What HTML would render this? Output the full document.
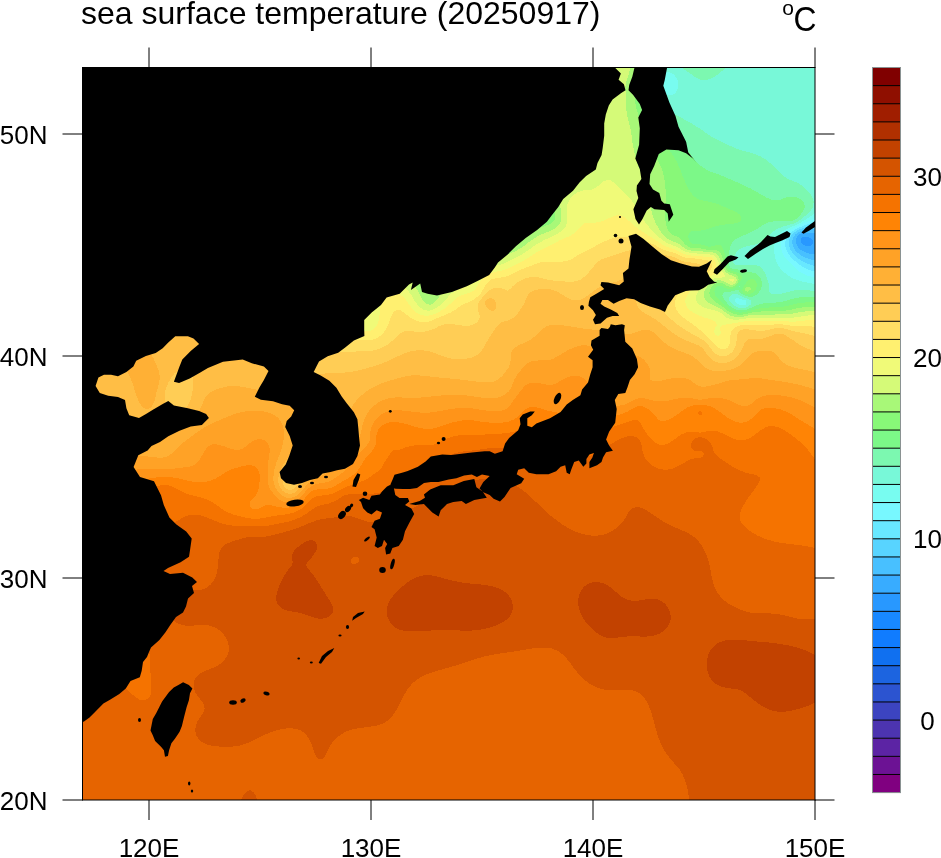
<!DOCTYPE html>
<html><head><meta charset="utf-8"><style>
html,body{margin:0;padding:0;background:#fff;}
svg{display:block;font-family:"Liberation Sans",sans-serif;}
.t{will-change:transform;}
</style></head><body>
<svg width="941" height="858" viewBox="0 0 941 858">
<defs><clipPath id="mc"><rect x="82" y="67" width="733" height="733"/></clipPath></defs>
<rect width="941" height="858" fill="#fff"/>
<g clip-path="url(#mc)" shape-rendering="crispEdges">
<path fill="#2898ff" d="M801.0 238.0L802.0 237.1L805.0 236.6L808.0 237.2L810.3 238.0L811.0 238.7L813.2 241.0L812.9 244.0L811.0 245.4L808.0 246.1L805.0 245.6L802.3 244.0L802.0 243.7L800.7 241.0Z"/><path fill="#38acff" d="M798.1 235.0L799.0 234.3L802.0 233.1L805.0 232.6L808.0 232.5L811.0 232.7L814.0 233.2L817.0 234.0L820.0 234.9L820.0 235.0L820.0 238.0L820.0 241.0L820.0 244.0L820.0 247.0L820.0 250.0L820.0 252.9L819.5 253.0L817.0 253.6L814.0 253.9L811.0 253.8L808.0 253.3L807.2 253.0L805.0 252.3L802.0 250.7L801.0 250.0L799.0 248.3L797.9 247.0L796.3 244.0L796.0 242.7L795.8 241.0L796.0 239.5L796.3 238.0ZM802.0 237.1L801.0 238.0L800.7 241.0L802.0 243.7L802.3 244.0L805.0 245.6L808.0 246.1L811.0 245.4L812.9 244.0L813.2 241.0L811.0 238.7L810.3 238.0L808.0 237.2L805.0 236.6Z"/><path fill="#48c0ff" d="M798.5 232.0L799.0 231.7L802.0 230.6L805.0 229.9L808.0 229.5L811.0 229.2L814.0 229.1L817.0 229.0L820.0 229.1L820.0 232.0L820.0 234.9L817.0 234.0L814.0 233.2L811.0 232.7L808.0 232.5L805.0 232.6L802.0 233.1L799.0 234.3L798.1 235.0L796.3 238.0L796.0 239.5L795.8 241.0L796.0 242.7L796.3 244.0L797.9 247.0L799.0 248.3L801.0 250.0L802.0 250.7L805.0 252.3L807.2 253.0L808.0 253.3L811.0 253.8L814.0 253.9L817.0 253.6L819.5 253.0L820.0 252.9L820.0 253.0L820.0 256.0L820.0 259.0L820.0 260.3L817.0 260.3L814.0 260.1L811.0 259.6L809.0 259.0L808.0 258.7L805.0 257.5L802.1 256.0L802.0 256.0L799.0 253.9L797.9 253.0L796.0 251.2L795.1 250.0L793.3 247.0L793.0 246.1L792.4 244.0L792.3 241.0L793.0 238.3L793.1 238.0L794.9 235.0L796.0 233.9Z"/><path fill="#58d4ff" d="M811.9 226.0L814.0 225.6L817.0 225.1L820.0 224.6L820.0 226.0L820.0 229.0L820.0 229.1L817.0 229.0L814.0 229.1L811.0 229.2L808.0 229.5L805.0 229.9L802.0 230.6L799.0 231.7L798.5 232.0L796.0 233.9L794.9 235.0L793.1 238.0L793.0 238.3L792.3 241.0L792.4 244.0L793.0 246.1L793.3 247.0L795.1 250.0L796.0 251.2L797.9 253.0L799.0 253.9L802.0 256.0L802.1 256.0L805.0 257.5L808.0 258.7L809.0 259.0L811.0 259.6L814.0 260.1L817.0 260.3L820.0 260.3L820.0 262.0L820.0 265.0L820.0 266.5L817.0 266.2L814.0 265.7L811.1 265.0L811.0 265.0L808.0 264.0L805.0 262.7L803.8 262.0L802.0 261.0L799.1 259.0L799.0 259.0L796.0 256.6L795.4 256.0L793.0 253.5L792.6 253.0L790.6 250.0L790.0 248.5L789.4 247.0L788.9 244.0L789.0 241.0L789.9 238.0L790.0 237.9L791.7 235.0L793.0 233.8L794.9 232.0L796.0 231.3L799.0 229.7L800.7 229.0L802.0 228.5L805.0 227.6L808.0 226.8L811.0 226.2Z"/><path fill="#68e8ff" d="M811.5 223.0L814.0 222.2L817.0 221.1L820.0 220.1L820.0 223.0L820.0 224.6L817.0 225.1L814.0 225.6L811.9 226.0L811.0 226.2L808.0 226.8L805.0 227.6L802.0 228.5L800.7 229.0L799.0 229.7L796.0 231.3L794.9 232.0L793.0 233.8L791.7 235.0L790.0 237.9L789.9 238.0L789.0 241.0L788.9 244.0L789.4 247.0L790.0 248.5L790.6 250.0L792.6 253.0L793.0 253.5L795.4 256.0L796.0 256.6L799.0 259.0L799.1 259.0L802.0 261.0L803.8 262.0L805.0 262.7L808.0 264.0L811.0 265.0L811.1 265.0L814.0 265.7L817.0 266.2L820.0 266.5L820.0 268.0L820.0 271.0L820.0 272.4L817.0 271.9L814.0 271.3L812.7 271.0L811.0 270.6L808.0 269.6L805.0 268.2L804.6 268.0L802.0 266.5L799.9 265.0L799.0 264.4L796.1 262.0L796.0 261.9L793.0 259.2L792.8 259.0L790.0 256.1L789.9 256.0L787.8 253.0L787.0 251.4L786.4 250.0L785.5 247.0L785.2 244.0L785.4 241.0L786.4 238.0L787.0 237.1L788.3 235.0L790.0 233.3L791.4 232.0L793.0 230.9L796.0 229.1L796.2 229.0L799.0 227.7L802.0 226.4L803.1 226.0L805.0 225.2L808.0 224.1L811.0 223.2Z"/><path fill="#78f8ff" d="M816.8 217.0L817.0 216.9L820.0 215.0L820.0 217.0L820.0 220.0L820.0 220.1L817.0 221.1L814.0 222.2L811.5 223.0L811.0 223.2L808.0 224.1L805.0 225.2L803.1 226.0L802.0 226.4L799.0 227.7L796.2 229.0L796.0 229.1L793.0 230.9L791.4 232.0L790.0 233.3L788.3 235.0L787.0 237.1L786.4 238.0L785.4 241.0L785.2 244.0L785.5 247.0L786.4 250.0L787.0 251.4L787.8 253.0L789.9 256.0L790.0 256.1L792.8 259.0L793.0 259.2L796.0 261.9L796.1 262.0L799.0 264.4L799.9 265.0L802.0 266.5L804.6 268.0L805.0 268.2L808.0 269.6L811.0 270.6L812.7 271.0L814.0 271.3L817.0 271.9L820.0 272.4L820.0 274.0L820.0 277.0L820.0 278.4L817.0 277.9L814.0 277.3L812.9 277.0L811.0 276.6L808.0 275.7L805.0 274.6L803.6 274.0L802.0 273.2L799.0 271.3L798.6 271.0L796.0 268.8L795.2 268.0L793.0 265.7L792.4 265.0L790.0 262.7L789.1 262.0L787.0 260.0L786.1 259.0L784.0 256.1L784.0 256.0L782.5 253.0L781.6 250.0L781.0 247.0L781.0 246.3L780.8 244.0L781.0 242.9L781.2 241.0L782.3 238.0L784.0 235.4L784.2 235.0L787.0 232.3L787.3 232.0L790.0 230.2L792.0 229.0L793.0 228.5L796.0 227.1L798.3 226.0L799.0 225.7L802.0 224.2L804.5 223.0L805.0 222.7L808.0 221.3L810.9 220.0L811.0 219.9L814.0 218.4Z"/><path fill="#78fcf0" d="M663.1 73.0L664.0 72.4L667.0 71.8L670.0 72.3L671.4 73.0L673.0 74.0L675.0 76.0L676.0 77.4L677.0 79.0L678.1 82.0L678.3 85.0L677.9 88.0L676.7 91.0L676.0 92.2L674.1 94.0L673.0 94.7L670.0 95.3L667.0 94.8L665.5 94.0L664.0 93.2L661.7 91.0L661.0 90.2L659.8 88.0L658.7 85.0L658.3 82.0L658.7 79.0L660.1 76.0L661.0 74.7ZM819.6 208.0L820.0 207.2L820.0 208.0L820.0 211.0L820.0 214.0L820.0 215.0L817.0 216.9L816.8 217.0L814.0 218.4L811.0 219.9L810.9 220.0L808.0 221.3L805.0 222.7L804.5 223.0L802.0 224.2L799.0 225.7L798.3 226.0L796.0 227.1L793.0 228.5L792.0 229.0L790.0 230.2L787.3 232.0L787.0 232.3L784.2 235.0L784.0 235.4L782.3 238.0L781.2 241.0L781.0 242.9L780.8 244.0L781.0 246.3L781.0 247.0L781.6 250.0L782.5 253.0L784.0 256.0L784.0 256.1L786.1 259.0L787.0 260.0L789.1 262.0L790.0 262.7L792.4 265.0L793.0 265.7L795.2 268.0L796.0 268.8L798.6 271.0L799.0 271.3L802.0 273.2L803.6 274.0L805.0 274.6L808.0 275.7L811.0 276.6L812.9 277.0L814.0 277.3L817.0 277.9L820.0 278.4L820.0 280.0L820.0 283.0L820.0 284.7L817.0 284.3L814.0 283.9L811.0 283.3L809.1 283.0L808.0 282.8L805.0 282.2L802.0 281.5L799.0 280.6L797.1 280.0L796.0 279.6L793.0 278.3L790.5 277.0L790.0 276.7L787.0 274.6L786.1 274.0L784.0 272.1L782.6 271.0L781.0 269.4L779.9 268.0L778.0 265.1L777.9 265.0L776.5 262.0L775.5 259.0L775.0 256.8L774.8 256.0L774.3 253.0L774.1 250.0L774.1 247.0L774.5 244.0L775.0 242.2L775.3 241.0L776.6 238.0L778.0 236.1L778.7 235.0L781.0 232.7L781.7 232.0L784.0 230.5L786.5 229.0L787.0 228.8L790.0 227.4L793.0 226.3L793.7 226.0L796.0 225.0L799.0 223.5L799.9 223.0L802.0 221.6L804.8 220.0L805.0 219.9L808.0 218.0L809.7 217.0L811.0 216.1L813.9 214.0L814.0 213.9L817.0 211.1L817.2 211.0ZM735.8 298.0L736.0 297.9L736.5 298.0L739.0 298.6L742.0 299.5L745.0 300.2L746.4 301.0L746.5 304.0L745.0 304.9L742.0 305.2L739.0 304.6L737.8 304.0L736.0 302.3L734.9 301.0Z"/><path fill="#78f8d8" d="M662.2 64.0L664.0 63.1L667.0 62.2L670.0 62.0L673.0 62.5L676.0 63.7L676.6 64.0L679.0 65.5L681.0 67.0L682.0 67.8L685.0 69.9L685.1 70.0L688.0 71.9L689.7 73.0L691.0 74.1L693.8 76.0L694.0 76.2L697.0 78.1L699.0 79.0L700.0 79.5L703.0 80.1L706.0 80.1L709.0 79.3L709.7 79.0L712.0 78.0L715.0 76.3L715.4 76.0L718.0 74.2L719.5 73.0L721.0 71.8L723.1 70.0L724.0 69.2L726.5 67.0L727.0 66.6L730.0 64.0L730.1 64.0L733.0 61.7L734.0 61.0L736.0 61.0L739.0 61.0L742.0 61.0L745.0 61.0L748.0 61.0L751.0 61.0L754.0 61.0L757.0 61.0L760.0 61.0L763.0 61.0L766.0 61.0L769.0 61.0L772.0 61.0L775.0 61.0L778.0 61.0L781.0 61.0L784.0 61.0L787.0 61.0L790.0 61.0L793.0 61.0L796.0 61.0L799.0 61.0L802.0 61.0L805.0 61.0L808.0 61.0L811.0 61.0L814.0 61.0L817.0 61.0L820.0 61.0L820.0 64.0L820.0 67.0L820.0 70.0L820.0 73.0L820.0 76.0L820.0 79.0L820.0 82.0L820.0 85.0L820.0 88.0L820.0 91.0L820.0 94.0L820.0 97.0L820.0 100.0L820.0 103.0L820.0 106.0L820.0 109.0L820.0 112.0L820.0 115.0L820.0 118.0L820.0 121.0L820.0 124.0L820.0 127.0L820.0 130.0L820.0 133.0L820.0 136.0L820.0 139.0L820.0 142.0L820.0 145.0L820.0 148.0L820.0 151.0L820.0 154.0L820.0 157.0L820.0 160.0L820.0 163.0L820.0 166.0L820.0 169.0L820.0 172.0L820.0 175.0L820.0 178.0L820.0 181.0L820.0 184.0L820.0 187.0L820.0 190.0L820.0 193.0L820.0 196.0L820.0 199.0L820.0 202.0L820.0 205.0L820.0 207.2L819.6 208.0L817.2 211.0L817.0 211.1L814.0 213.9L813.9 214.0L811.0 216.1L809.7 217.0L808.0 218.0L805.0 219.9L804.8 220.0L802.0 221.6L799.9 223.0L799.0 223.5L796.0 225.0L793.7 226.0L793.0 226.3L790.0 227.4L787.0 228.8L786.5 229.0L784.0 230.5L781.7 232.0L781.0 232.7L778.7 235.0L778.0 236.1L776.6 238.0L775.3 241.0L775.0 242.2L774.5 244.0L774.1 247.0L774.1 250.0L774.3 253.0L774.8 256.0L775.0 256.8L775.5 259.0L776.5 262.0L777.9 265.0L778.0 265.1L779.9 268.0L781.0 269.4L782.6 271.0L784.0 272.1L786.1 274.0L787.0 274.6L790.0 276.7L790.5 277.0L793.0 278.3L796.0 279.6L797.1 280.0L799.0 280.6L802.0 281.5L805.0 282.2L808.0 282.8L809.1 283.0L811.0 283.3L814.0 283.9L817.0 284.3L820.0 284.7L820.0 286.0L820.0 289.0L820.0 291.1L817.0 291.0L814.0 290.8L811.0 290.6L808.0 290.4L805.0 290.2L802.0 290.0L799.0 290.0L796.0 290.3L793.0 290.7L790.0 291.4L788.1 292.0L787.0 292.3L784.0 293.1L781.0 293.9L778.0 294.3L775.0 294.4L772.0 293.9L769.5 292.0L769.0 289.1L769.0 289.0L768.9 286.0L768.5 283.0L767.7 280.0L766.6 277.0L766.0 275.6L765.3 274.0L763.8 271.0L763.0 269.8L761.3 268.0L760.0 266.7L757.0 265.4L754.6 265.0L754.0 264.9L751.0 264.9L749.7 265.0L748.0 265.1L745.0 265.2L742.0 265.2L739.0 265.2L736.0 265.1L735.5 265.0L733.0 262.6L732.9 262.0L733.0 260.4L733.2 259.0L734.4 256.0L735.9 253.0L736.0 252.8L738.7 250.0L739.0 249.7L742.0 247.9L744.4 247.0L745.0 246.8L748.0 246.0L751.0 245.4L754.0 244.8L756.5 244.0L757.0 243.9L760.0 242.6L762.3 241.0L763.0 240.6L766.0 238.0L766.0 238.0L769.0 235.2L769.2 235.0L772.0 232.6L772.6 232.0L775.0 230.4L777.2 229.0L778.0 228.6L781.0 227.3L784.0 226.2L784.7 226.0L787.0 225.4L790.0 224.6L793.0 223.9L795.4 223.0L796.0 222.7L799.0 220.7L800.1 220.0L802.0 218.3L803.9 217.0L805.0 215.9L807.5 214.0L808.0 213.4L810.5 211.0L811.0 210.3L812.4 208.0L813.4 205.0L813.6 202.0L813.1 199.0L811.8 196.0L811.0 194.9L809.5 193.0L808.0 191.3L806.7 190.0L805.0 188.2L803.6 187.0L802.0 185.6L799.5 184.0L799.0 183.6L796.0 182.1L793.0 181.0L792.8 181.0L790.0 179.8L787.0 178.4L786.3 178.0L784.0 176.3L782.3 175.0L781.0 173.8L779.1 172.0L778.0 170.8L776.2 169.0L775.0 167.7L773.3 166.0L772.0 164.8L770.0 163.0L769.0 162.1L766.2 160.0L766.0 159.8L763.0 157.9L761.4 157.0L760.0 156.2L757.0 154.9L754.6 154.0L754.0 153.8L751.0 152.8L748.0 152.0L745.0 151.3L743.9 151.0L742.0 150.5L739.0 149.6L736.0 148.4L734.9 148.0L733.0 147.2L730.0 145.8L728.1 145.0L727.0 144.5L724.0 143.1L721.6 142.0L721.0 141.7L718.0 140.2L715.7 139.0L715.0 138.6L712.0 136.8L710.6 136.0L709.0 134.9L706.1 133.0L706.0 133.0L703.0 130.8L701.8 130.0L700.0 128.8L697.3 127.0L697.0 126.8L694.0 125.0L692.4 124.0L691.0 123.2L688.0 121.6L686.9 121.0L685.0 120.0L682.0 118.2L681.6 118.0L679.0 116.5L676.4 115.0L676.0 114.8L673.0 113.1L671.4 112.0L670.0 111.2L667.0 109.1L666.8 109.0L664.0 106.8L663.2 106.0L661.0 104.0L660.2 103.0L658.0 100.5L657.7 100.0L655.7 97.0L655.0 95.7L654.2 94.0L653.1 91.0L652.3 88.0L652.0 85.7L651.9 85.0L651.9 82.0L652.0 80.6L652.2 79.0L652.9 76.0L654.0 73.0L655.0 71.1L655.7 70.0L658.0 67.1L658.1 67.0L661.0 64.6ZM664.0 72.4L663.1 73.0L661.0 74.7L660.1 76.0L658.7 79.0L658.3 82.0L658.7 85.0L659.8 88.0L661.0 90.2L661.7 91.0L664.0 93.2L665.5 94.0L667.0 94.8L670.0 95.3L673.0 94.7L674.1 94.0L676.0 92.2L676.7 91.0L677.9 88.0L678.3 85.0L678.1 82.0L677.0 79.0L676.0 77.4L675.0 76.0L673.0 74.0L671.4 73.0L670.0 72.3L667.0 71.8ZM439.3 151.0L442.0 150.1L445.0 149.4L448.0 149.0L451.0 148.8L454.0 148.9L457.0 149.2L460.0 149.8L463.0 150.5L464.6 151.0L466.0 151.4L469.0 152.6L472.0 153.9L472.1 154.0L475.0 155.5L477.5 157.0L478.0 157.3L481.0 159.4L481.8 160.0L484.0 161.7L485.5 163.0L487.0 164.3L488.7 166.0L490.0 167.3L491.5 169.0L493.0 170.8L493.9 172.0L496.0 174.9L496.1 175.0L497.9 178.0L499.0 180.1L499.4 181.0L500.7 184.0L501.6 187.0L502.0 188.7L502.3 190.0L502.5 193.0L502.3 196.0L502.0 197.0L501.4 199.0L499.9 202.0L499.0 203.2L497.5 205.0L496.0 206.3L493.8 208.0L493.0 208.5L490.0 210.1L487.9 211.0L487.0 211.3L484.0 212.3L481.0 213.0L478.0 213.6L475.3 214.0L475.0 214.0L472.0 214.3L469.0 214.4L466.0 214.4L463.0 214.2L461.2 214.0L460.0 213.9L457.0 213.3L454.0 212.5L451.0 211.6L449.5 211.0L448.0 210.3L445.0 208.8L443.6 208.0L442.0 206.9L439.4 205.0L439.0 204.6L436.1 202.0L436.0 201.9L433.4 199.0L433.0 198.5L431.2 196.0L430.0 194.2L429.2 193.0L427.7 190.0L427.0 188.5L426.4 187.0L425.4 184.0L424.6 181.0L424.1 178.0L424.0 176.6L423.9 175.0L424.0 172.0L424.0 171.8L424.4 169.0L425.2 166.0L426.3 163.0L427.0 161.8L428.1 160.0L430.0 157.5L430.4 157.0L433.0 154.6L433.9 154.0L436.0 152.6L439.0 151.1ZM731.2 295.0L733.0 294.3L736.0 293.9L739.0 295.0L739.0 295.0L742.0 296.6L745.0 297.7L746.1 298.0L748.0 298.9L751.0 300.7L751.5 301.0L751.3 304.0L751.0 304.2L748.0 306.7L747.4 307.0L745.0 307.8L742.0 308.1L739.0 307.8L736.4 307.0L736.0 306.8L733.0 304.9L732.0 304.0L730.0 301.5L729.6 301.0L728.9 298.0L730.0 296.2ZM736.0 297.9L735.8 298.0L734.9 301.0L736.0 302.3L737.8 304.0L739.0 304.6L742.0 305.2L745.0 304.9L746.5 304.0L746.4 301.0L745.0 300.2L742.0 299.5L739.0 298.6L736.5 298.0Z"/><path fill="#7cf8b0" d="M651.7 64.0L652.0 63.5L653.7 61.0L655.0 61.0L658.0 61.0L661.0 61.0L664.0 61.0L667.0 61.0L670.0 61.0L673.0 61.0L676.0 61.0L679.0 61.0L682.0 61.0L685.0 61.0L688.0 61.0L691.0 61.0L694.0 61.0L697.0 61.0L700.0 61.0L703.0 61.0L706.0 61.0L709.0 61.0L712.0 61.0L715.0 61.0L718.0 61.0L721.0 61.0L724.0 61.0L727.0 61.0L730.0 61.0L733.0 61.0L734.0 61.0L733.0 61.7L730.1 64.0L730.0 64.0L727.0 66.6L726.5 67.0L724.0 69.2L723.1 70.0L721.0 71.8L719.5 73.0L718.0 74.2L715.4 76.0L715.0 76.3L712.0 78.0L709.7 79.0L709.0 79.3L706.0 80.1L703.0 80.1L700.0 79.5L699.0 79.0L697.0 78.1L694.0 76.2L693.8 76.0L691.0 74.1L689.7 73.0L688.0 71.9L685.1 70.0L685.0 69.9L682.0 67.8L681.0 67.0L679.0 65.5L676.6 64.0L676.0 63.7L673.0 62.5L670.0 62.0L667.0 62.2L664.0 63.1L662.2 64.0L661.0 64.6L658.1 67.0L658.0 67.1L655.7 70.0L655.0 71.1L654.0 73.0L652.9 76.0L652.2 79.0L652.0 80.6L651.9 82.0L651.9 85.0L652.0 85.7L652.3 88.0L653.1 91.0L654.2 94.0L655.0 95.7L655.7 97.0L657.7 100.0L658.0 100.5L660.2 103.0L661.0 104.0L663.2 106.0L664.0 106.8L666.8 109.0L667.0 109.1L670.0 111.2L671.4 112.0L673.0 113.1L676.0 114.8L676.4 115.0L679.0 116.5L681.6 118.0L682.0 118.2L685.0 120.0L686.9 121.0L688.0 121.6L691.0 123.2L692.4 124.0L694.0 125.0L697.0 126.8L697.3 127.0L700.0 128.8L701.8 130.0L703.0 130.8L706.0 133.0L706.1 133.0L709.0 134.9L710.6 136.0L712.0 136.8L715.0 138.6L715.7 139.0L718.0 140.2L721.0 141.7L721.6 142.0L724.0 143.1L727.0 144.5L728.1 145.0L730.0 145.8L733.0 147.2L734.9 148.0L736.0 148.4L739.0 149.6L742.0 150.5L743.9 151.0L745.0 151.3L748.0 152.0L751.0 152.8L754.0 153.8L754.6 154.0L757.0 154.9L760.0 156.2L761.4 157.0L763.0 157.9L766.0 159.8L766.2 160.0L769.0 162.1L770.0 163.0L772.0 164.8L773.3 166.0L775.0 167.7L776.2 169.0L778.0 170.8L779.1 172.0L781.0 173.8L782.3 175.0L784.0 176.3L786.3 178.0L787.0 178.4L790.0 179.8L792.8 181.0L793.0 181.0L796.0 182.1L799.0 183.6L799.5 184.0L802.0 185.6L803.6 187.0L805.0 188.2L806.7 190.0L808.0 191.3L809.5 193.0L811.0 194.9L811.8 196.0L813.1 199.0L813.6 202.0L813.4 205.0L812.4 208.0L811.0 210.3L810.5 211.0L808.0 213.4L807.5 214.0L805.0 215.9L803.9 217.0L802.0 218.3L800.1 220.0L799.0 220.7L796.0 222.7L795.4 223.0L793.0 223.9L790.0 224.6L787.0 225.4L784.7 226.0L784.0 226.2L781.0 227.3L778.0 228.6L777.2 229.0L775.0 230.4L772.6 232.0L772.0 232.6L769.2 235.0L769.0 235.2L766.0 238.0L766.0 238.0L763.0 240.6L762.3 241.0L760.0 242.6L757.0 243.9L756.5 244.0L754.0 244.8L751.0 245.4L748.0 246.0L745.0 246.8L744.4 247.0L742.0 247.9L739.0 249.7L738.7 250.0L736.0 252.8L735.9 253.0L734.4 256.0L733.2 259.0L733.0 260.4L732.9 262.0L733.0 262.6L735.5 265.0L736.0 265.1L739.0 265.2L742.0 265.2L745.0 265.2L748.0 265.1L749.7 265.0L751.0 264.9L754.0 264.9L754.6 265.0L757.0 265.4L760.0 266.7L761.3 268.0L763.0 269.8L763.8 271.0L765.3 274.0L766.0 275.6L766.6 277.0L767.7 280.0L768.5 283.0L768.9 286.0L769.0 289.0L769.0 289.1L769.5 292.0L772.0 293.9L775.0 294.4L778.0 294.3L781.0 293.9L784.0 293.1L787.0 292.3L788.1 292.0L790.0 291.4L793.0 290.7L796.0 290.3L799.0 290.0L802.0 290.0L805.0 290.2L808.0 290.4L811.0 290.6L814.0 290.8L817.0 291.0L820.0 291.1L820.0 292.0L820.0 295.0L820.0 296.9L817.0 297.0L814.0 297.1L811.0 297.2L808.0 297.1L805.0 297.0L802.0 297.2L799.0 297.5L796.2 298.0L796.0 298.0L793.0 298.7L790.0 299.6L787.0 300.5L785.4 301.0L784.0 301.4L781.0 302.0L778.0 302.4L775.0 302.6L772.0 302.7L769.0 302.9L766.0 303.1L763.0 303.5L760.9 304.0L760.0 304.1L757.0 305.0L754.0 306.5L753.3 307.0L751.0 307.9L748.0 309.1L745.1 310.0L745.0 310.0L742.0 310.4L739.0 310.3L737.7 310.0L736.0 309.6L733.0 308.2L731.2 307.0L730.0 306.0L727.8 304.0L727.0 303.0L725.2 301.0L724.0 298.9L723.3 298.0L722.2 295.0L724.0 292.4L727.0 292.0L727.0 292.0L730.0 291.7L733.0 291.2L736.0 290.2L739.0 289.5L739.6 292.0L742.0 294.1L743.4 295.0L745.0 295.7L748.0 296.5L751.0 296.8L754.0 296.4L756.2 295.0L757.0 294.3L759.0 292.0L760.0 290.4L760.9 289.0L761.8 286.0L762.0 283.0L761.4 280.0L760.0 277.2L759.9 277.0L757.0 274.1L756.7 274.0L754.0 272.8L751.0 272.4L748.0 272.2L745.0 271.6L743.2 271.0L742.0 270.7L739.0 269.8L736.0 269.2L733.0 268.8L730.4 268.0L730.0 267.7L728.9 265.0L728.5 262.0L728.6 259.0L728.8 256.0L729.1 253.0L729.5 250.0L730.0 247.6L730.2 247.0L731.4 244.0L733.0 241.6L733.5 241.0L736.0 239.0L737.7 238.0L739.0 237.3L742.0 236.0L744.5 235.0L745.0 234.8L748.0 233.5L751.0 232.2L751.4 232.0L754.0 230.6L756.8 229.0L757.0 228.9L760.0 227.0L761.6 226.0L763.0 225.1L766.0 223.5L767.2 223.0L769.0 222.2L772.0 221.6L775.0 221.3L778.0 221.2L781.0 221.3L784.0 221.3L787.0 221.2L790.0 221.1L793.0 220.6L794.6 220.0L796.0 219.1L798.3 217.0L799.0 216.2L801.0 214.0L802.0 212.5L803.1 211.0L804.5 208.0L804.6 205.0L803.4 202.0L802.0 200.4L800.3 199.0L799.0 198.2L796.0 197.0L793.0 196.5L790.0 196.5L787.0 197.1L784.0 198.2L782.2 199.0L781.0 199.5L778.0 200.2L775.0 200.2L772.0 199.7L769.9 199.0L769.0 198.7L766.0 197.3L763.6 196.0L763.0 195.6L760.0 193.8L758.6 193.0L757.0 192.0L754.0 190.3L753.4 190.0L751.0 188.7L748.0 187.3L747.4 187.0L745.0 185.9L742.0 184.5L740.8 184.0L739.0 183.2L736.0 181.8L734.1 181.0L733.0 180.5L730.0 179.2L727.3 178.0L727.0 177.9L724.0 176.6L721.0 175.4L719.9 175.0L718.0 174.3L715.0 173.3L712.0 172.2L711.5 172.0L709.0 170.9L706.0 169.4L705.4 169.0L703.0 167.5L701.1 166.0L700.0 165.2L697.7 163.0L697.0 162.3L694.9 160.0L694.0 158.9L692.5 157.0L691.0 155.1L690.2 154.0L688.0 151.0L688.0 151.0L685.8 148.0L685.0 147.0L683.5 145.0L682.0 143.1L681.1 142.0L679.0 139.5L678.6 139.0L676.0 136.0L676.0 136.0L673.3 133.0L673.0 132.7L670.6 130.0L670.0 129.3L668.0 127.0L667.0 126.0L665.3 124.0L664.0 122.5L662.7 121.0L661.0 118.9L660.3 118.0L658.0 115.1L657.9 115.0L655.8 112.0L655.0 110.8L653.9 109.0L652.1 106.0L652.0 105.8L650.6 103.0L649.3 100.0L649.0 99.3L648.2 97.0L647.3 94.0L646.7 91.0L646.3 88.0L646.1 85.0L646.2 82.0L646.5 79.0L647.0 76.0L647.8 73.0L648.8 70.0L649.0 69.5L650.1 67.0ZM733.0 294.3L731.2 295.0L730.0 296.2L728.9 298.0L729.6 301.0L730.0 301.5L732.0 304.0L733.0 304.9L736.0 306.8L736.4 307.0L739.0 307.8L742.0 308.1L745.0 307.8L747.4 307.0L748.0 306.7L751.0 304.2L751.3 304.0L751.5 301.0L751.0 300.7L748.0 298.9L746.1 298.0L745.0 297.7L742.0 296.6L739.0 295.0L739.0 295.0L736.0 293.9ZM425.7 103.0L427.0 103.0L430.0 103.0L430.6 103.0L433.0 103.1L436.0 103.4L439.0 103.8L442.0 104.3L445.0 104.9L448.0 105.6L449.4 106.0L451.0 106.4L454.0 107.4L457.0 108.4L458.4 109.0L460.0 109.6L463.0 110.9L465.4 112.0L466.0 112.3L469.0 113.8L471.3 115.0L472.0 115.4L475.0 117.1L476.4 118.0L478.0 119.0L481.0 121.0L481.0 121.0L484.0 123.2L485.1 124.0L487.0 125.5L488.9 127.0L490.0 127.9L492.4 130.0L493.0 130.6L495.6 133.0L496.0 133.4L498.6 136.0L499.0 136.4L501.4 139.0L502.0 139.7L503.9 142.0L505.0 143.3L506.3 145.0L508.0 147.2L508.6 148.0L510.7 151.0L511.0 151.4L512.6 154.0L514.0 156.2L514.5 157.0L516.2 160.0L517.0 161.5L517.7 163.0L519.2 166.0L520.0 167.7L520.6 169.0L521.8 172.0L523.0 175.0L523.0 175.0L524.0 178.0L525.0 181.0L525.9 184.0L526.0 184.3L526.7 187.0L527.3 190.0L527.9 193.0L528.3 196.0L528.5 199.0L528.4 202.0L527.9 205.0L526.7 208.0L526.0 209.2L524.8 211.0L523.0 213.0L522.1 214.0L520.0 215.8L518.7 217.0L517.0 218.3L514.7 220.0L514.0 220.5L511.0 222.5L510.2 223.0L508.0 224.2L505.0 225.8L504.7 226.0L502.0 227.2L499.0 228.4L497.3 229.0L496.0 229.4L493.0 230.3L490.0 231.1L487.0 231.9L486.5 232.0L484.0 232.5L481.0 233.1L478.0 233.7L475.0 234.3L472.0 234.8L471.1 235.0L469.0 235.4L466.0 235.8L463.0 236.3L460.0 236.7L457.0 237.1L454.0 237.3L451.0 237.5L448.0 237.5L445.0 237.4L442.0 237.0L439.0 236.5L436.0 235.6L434.1 235.0L433.0 234.6L430.0 233.2L427.6 232.0L427.0 231.7L424.0 229.9L422.6 229.0L421.0 227.9L418.3 226.0L418.0 225.8L415.0 223.4L414.5 223.0L412.0 220.9L410.9 220.0L409.0 218.3L407.5 217.0L406.0 215.5L404.4 214.0L403.0 212.6L401.5 211.0L400.0 209.4L398.7 208.0L397.0 206.1L396.1 205.0L394.0 202.4L393.7 202.0L391.4 199.0L391.0 198.4L389.3 196.0L388.0 194.0L387.4 193.0L385.6 190.0L385.0 188.9L383.9 187.0L382.5 184.0L382.0 182.9L381.1 181.0L380.0 178.0L379.0 175.3L378.9 175.0L378.0 172.0L377.2 169.0L376.6 166.0L376.1 163.0L376.0 162.0L375.8 160.0L375.6 157.0L375.5 154.0L375.6 151.0L375.8 148.0L376.0 146.4L376.2 145.0L376.7 142.0L377.5 139.0L378.4 136.0L379.0 134.4L379.5 133.0L380.9 130.0L382.0 127.9L382.5 127.0L384.4 124.0L385.0 123.2L386.7 121.0L388.0 119.4L389.3 118.0L391.0 116.4L392.6 115.0L394.0 113.8L396.5 112.0L397.0 111.7L400.0 109.8L401.5 109.0L403.0 108.3L406.0 107.0L408.6 106.0L409.0 105.9L412.0 105.0L415.0 104.3L418.0 103.7L421.0 103.3L424.0 103.1ZM442.0 150.1L439.3 151.0L439.0 151.1L436.0 152.6L433.9 154.0L433.0 154.6L430.4 157.0L430.0 157.5L428.1 160.0L427.0 161.8L426.3 163.0L425.2 166.0L424.4 169.0L424.0 171.8L424.0 172.0L423.9 175.0L424.0 176.6L424.1 178.0L424.6 181.0L425.4 184.0L426.4 187.0L427.0 188.5L427.7 190.0L429.2 193.0L430.0 194.2L431.2 196.0L433.0 198.5L433.4 199.0L436.0 201.9L436.1 202.0L439.0 204.6L439.4 205.0L442.0 206.9L443.6 208.0L445.0 208.8L448.0 210.3L449.5 211.0L451.0 211.6L454.0 212.5L457.0 213.3L460.0 213.9L461.2 214.0L463.0 214.2L466.0 214.4L469.0 214.4L472.0 214.3L475.0 214.0L475.3 214.0L478.0 213.6L481.0 213.0L484.0 212.3L487.0 211.3L487.9 211.0L490.0 210.1L493.0 208.5L493.8 208.0L496.0 206.3L497.5 205.0L499.0 203.2L499.9 202.0L501.4 199.0L502.0 197.0L502.3 196.0L502.5 193.0L502.3 190.0L502.0 188.7L501.6 187.0L500.7 184.0L499.4 181.0L499.0 180.1L497.9 178.0L496.1 175.0L496.0 174.9L493.9 172.0L493.0 170.8L491.5 169.0L490.0 167.3L488.7 166.0L487.0 164.3L485.5 163.0L484.0 161.7L481.8 160.0L481.0 159.4L478.0 157.3L477.5 157.0L475.0 155.5L472.1 154.0L472.0 153.9L469.0 152.6L466.0 151.4L464.6 151.0L463.0 150.5L460.0 149.8L457.0 149.2L454.0 148.9L451.0 148.8L448.0 149.0L445.0 149.4ZM738.8 286.0L739.0 285.7L740.3 286.0L739.0 288.1Z"/><path fill="#7cf888" d="M374.1 64.0L376.0 63.2L379.0 62.1L382.0 61.2L382.7 61.0L385.0 61.0L388.0 61.0L391.0 61.0L394.0 61.0L397.0 61.0L400.0 61.0L403.0 61.0L406.0 61.0L409.0 61.0L412.0 61.0L415.0 61.0L418.0 61.0L421.0 61.0L424.0 61.0L427.0 61.0L427.8 61.0L430.0 61.5L433.0 62.3L436.0 63.2L438.4 64.0L439.0 64.2L442.0 65.2L445.0 66.4L446.6 67.0L448.0 67.6L451.0 68.9L453.5 70.0L454.0 70.2L457.0 71.7L459.6 73.0L460.0 73.2L463.0 74.8L465.1 76.0L466.0 76.5L469.0 78.3L470.1 79.0L472.0 80.2L474.8 82.0L475.0 82.1L478.0 84.2L479.2 85.0L481.0 86.3L483.3 88.0L484.0 88.5L487.0 90.9L487.2 91.0L490.0 93.3L490.8 94.0L493.0 95.9L494.3 97.0L496.0 98.5L497.6 100.0L499.0 101.4L500.7 103.0L502.0 104.3L503.6 106.0L505.0 107.5L506.4 109.0L508.0 110.8L509.1 112.0L511.0 114.3L511.6 115.0L514.0 118.0L514.0 118.0L516.2 121.0L517.0 122.1L518.3 124.0L520.0 126.4L520.4 127.0L522.3 130.0L523.0 131.2L524.0 133.0L525.7 136.0L526.0 136.5L527.3 139.0L528.8 142.0L529.0 142.4L530.2 145.0L531.5 148.0L532.0 149.3L532.7 151.0L533.8 154.0L534.8 157.0L535.0 157.6L535.8 160.0L536.6 163.0L537.4 166.0L538.0 168.4L538.1 169.0L538.8 172.0L539.4 175.0L540.0 178.0L540.5 181.0L541.0 184.0L541.0 184.1L541.4 187.0L541.9 190.0L542.3 193.0L542.8 196.0L543.2 199.0L543.7 202.0L544.0 204.2L544.1 205.0L544.4 208.0L544.4 211.0L544.0 212.8L543.7 214.0L541.3 217.0L541.0 217.2L538.0 219.2L536.7 220.0L535.0 220.9L532.0 222.6L531.4 223.0L529.0 224.4L526.5 226.0L526.0 226.3L523.0 228.4L522.1 229.0L520.0 230.4L517.7 232.0L517.0 232.5L514.0 234.3L512.8 235.0L511.0 236.0L508.0 237.4L506.6 238.0L505.0 238.7L502.0 239.8L499.0 240.8L498.4 241.0L496.0 241.7L493.0 242.5L490.0 243.3L487.3 244.0L487.0 244.1L484.0 244.8L481.0 245.5L478.0 246.3L475.4 247.0L475.0 247.1L472.0 247.9L469.0 248.9L466.0 249.9L465.6 250.0L463.0 250.9L460.0 251.9L457.0 253.0L456.9 253.0L454.0 254.0L451.0 255.0L448.0 256.0L447.9 256.0L445.0 256.8L442.0 257.4L439.0 257.8L436.0 257.8L433.0 257.4L430.0 256.6L428.5 256.0L427.0 255.4L424.0 253.9L422.5 253.0L421.0 252.1L418.0 250.2L417.6 250.0L415.0 248.2L413.2 247.0L412.0 246.2L409.0 244.2L408.8 244.0L406.0 242.1L404.4 241.0L403.0 240.0L400.0 238.0L400.0 238.0L397.0 236.0L395.5 235.0L394.0 233.9L391.1 232.0L391.0 231.9L388.0 229.8L386.8 229.0L385.0 227.7L382.6 226.0L382.0 225.5L379.0 223.3L378.6 223.0L376.0 221.0L374.8 220.0L373.0 218.5L371.2 217.0L370.0 215.9L367.8 214.0L367.0 213.2L364.7 211.0L364.0 210.3L361.8 208.0L361.0 207.1L359.1 205.0L358.0 203.7L356.6 202.0L355.0 200.0L354.2 199.0L352.1 196.0L352.0 195.9L350.1 193.0L349.0 191.3L348.2 190.0L346.4 187.0L346.0 186.2L344.8 184.0L343.3 181.0L343.0 180.4L341.9 178.0L340.6 175.0L340.0 173.5L339.4 172.0L338.3 169.0L337.3 166.0L337.0 164.9L336.4 163.0L335.6 160.0L334.9 157.0L334.2 154.0L334.0 152.7L333.7 151.0L333.2 148.0L332.8 145.0L332.5 142.0L332.3 139.0L332.2 136.0L332.2 133.0L332.2 130.0L332.4 127.0L332.6 124.0L333.0 121.0L333.4 118.0L334.0 115.0L334.0 115.0L334.7 112.0L335.5 109.0L336.4 106.0L337.0 104.2L337.4 103.0L338.6 100.0L339.9 97.0L340.0 96.9L341.5 94.0L343.0 91.3L343.2 91.0L345.1 88.0L346.0 86.6L347.2 85.0L349.0 82.7L349.6 82.0L352.0 79.3L352.3 79.0L355.0 76.3L355.3 76.0L358.0 73.7L358.9 73.0L361.0 71.4L363.0 70.0L364.0 69.3L367.0 67.5L367.9 67.0L370.0 65.9L373.0 64.5ZM427.0 103.0L425.7 103.0L424.0 103.1L421.0 103.3L418.0 103.7L415.0 104.3L412.0 105.0L409.0 105.9L408.6 106.0L406.0 107.0L403.0 108.3L401.5 109.0L400.0 109.8L397.0 111.7L396.5 112.0L394.0 113.8L392.6 115.0L391.0 116.4L389.3 118.0L388.0 119.4L386.7 121.0L385.0 123.2L384.4 124.0L382.5 127.0L382.0 127.9L380.9 130.0L379.5 133.0L379.0 134.4L378.4 136.0L377.5 139.0L376.7 142.0L376.2 145.0L376.0 146.4L375.8 148.0L375.6 151.0L375.5 154.0L375.6 157.0L375.8 160.0L376.0 162.0L376.1 163.0L376.6 166.0L377.2 169.0L378.0 172.0L378.9 175.0L379.0 175.3L380.0 178.0L381.1 181.0L382.0 182.9L382.5 184.0L383.9 187.0L385.0 188.9L385.6 190.0L387.4 193.0L388.0 194.0L389.3 196.0L391.0 198.4L391.4 199.0L393.7 202.0L394.0 202.4L396.1 205.0L397.0 206.1L398.7 208.0L400.0 209.4L401.5 211.0L403.0 212.6L404.4 214.0L406.0 215.5L407.5 217.0L409.0 218.3L410.9 220.0L412.0 220.9L414.5 223.0L415.0 223.4L418.0 225.8L418.3 226.0L421.0 227.9L422.6 229.0L424.0 229.9L427.0 231.7L427.6 232.0L430.0 233.2L433.0 234.6L434.1 235.0L436.0 235.6L439.0 236.5L442.0 237.0L445.0 237.4L448.0 237.5L451.0 237.5L454.0 237.3L457.0 237.1L460.0 236.7L463.0 236.3L466.0 235.8L469.0 235.4L471.1 235.0L472.0 234.8L475.0 234.3L478.0 233.7L481.0 233.1L484.0 232.5L486.5 232.0L487.0 231.9L490.0 231.1L493.0 230.3L496.0 229.4L497.3 229.0L499.0 228.4L502.0 227.2L504.7 226.0L505.0 225.8L508.0 224.2L510.2 223.0L511.0 222.5L514.0 220.5L514.7 220.0L517.0 218.3L518.7 217.0L520.0 215.8L522.1 214.0L523.0 213.0L524.8 211.0L526.0 209.2L526.7 208.0L527.9 205.0L528.4 202.0L528.5 199.0L528.3 196.0L527.9 193.0L527.3 190.0L526.7 187.0L526.0 184.3L525.9 184.0L525.0 181.0L524.0 178.0L523.0 175.0L523.0 175.0L521.8 172.0L520.6 169.0L520.0 167.7L519.2 166.0L517.7 163.0L517.0 161.5L516.2 160.0L514.5 157.0L514.0 156.2L512.6 154.0L511.0 151.4L510.7 151.0L508.6 148.0L508.0 147.2L506.3 145.0L505.0 143.3L503.9 142.0L502.0 139.7L501.4 139.0L499.0 136.4L498.6 136.0L496.0 133.4L495.6 133.0L493.0 130.6L492.4 130.0L490.0 127.9L488.9 127.0L487.0 125.5L485.1 124.0L484.0 123.2L481.0 121.0L481.0 121.0L478.0 119.0L476.4 118.0L475.0 117.1L472.0 115.4L471.3 115.0L469.0 113.8L466.0 112.3L465.4 112.0L463.0 110.9L460.0 109.6L458.4 109.0L457.0 108.4L454.0 107.4L451.0 106.4L449.4 106.0L448.0 105.6L445.0 104.9L442.0 104.3L439.0 103.8L436.0 103.4L433.0 103.1L430.6 103.0L430.0 103.0ZM645.7 61.0L646.0 61.0L649.0 61.0L652.0 61.0L653.7 61.0L652.0 63.5L651.7 64.0L650.1 67.0L649.0 69.5L648.8 70.0L647.8 73.0L647.0 76.0L646.5 79.0L646.2 82.0L646.1 85.0L646.3 88.0L646.7 91.0L647.3 94.0L648.2 97.0L649.0 99.3L649.3 100.0L650.6 103.0L652.0 105.8L652.1 106.0L653.9 109.0L655.0 110.8L655.8 112.0L657.9 115.0L658.0 115.1L660.3 118.0L661.0 118.9L662.7 121.0L664.0 122.5L665.3 124.0L667.0 126.0L668.0 127.0L670.0 129.3L670.6 130.0L673.0 132.7L673.3 133.0L676.0 136.0L676.0 136.0L678.6 139.0L679.0 139.5L681.1 142.0L682.0 143.1L683.5 145.0L685.0 147.0L685.8 148.0L688.0 151.0L688.0 151.0L690.2 154.0L691.0 155.1L692.5 157.0L694.0 158.9L694.9 160.0L697.0 162.3L697.7 163.0L700.0 165.2L701.1 166.0L703.0 167.5L705.4 169.0L706.0 169.4L709.0 170.9L711.5 172.0L712.0 172.2L715.0 173.3L718.0 174.3L719.9 175.0L721.0 175.4L724.0 176.6L727.0 177.9L727.3 178.0L730.0 179.2L733.0 180.5L734.1 181.0L736.0 181.8L739.0 183.2L740.8 184.0L742.0 184.5L745.0 185.9L747.4 187.0L748.0 187.3L751.0 188.7L753.4 190.0L754.0 190.3L757.0 192.0L758.6 193.0L760.0 193.8L763.0 195.6L763.6 196.0L766.0 197.3L769.0 198.7L769.9 199.0L772.0 199.7L775.0 200.2L778.0 200.2L781.0 199.5L782.2 199.0L784.0 198.2L787.0 197.1L790.0 196.5L793.0 196.5L796.0 197.0L799.0 198.2L800.3 199.0L802.0 200.4L803.4 202.0L804.6 205.0L804.5 208.0L803.1 211.0L802.0 212.5L801.0 214.0L799.0 216.2L798.3 217.0L796.0 219.1L794.6 220.0L793.0 220.6L790.0 221.1L787.0 221.2L784.0 221.3L781.0 221.3L778.0 221.2L775.0 221.3L772.0 221.6L769.0 222.2L767.2 223.0L766.0 223.5L763.0 225.1L761.6 226.0L760.0 227.0L757.0 228.9L756.8 229.0L754.0 230.6L751.4 232.0L751.0 232.2L748.0 233.5L745.0 234.8L744.5 235.0L742.0 236.0L739.0 237.3L737.7 238.0L736.0 239.0L733.5 241.0L733.0 241.6L731.4 244.0L730.2 247.0L730.0 247.6L729.5 250.0L729.1 253.0L728.8 256.0L728.6 259.0L728.5 262.0L728.9 265.0L730.0 267.7L730.4 268.0L733.0 268.8L736.0 269.2L739.0 269.8L742.0 270.7L743.2 271.0L745.0 271.6L748.0 272.2L751.0 272.4L754.0 272.8L756.7 274.0L757.0 274.1L759.9 277.0L760.0 277.2L761.4 280.0L762.0 283.0L761.8 286.0L760.9 289.0L760.0 290.4L759.0 292.0L757.0 294.3L756.2 295.0L754.0 296.4L751.0 296.8L748.0 296.5L745.0 295.7L743.4 295.0L742.0 294.1L739.6 292.0L739.0 289.5L736.0 290.2L733.0 291.2L730.0 291.7L727.0 292.0L727.0 292.0L724.0 292.4L722.2 295.0L723.3 298.0L724.0 298.9L725.2 301.0L727.0 303.0L727.8 304.0L730.0 306.0L731.2 307.0L733.0 308.2L736.0 309.6L737.7 310.0L739.0 310.3L742.0 310.4L745.0 310.0L745.1 310.0L748.0 309.1L751.0 307.9L753.3 307.0L754.0 306.5L757.0 305.0L760.0 304.1L760.9 304.0L763.0 303.5L766.0 303.1L769.0 302.9L772.0 302.7L775.0 302.6L778.0 302.4L781.0 302.0L784.0 301.4L785.4 301.0L787.0 300.5L790.0 299.6L793.0 298.7L796.0 298.0L796.2 298.0L799.0 297.5L802.0 297.2L805.0 297.0L808.0 297.1L811.0 297.2L814.0 297.1L817.0 297.0L820.0 296.9L820.0 298.0L820.0 301.0L820.0 302.1L817.0 302.2L814.0 302.3L811.0 302.4L808.0 302.4L805.0 302.5L802.0 302.7L799.0 303.2L796.0 303.8L795.1 304.0L793.0 304.5L790.0 305.2L787.0 306.0L784.0 306.6L781.6 307.0L781.0 307.1L778.0 307.3L775.0 307.4L772.0 307.4L769.0 307.5L766.0 307.7L763.0 308.0L760.0 308.3L757.0 308.9L754.0 309.7L752.9 310.0L751.0 310.5L748.0 311.3L745.0 312.0L742.0 312.5L739.0 312.5L736.0 312.0L733.0 311.0L731.2 310.0L730.0 309.2L727.1 307.0L727.0 306.9L724.0 304.2L723.7 304.0L721.0 301.5L720.3 301.0L718.0 298.7L717.2 298.0L715.1 295.0L715.0 294.7L714.4 292.0L714.9 289.0L715.0 288.9L717.5 286.0L718.0 285.8L721.0 285.6L721.9 286.0L724.0 287.3L727.0 288.6L730.0 289.0L730.0 289.0L730.0 289.0L733.0 288.6L736.0 287.0L736.7 286.0L738.7 283.0L739.0 282.4L741.4 280.0L741.9 277.0L740.0 274.0L739.0 273.4L736.0 272.0L733.0 271.3L732.1 271.0L730.0 270.2L727.5 268.0L727.0 266.9L726.2 265.0L725.7 262.0L725.5 259.0L725.1 256.0L724.6 253.0L724.0 250.8L723.7 250.0L722.0 247.0L721.0 245.6L718.0 244.8L715.0 245.4L712.0 246.4L709.0 246.7L706.0 245.7L703.0 244.9L700.0 244.4L697.0 244.2L694.0 244.1L693.6 244.0L691.0 243.0L689.3 241.0L688.4 238.0L688.4 235.0L690.3 232.0L691.0 231.5L694.0 230.8L697.0 230.7L700.0 230.6L703.0 230.2L706.0 229.4L707.3 229.0L709.0 228.4L712.0 227.4L715.0 226.6L717.5 226.0L718.0 225.8L721.0 225.2L724.0 224.7L727.0 224.3L730.0 224.0L733.0 223.7L736.0 223.3L737.2 223.0L739.0 222.2L741.1 220.0L741.3 217.0L739.3 214.0L739.0 213.8L736.0 212.0L734.0 211.0L733.0 210.6L730.0 209.4L727.0 208.0L727.0 208.0L724.0 206.8L721.0 205.5L720.0 205.0L718.0 204.3L715.0 203.2L712.0 202.4L710.4 202.0L709.0 201.7L706.0 201.1L703.0 200.6L700.0 199.9L697.9 199.0L697.0 198.5L694.0 196.3L693.7 196.0L691.1 193.0L691.0 192.9L689.2 190.0L688.0 188.0L687.5 187.0L686.1 184.0L685.0 181.6L684.8 181.0L683.5 178.0L682.3 175.0L682.0 174.3L681.1 172.0L680.0 169.0L679.0 166.7L678.7 166.0L677.4 163.0L676.0 160.4L675.8 160.0L674.0 157.0L673.0 155.4L672.1 154.0L670.0 151.0L670.0 151.0L667.9 148.0L667.0 146.7L665.8 145.0L664.0 142.4L663.7 142.0L661.7 139.0L661.0 138.1L659.7 136.0L658.0 133.5L657.7 133.0L655.8 130.0L655.0 128.7L654.0 127.0L652.3 124.0L652.0 123.5L650.6 121.0L649.1 118.0L649.0 117.9L647.6 115.0L646.2 112.0L646.0 111.4L645.0 109.0L643.9 106.0L643.0 103.1L643.0 103.0L642.2 100.0L641.5 97.0L641.0 94.0L640.6 91.0L640.4 88.0L640.4 85.0L640.6 82.0L640.9 79.0L641.4 76.0L642.0 73.0L642.7 70.0L643.0 69.0L643.6 67.0L644.6 64.0ZM751.0 279.1L748.4 280.0L748.0 280.2L746.0 283.0L745.0 284.0L744.1 286.0L742.3 289.0L742.6 292.0L745.0 293.7L748.0 294.3L751.0 293.7L753.9 292.0L754.0 291.8L755.9 289.0L756.7 286.0L756.5 283.0L754.6 280.0L754.0 279.5ZM739.0 285.7L738.8 286.0L739.0 288.1L740.3 286.0Z"/><path fill="#88f878" d="M294.3 64.0L295.0 62.1L295.4 61.0L298.0 61.0L301.0 61.0L304.0 61.0L307.0 61.0L310.0 61.0L313.0 61.0L316.0 61.0L319.0 61.0L322.0 61.0L325.0 61.0L328.0 61.0L331.0 61.0L334.0 61.0L337.0 61.0L340.0 61.0L343.0 61.0L346.0 61.0L349.0 61.0L352.0 61.0L355.0 61.0L358.0 61.0L361.0 61.0L364.0 61.0L367.0 61.0L370.0 61.0L373.0 61.0L376.0 61.0L379.0 61.0L382.0 61.0L382.7 61.0L382.0 61.2L379.0 62.1L376.0 63.2L374.1 64.0L373.0 64.5L370.0 65.9L367.9 67.0L367.0 67.5L364.0 69.3L363.0 70.0L361.0 71.4L358.9 73.0L358.0 73.7L355.3 76.0L355.0 76.3L352.3 79.0L352.0 79.3L349.6 82.0L349.0 82.7L347.2 85.0L346.0 86.6L345.1 88.0L343.2 91.0L343.0 91.3L341.5 94.0L340.0 96.9L339.9 97.0L338.6 100.0L337.4 103.0L337.0 104.2L336.4 106.0L335.5 109.0L334.7 112.0L334.0 115.0L334.0 115.0L333.4 118.0L333.0 121.0L332.6 124.0L332.4 127.0L332.2 130.0L332.2 133.0L332.2 136.0L332.3 139.0L332.5 142.0L332.8 145.0L333.2 148.0L333.7 151.0L334.0 152.7L334.2 154.0L334.9 157.0L335.6 160.0L336.4 163.0L337.0 164.9L337.3 166.0L338.3 169.0L339.4 172.0L340.0 173.5L340.6 175.0L341.9 178.0L343.0 180.4L343.3 181.0L344.8 184.0L346.0 186.2L346.4 187.0L348.2 190.0L349.0 191.3L350.1 193.0L352.0 195.9L352.1 196.0L354.2 199.0L355.0 200.0L356.6 202.0L358.0 203.7L359.1 205.0L361.0 207.1L361.8 208.0L364.0 210.3L364.7 211.0L367.0 213.2L367.8 214.0L370.0 215.9L371.2 217.0L373.0 218.5L374.8 220.0L376.0 221.0L378.6 223.0L379.0 223.3L382.0 225.5L382.6 226.0L385.0 227.7L386.8 229.0L388.0 229.8L391.0 231.9L391.1 232.0L394.0 233.9L395.5 235.0L397.0 236.0L400.0 238.0L400.0 238.0L403.0 240.0L404.4 241.0L406.0 242.1L408.8 244.0L409.0 244.2L412.0 246.2L413.2 247.0L415.0 248.2L417.6 250.0L418.0 250.2L421.0 252.1L422.5 253.0L424.0 253.9L427.0 255.4L428.5 256.0L430.0 256.6L433.0 257.4L436.0 257.8L439.0 257.8L442.0 257.4L445.0 256.8L447.9 256.0L448.0 256.0L451.0 255.0L454.0 254.0L456.9 253.0L457.0 253.0L460.0 251.9L463.0 250.9L465.6 250.0L466.0 249.9L469.0 248.9L472.0 247.9L475.0 247.1L475.4 247.0L478.0 246.3L481.0 245.5L484.0 244.8L487.0 244.1L487.3 244.0L490.0 243.3L493.0 242.5L496.0 241.7L498.4 241.0L499.0 240.8L502.0 239.8L505.0 238.7L506.6 238.0L508.0 237.4L511.0 236.0L512.8 235.0L514.0 234.3L517.0 232.5L517.7 232.0L520.0 230.4L522.1 229.0L523.0 228.4L526.0 226.3L526.5 226.0L529.0 224.4L531.4 223.0L532.0 222.6L535.0 220.9L536.7 220.0L538.0 219.2L541.0 217.2L541.3 217.0L543.7 214.0L544.0 212.8L544.4 211.0L544.4 208.0L544.1 205.0L544.0 204.2L543.7 202.0L543.2 199.0L542.8 196.0L542.3 193.0L541.9 190.0L541.4 187.0L541.0 184.1L541.0 184.0L540.5 181.0L540.0 178.0L539.4 175.0L538.8 172.0L538.1 169.0L538.0 168.4L537.4 166.0L536.6 163.0L535.8 160.0L535.0 157.6L534.8 157.0L533.8 154.0L532.7 151.0L532.0 149.3L531.5 148.0L530.2 145.0L529.0 142.4L528.8 142.0L527.3 139.0L526.0 136.5L525.7 136.0L524.0 133.0L523.0 131.2L522.3 130.0L520.4 127.0L520.0 126.4L518.3 124.0L517.0 122.1L516.2 121.0L514.0 118.0L514.0 118.0L511.6 115.0L511.0 114.3L509.1 112.0L508.0 110.8L506.4 109.0L505.0 107.5L503.6 106.0L502.0 104.3L500.7 103.0L499.0 101.4L497.6 100.0L496.0 98.5L494.3 97.0L493.0 95.9L490.8 94.0L490.0 93.3L487.2 91.0L487.0 90.9L484.0 88.5L483.3 88.0L481.0 86.3L479.2 85.0L478.0 84.2L475.0 82.1L474.8 82.0L472.0 80.2L470.1 79.0L469.0 78.3L466.0 76.5L465.1 76.0L463.0 74.8L460.0 73.2L459.6 73.0L457.0 71.7L454.0 70.2L453.5 70.0L451.0 68.9L448.0 67.6L446.6 67.0L445.0 66.4L442.0 65.2L439.0 64.2L438.4 64.0L436.0 63.2L433.0 62.3L430.0 61.5L427.8 61.0L430.0 61.0L433.0 61.0L436.0 61.0L439.0 61.0L442.0 61.0L445.0 61.0L448.0 61.0L451.0 61.0L454.0 61.0L457.0 61.0L460.0 61.0L463.0 61.0L466.0 61.0L469.0 61.0L472.0 61.0L475.0 61.0L478.0 61.0L481.0 61.0L484.0 61.0L487.0 61.0L490.0 61.0L493.0 61.0L496.0 61.0L496.1 61.0L499.0 63.7L499.3 64.0L502.0 66.6L502.4 67.0L505.0 69.6L505.4 70.0L508.0 72.7L508.2 73.0L511.0 75.9L511.0 76.0L513.8 79.0L514.0 79.3L516.4 82.0L517.0 82.7L518.9 85.0L520.0 86.3L521.4 88.0L523.0 90.1L523.7 91.0L526.0 94.0L526.0 94.1L528.1 97.0L529.0 98.3L530.2 100.0L532.0 102.8L532.1 103.0L534.0 106.0L535.0 107.7L535.8 109.0L537.4 112.0L538.0 113.1L539.0 115.0L540.5 118.0L541.0 119.1L541.9 121.0L543.2 124.0L544.0 126.0L544.4 127.0L545.5 130.0L546.6 133.0L547.0 134.3L547.6 136.0L548.5 139.0L549.3 142.0L550.0 145.0L550.0 145.0L550.7 148.0L551.2 151.0L551.7 154.0L552.2 157.0L552.5 160.0L552.7 163.0L552.9 166.0L553.0 168.1L553.0 169.0L553.1 172.0L553.1 175.0L553.0 178.0L553.0 178.3L552.9 181.0L552.8 184.0L552.8 187.0L552.7 190.0L552.7 193.0L552.8 196.0L552.9 199.0L553.0 199.9L553.2 202.0L553.5 205.0L554.0 208.0L554.5 211.0L555.0 214.0L555.3 217.0L554.7 220.0L553.0 222.1L551.8 223.0L550.0 224.0L547.0 225.3L545.2 226.0L544.0 226.4L541.0 227.5L538.0 228.8L537.6 229.0L535.0 230.3L532.0 232.0L532.0 232.0L529.0 234.0L527.6 235.0L526.0 236.1L523.5 238.0L523.0 238.4L520.0 240.7L519.5 241.0L517.0 242.6L514.4 244.0L514.0 244.2L511.0 245.5L508.0 246.8L507.6 247.0L505.0 248.0L502.0 249.2L499.6 250.0L499.0 250.2L496.0 251.1L493.0 251.9L490.0 252.7L488.8 253.0L487.0 253.4L484.0 254.2L481.0 255.1L478.5 256.0L478.0 256.2L475.0 257.3L472.0 258.6L471.1 259.0L469.0 260.0L466.0 261.5L465.1 262.0L463.0 263.2L460.0 264.9L459.8 265.0L457.0 266.7L454.8 268.0L454.0 268.5L451.0 270.4L450.0 271.0L448.0 272.3L445.4 274.0L445.0 274.3L442.0 276.4L441.0 277.0L439.0 278.5L436.5 280.0L436.0 280.4L433.0 281.6L430.0 281.6L427.3 280.0L427.0 279.8L424.0 277.0L424.0 277.0L421.1 274.0L421.0 273.9L418.1 271.0L418.0 270.9L415.0 268.1L414.9 268.0L412.0 265.5L411.3 265.0L409.0 263.2L407.4 262.0L406.0 261.0L403.0 259.1L402.9 259.0L400.0 257.2L397.8 256.0L397.0 255.5L394.0 253.9L392.0 253.0L391.0 252.5L388.0 251.1L385.5 250.0L385.0 249.8L382.0 248.5L379.0 247.3L378.3 247.0L376.0 246.0L373.0 244.8L371.0 244.0L370.0 243.6L367.0 242.3L364.1 241.0L364.0 241.0L361.0 239.5L358.0 238.0L357.9 238.0L355.0 236.4L352.6 235.0L352.0 234.7L349.0 232.8L347.9 232.0L346.0 230.7L343.7 229.0L343.0 228.4L340.0 226.0L340.0 226.0L337.0 223.4L336.6 223.0L334.0 220.5L333.5 220.0L331.0 217.4L330.6 217.0L328.0 214.1L327.9 214.0L325.4 211.0L325.0 210.5L323.1 208.0L322.0 206.6L320.8 205.0L319.0 202.4L318.7 202.0L316.7 199.0L316.0 197.9L314.8 196.0L313.0 193.0L313.0 193.0L311.3 190.0L310.0 187.7L309.6 187.0L308.0 184.0L307.0 182.0L306.5 181.0L305.1 178.0L304.0 175.7L303.7 175.0L302.4 172.0L301.1 169.0L301.0 168.6L300.0 166.0L298.8 163.0L298.0 160.7L297.8 160.0L296.7 157.0L295.8 154.0L295.0 151.4L294.9 151.0L294.0 148.0L293.2 145.0L292.5 142.0L292.0 139.9L291.8 139.0L291.2 136.0L290.6 133.0L290.0 130.0L289.6 127.0L289.2 124.0L289.0 122.6L288.8 121.0L288.5 118.0L288.3 115.0L288.1 112.0L288.0 109.0L287.9 106.0L287.9 103.0L287.9 100.0L288.1 97.0L288.3 94.0L288.5 91.0L288.8 88.0L289.0 86.8L289.2 85.0L289.7 82.0L290.3 79.0L290.9 76.0L291.6 73.0L292.0 71.6L292.4 70.0L293.3 67.0ZM638.5 61.0L640.0 61.0L643.0 61.0L645.7 61.0L644.6 64.0L643.6 67.0L643.0 69.0L642.7 70.0L642.0 73.0L641.4 76.0L640.9 79.0L640.6 82.0L640.4 85.0L640.4 88.0L640.6 91.0L641.0 94.0L641.5 97.0L642.2 100.0L643.0 103.0L643.0 103.1L643.9 106.0L645.0 109.0L646.0 111.4L646.2 112.0L647.6 115.0L649.0 117.9L649.1 118.0L650.6 121.0L652.0 123.5L652.3 124.0L654.0 127.0L655.0 128.7L655.8 130.0L657.7 133.0L658.0 133.5L659.7 136.0L661.0 138.1L661.7 139.0L663.7 142.0L664.0 142.4L665.8 145.0L667.0 146.7L667.9 148.0L670.0 151.0L670.0 151.0L672.1 154.0L673.0 155.4L674.0 157.0L675.8 160.0L676.0 160.4L677.4 163.0L678.7 166.0L679.0 166.7L680.0 169.0L681.1 172.0L682.0 174.3L682.3 175.0L683.5 178.0L684.8 181.0L685.0 181.6L686.1 184.0L687.5 187.0L688.0 188.0L689.2 190.0L691.0 192.9L691.1 193.0L693.7 196.0L694.0 196.3L697.0 198.5L697.9 199.0L700.0 199.9L703.0 200.6L706.0 201.1L709.0 201.7L710.4 202.0L712.0 202.4L715.0 203.2L718.0 204.3L720.0 205.0L721.0 205.5L724.0 206.8L727.0 208.0L727.0 208.0L730.0 209.4L733.0 210.6L734.0 211.0L736.0 212.0L739.0 213.8L739.3 214.0L741.3 217.0L741.1 220.0L739.0 222.2L737.2 223.0L736.0 223.3L733.0 223.7L730.0 224.0L727.0 224.3L724.0 224.7L721.0 225.2L718.0 225.8L717.5 226.0L715.0 226.6L712.0 227.4L709.0 228.4L707.3 229.0L706.0 229.4L703.0 230.2L700.0 230.6L697.0 230.7L694.0 230.8L691.0 231.5L690.3 232.0L688.4 235.0L688.4 238.0L689.3 241.0L691.0 243.0L693.6 244.0L694.0 244.1L697.0 244.2L700.0 244.4L703.0 244.9L706.0 245.7L709.0 246.7L712.0 246.4L715.0 245.4L718.0 244.8L721.0 245.6L722.0 247.0L723.7 250.0L724.0 250.8L724.6 253.0L725.1 256.0L725.5 259.0L725.7 262.0L726.2 265.0L727.0 266.9L727.5 268.0L730.0 270.2L732.1 271.0L733.0 271.3L736.0 272.0L739.0 273.4L740.0 274.0L741.9 277.0L741.4 280.0L739.0 282.4L738.7 283.0L736.7 286.0L736.0 287.0L733.0 288.6L730.0 289.0L730.0 289.0L730.0 289.0L727.0 288.6L724.0 287.3L721.9 286.0L721.0 285.6L718.0 285.8L717.5 286.0L715.0 288.9L714.9 289.0L714.4 292.0L715.0 294.7L715.1 295.0L717.2 298.0L718.0 298.7L720.3 301.0L721.0 301.5L723.7 304.0L724.0 304.2L727.0 306.9L727.1 307.0L730.0 309.2L731.2 310.0L733.0 311.0L736.0 312.0L739.0 312.5L742.0 312.5L745.0 312.0L748.0 311.3L751.0 310.5L752.9 310.0L754.0 309.7L757.0 308.9L760.0 308.3L763.0 308.0L766.0 307.7L769.0 307.5L772.0 307.4L775.0 307.4L778.0 307.3L781.0 307.1L781.6 307.0L784.0 306.6L787.0 306.0L790.0 305.2L793.0 304.5L795.1 304.0L796.0 303.8L799.0 303.2L802.0 302.7L805.0 302.5L808.0 302.4L811.0 302.4L814.0 302.3L817.0 302.2L820.0 302.1L820.0 304.0L820.0 306.9L817.0 306.8L814.0 306.8L811.0 306.9L808.0 307.0L807.3 307.0L805.0 307.1L802.0 307.5L799.0 307.9L796.0 308.6L793.0 309.3L790.0 309.9L789.5 310.0L787.0 310.4L784.0 310.7L781.0 310.9L778.0 311.0L775.0 311.1L772.0 311.1L769.0 311.2L766.0 311.3L763.0 311.4L760.0 311.6L757.0 311.9L754.0 312.2L751.0 312.7L749.6 313.0L748.0 313.4L745.0 314.1L742.0 314.6L739.0 314.7L736.0 314.4L733.0 313.7L731.5 313.0L730.0 312.2L727.0 310.2L726.8 310.0L724.0 307.8L723.0 307.0L721.0 305.5L718.6 304.0L718.0 303.5L715.0 301.6L714.1 301.0L712.0 299.0L711.1 298.0L709.6 295.0L709.4 292.0L710.3 289.0L712.0 286.5L712.3 286.0L715.0 284.0L717.1 283.0L718.0 282.7L721.0 282.8L721.6 283.0L724.0 284.1L727.0 285.8L727.5 286.0L730.0 286.8L733.0 286.6L733.9 286.0L736.0 284.7L737.3 283.0L738.6 280.0L738.4 277.0L736.0 274.6L734.7 274.0L733.0 273.4L730.0 272.5L727.7 271.0L727.0 270.4L725.2 268.0L724.0 265.0L724.0 265.0L723.3 262.0L722.7 259.0L721.9 256.0L721.0 254.0L720.3 253.0L718.0 250.9L715.0 250.1L712.0 250.1L709.0 250.1L708.4 250.0L706.0 249.4L703.0 248.8L700.0 248.3L697.0 248.1L694.0 248.0L691.0 247.8L688.6 247.0L688.0 246.7L685.0 244.1L684.8 244.0L682.4 241.0L682.0 240.4L679.7 238.0L679.0 237.3L676.0 236.1L673.0 235.2L672.6 235.0L670.0 232.9L669.3 232.0L667.7 229.0L667.0 227.3L666.5 226.0L665.8 223.0L665.3 220.0L665.1 217.0L665.0 214.0L665.0 211.0L665.2 208.0L665.4 205.0L665.6 202.0L665.7 199.0L665.8 196.0L665.8 193.0L665.6 190.0L665.4 187.0L665.0 184.0L664.6 181.0L664.1 178.0L664.0 177.6L663.5 175.0L662.7 172.0L661.8 169.0L661.0 167.0L660.6 166.0L659.2 163.0L658.0 160.6L657.7 160.0L656.1 157.0L655.0 154.9L654.5 154.0L652.9 151.0L652.0 149.2L651.4 148.0L650.0 145.0L649.0 142.9L648.6 142.0L647.3 139.0L646.0 136.0L646.0 136.0L644.8 133.0L643.6 130.0L643.0 128.5L642.4 127.0L641.3 124.0L640.2 121.0L640.0 120.3L639.2 118.0L638.2 115.0L637.4 112.0L637.0 110.4L636.6 109.0L636.0 106.0L635.4 103.0L635.0 100.0L634.6 97.0L634.3 94.0L634.1 91.0L634.0 88.0L634.1 85.0L634.4 82.0L634.9 79.0L635.4 76.0L636.0 73.0L636.6 70.0L637.0 68.2L637.2 67.0L637.8 64.0ZM748.4 280.0L751.0 279.1L754.0 279.5L754.6 280.0L756.5 283.0L756.7 286.0L755.9 289.0L754.0 291.8L753.9 292.0L751.0 293.7L748.0 294.3L745.0 293.7L742.6 292.0L742.3 289.0L744.1 286.0L745.0 284.0L746.0 283.0L748.0 280.2ZM745.0 288.1L744.4 289.0L745.0 291.0L748.0 291.9L751.0 289.1L751.1 289.0L751.0 288.6L748.0 286.2Z"/><path fill="#a8f878" d="M236.3 61.0L238.0 61.0L241.0 61.0L244.0 61.0L247.0 61.0L250.0 61.0L253.0 61.0L256.0 61.0L259.0 61.0L262.0 61.0L265.0 61.0L268.0 61.0L271.0 61.0L274.0 61.0L277.0 61.0L280.0 61.0L283.0 61.0L286.0 61.0L289.0 61.0L292.0 61.0L295.0 61.0L295.4 61.0L295.0 62.1L294.3 64.0L293.3 67.0L292.4 70.0L292.0 71.6L291.6 73.0L290.9 76.0L290.3 79.0L289.7 82.0L289.2 85.0L289.0 86.8L288.8 88.0L288.5 91.0L288.3 94.0L288.1 97.0L287.9 100.0L287.9 103.0L287.9 106.0L288.0 109.0L288.1 112.0L288.3 115.0L288.5 118.0L288.8 121.0L289.0 122.6L289.2 124.0L289.6 127.0L290.0 130.0L290.6 133.0L291.2 136.0L291.8 139.0L292.0 139.9L292.5 142.0L293.2 145.0L294.0 148.0L294.9 151.0L295.0 151.4L295.8 154.0L296.7 157.0L297.8 160.0L298.0 160.7L298.8 163.0L300.0 166.0L301.0 168.6L301.1 169.0L302.4 172.0L303.7 175.0L304.0 175.7L305.1 178.0L306.5 181.0L307.0 182.0L308.0 184.0L309.6 187.0L310.0 187.7L311.3 190.0L313.0 193.0L313.0 193.0L314.8 196.0L316.0 197.9L316.7 199.0L318.7 202.0L319.0 202.4L320.8 205.0L322.0 206.6L323.1 208.0L325.0 210.5L325.4 211.0L327.9 214.0L328.0 214.1L330.6 217.0L331.0 217.4L333.5 220.0L334.0 220.5L336.6 223.0L337.0 223.4L340.0 226.0L340.0 226.0L343.0 228.4L343.7 229.0L346.0 230.7L347.9 232.0L349.0 232.8L352.0 234.7L352.6 235.0L355.0 236.4L357.9 238.0L358.0 238.0L361.0 239.5L364.0 241.0L364.1 241.0L367.0 242.3L370.0 243.6L371.0 244.0L373.0 244.8L376.0 246.0L378.3 247.0L379.0 247.3L382.0 248.5L385.0 249.8L385.5 250.0L388.0 251.1L391.0 252.5L392.0 253.0L394.0 253.9L397.0 255.5L397.8 256.0L400.0 257.2L402.9 259.0L403.0 259.1L406.0 261.0L407.4 262.0L409.0 263.2L411.3 265.0L412.0 265.5L414.9 268.0L415.0 268.1L418.0 270.9L418.1 271.0L421.0 273.9L421.1 274.0L424.0 277.0L424.0 277.0L427.0 279.8L427.3 280.0L430.0 281.6L433.0 281.6L436.0 280.4L436.5 280.0L439.0 278.5L441.0 277.0L442.0 276.4L445.0 274.3L445.4 274.0L448.0 272.3L450.0 271.0L451.0 270.4L454.0 268.5L454.8 268.0L457.0 266.7L459.8 265.0L460.0 264.9L463.0 263.2L465.1 262.0L466.0 261.5L469.0 260.0L471.1 259.0L472.0 258.6L475.0 257.3L478.0 256.2L478.5 256.0L481.0 255.1L484.0 254.2L487.0 253.4L488.8 253.0L490.0 252.7L493.0 251.9L496.0 251.1L499.0 250.2L499.6 250.0L502.0 249.2L505.0 248.0L507.6 247.0L508.0 246.8L511.0 245.5L514.0 244.2L514.4 244.0L517.0 242.6L519.5 241.0L520.0 240.7L523.0 238.4L523.5 238.0L526.0 236.1L527.6 235.0L529.0 234.0L532.0 232.0L532.0 232.0L535.0 230.3L537.6 229.0L538.0 228.8L541.0 227.5L544.0 226.4L545.2 226.0L547.0 225.3L550.0 224.0L551.8 223.0L553.0 222.1L554.7 220.0L555.3 217.0L555.0 214.0L554.5 211.0L554.0 208.0L553.5 205.0L553.2 202.0L553.0 199.9L552.9 199.0L552.8 196.0L552.7 193.0L552.7 190.0L552.8 187.0L552.8 184.0L552.9 181.0L553.0 178.3L553.0 178.0L553.1 175.0L553.1 172.0L553.0 169.0L553.0 168.1L552.9 166.0L552.7 163.0L552.5 160.0L552.2 157.0L551.7 154.0L551.2 151.0L550.7 148.0L550.0 145.0L550.0 145.0L549.3 142.0L548.5 139.0L547.6 136.0L547.0 134.3L546.6 133.0L545.5 130.0L544.4 127.0L544.0 126.0L543.2 124.0L541.9 121.0L541.0 119.1L540.5 118.0L539.0 115.0L538.0 113.1L537.4 112.0L535.8 109.0L535.0 107.7L534.0 106.0L532.1 103.0L532.0 102.8L530.2 100.0L529.0 98.3L528.1 97.0L526.0 94.1L526.0 94.0L523.7 91.0L523.0 90.1L521.4 88.0L520.0 86.3L518.9 85.0L517.0 82.7L516.4 82.0L514.0 79.3L513.8 79.0L511.0 76.0L511.0 75.9L508.2 73.0L508.0 72.7L505.4 70.0L505.0 69.6L502.4 67.0L502.0 66.6L499.3 64.0L499.0 63.7L496.1 61.0L499.0 61.0L502.0 61.0L505.0 61.0L508.0 61.0L511.0 61.0L514.0 61.0L517.0 61.0L520.0 61.0L523.0 61.0L526.0 61.0L529.0 61.0L532.0 61.0L535.0 61.0L536.8 61.0L538.0 62.5L539.1 64.0L541.0 66.5L541.4 67.0L543.6 70.0L544.0 70.5L545.8 73.0L547.0 74.6L548.0 76.0L550.0 78.9L550.1 79.0L552.1 82.0L553.0 83.4L554.0 85.0L555.9 88.0L556.0 88.3L557.6 91.0L559.0 93.7L559.2 94.0L560.7 97.0L562.0 100.0L562.0 100.0L563.2 103.0L564.3 106.0L565.0 108.0L565.3 109.0L566.2 112.0L567.0 115.0L567.8 118.0L568.0 118.9L568.5 121.0L569.1 124.0L569.7 127.0L570.2 130.0L570.6 133.0L571.0 136.0L571.0 136.2L571.3 139.0L571.6 142.0L571.8 145.0L571.9 148.0L571.9 151.0L571.8 154.0L571.7 157.0L571.4 160.0L571.0 162.6L571.0 163.0L570.4 166.0L569.8 169.0L569.0 172.0L568.0 175.0L568.0 175.1L567.1 178.0L566.0 181.0L565.0 183.6L564.9 184.0L563.9 187.0L562.9 190.0L562.0 193.0L562.0 193.1L561.3 196.0L560.8 199.0L560.5 202.0L560.4 205.0L560.5 208.0L560.7 211.0L561.1 214.0L561.3 217.0L561.1 220.0L560.1 223.0L559.0 224.7L557.9 226.0L556.0 227.6L553.9 229.0L553.0 229.5L550.0 230.9L547.3 232.0L547.0 232.1L544.0 233.3L541.0 234.6L540.1 235.0L538.0 236.1L535.0 237.9L534.8 238.0L532.0 239.9L530.5 241.0L529.0 242.1L526.6 244.0L526.0 244.5L523.0 246.7L522.5 247.0L520.0 248.6L517.5 250.0L517.0 250.3L514.0 251.8L511.4 253.0L511.0 253.2L508.0 254.6L505.0 255.9L504.8 256.0L502.0 257.1L499.0 258.2L496.2 259.0L496.0 259.0L493.0 259.8L490.0 260.5L487.0 261.3L484.7 262.0L484.0 262.2L481.0 263.4L478.0 264.8L477.6 265.0L475.0 266.5L472.6 268.0L472.0 268.4L469.0 270.5L468.3 271.0L466.0 272.7L464.2 274.0L463.0 274.9L460.0 277.0L460.0 277.0L457.0 279.1L455.7 280.0L454.0 281.2L451.7 283.0L451.0 283.5L448.2 286.0L448.0 286.2L445.3 289.0L445.0 289.3L442.8 292.0L442.0 293.0L440.4 295.0L439.0 296.9L438.2 298.0L436.0 300.7L435.7 301.0L433.0 303.4L432.0 304.0L430.0 304.7L427.0 304.2L426.7 304.0L424.0 301.7L423.4 301.0L421.4 298.0L421.0 297.3L419.8 295.0L418.3 292.0L418.0 291.4L416.7 289.0L415.0 286.2L414.9 286.0L412.8 283.0L412.0 282.1L410.2 280.0L409.0 278.8L407.0 277.0L406.0 276.1L403.1 274.0L403.0 273.9L400.0 272.1L397.8 271.0L397.0 270.6L394.0 269.3L391.0 268.2L390.2 268.0L388.0 267.3L385.0 266.6L382.0 266.1L379.0 265.7L376.0 265.4L373.0 265.2L370.0 265.1L368.2 265.0L367.0 265.0L364.0 264.9L361.0 264.8L358.0 264.6L355.0 264.4L352.0 264.0L349.0 263.5L346.0 262.7L343.7 262.0L343.0 261.8L340.0 260.6L337.0 259.2L336.6 259.0L334.0 257.6L331.3 256.0L331.0 255.8L328.0 253.8L326.9 253.0L325.0 251.6L323.0 250.0L322.0 249.2L319.5 247.0L319.0 246.6L316.2 244.0L316.0 243.8L313.1 241.0L313.0 240.9L310.2 238.0L310.0 237.8L307.5 235.0L307.0 234.5L304.8 232.0L304.0 231.0L302.3 229.0L301.0 227.4L299.8 226.0L298.0 223.7L297.5 223.0L295.2 220.0L295.0 219.7L293.0 217.0L292.0 215.6L290.9 214.0L289.0 211.3L288.8 211.0L286.7 208.0L286.0 206.9L284.8 205.0L283.0 202.2L282.9 202.0L281.0 199.0L280.0 197.4L279.2 196.0L277.4 193.0L277.0 192.4L275.6 190.0L274.0 187.1L273.9 187.0L272.3 184.0L271.0 181.6L270.7 181.0L269.1 178.0L268.0 175.9L267.5 175.0L266.0 172.0L265.0 169.9L264.6 169.0L263.1 166.0L262.0 163.6L261.7 163.0L260.4 160.0L259.1 157.0L259.0 156.9L257.8 154.0L256.5 151.0L256.0 149.7L255.3 148.0L254.1 145.0L253.0 142.1L253.0 142.0L251.9 139.0L250.8 136.0L250.0 133.7L249.8 133.0L248.8 130.0L247.8 127.0L247.0 124.4L246.9 124.0L246.0 121.0L245.1 118.0L244.3 115.0L244.0 113.8L243.5 112.0L242.8 109.0L242.1 106.0L241.4 103.0L241.0 101.0L240.8 100.0L240.2 97.0L239.6 94.0L239.1 91.0L238.7 88.0L238.2 85.0L238.0 83.2L237.8 82.0L237.5 79.0L237.2 76.0L236.9 73.0L236.7 70.0L236.6 67.0L236.4 64.0ZM630.5 61.0L631.0 61.0L634.0 61.0L637.0 61.0L638.5 61.0L637.8 64.0L637.2 67.0L637.0 68.2L636.6 70.0L636.0 73.0L635.4 76.0L634.9 79.0L634.4 82.0L634.1 85.0L634.0 88.0L634.1 91.0L634.3 94.0L634.6 97.0L635.0 100.0L635.4 103.0L636.0 106.0L636.6 109.0L637.0 110.4L637.4 112.0L638.2 115.0L639.2 118.0L640.0 120.3L640.2 121.0L641.3 124.0L642.4 127.0L643.0 128.5L643.6 130.0L644.8 133.0L646.0 136.0L646.0 136.0L647.3 139.0L648.6 142.0L649.0 142.9L650.0 145.0L651.4 148.0L652.0 149.2L652.9 151.0L654.5 154.0L655.0 154.9L656.1 157.0L657.7 160.0L658.0 160.6L659.2 163.0L660.6 166.0L661.0 167.0L661.8 169.0L662.7 172.0L663.5 175.0L664.0 177.6L664.1 178.0L664.6 181.0L665.0 184.0L665.4 187.0L665.6 190.0L665.8 193.0L665.8 196.0L665.7 199.0L665.6 202.0L665.4 205.0L665.2 208.0L665.0 211.0L665.0 214.0L665.1 217.0L665.3 220.0L665.8 223.0L666.5 226.0L667.0 227.3L667.7 229.0L669.3 232.0L670.0 232.9L672.6 235.0L673.0 235.2L676.0 236.1L679.0 237.3L679.7 238.0L682.0 240.4L682.4 241.0L684.8 244.0L685.0 244.1L688.0 246.7L688.6 247.0L691.0 247.8L694.0 248.0L697.0 248.1L700.0 248.3L703.0 248.8L706.0 249.4L708.4 250.0L709.0 250.1L712.0 250.1L715.0 250.1L718.0 250.9L720.3 253.0L721.0 254.0L721.9 256.0L722.7 259.0L723.3 262.0L724.0 265.0L724.0 265.0L725.2 268.0L727.0 270.4L727.7 271.0L730.0 272.5L733.0 273.4L734.7 274.0L736.0 274.6L738.4 277.0L738.6 280.0L737.3 283.0L736.0 284.7L733.9 286.0L733.0 286.6L730.0 286.8L727.5 286.0L727.0 285.8L724.0 284.1L721.6 283.0L721.0 282.8L718.0 282.7L717.1 283.0L715.0 284.0L712.3 286.0L712.0 286.5L710.3 289.0L709.4 292.0L709.6 295.0L711.1 298.0L712.0 299.0L714.1 301.0L715.0 301.6L718.0 303.5L718.6 304.0L721.0 305.5L723.0 307.0L724.0 307.8L726.8 310.0L727.0 310.2L730.0 312.2L731.5 313.0L733.0 313.7L736.0 314.4L739.0 314.7L742.0 314.6L745.0 314.1L748.0 313.4L749.6 313.0L751.0 312.7L754.0 312.2L757.0 311.9L760.0 311.6L763.0 311.4L766.0 311.3L769.0 311.2L772.0 311.1L775.0 311.1L778.0 311.0L781.0 310.9L784.0 310.7L787.0 310.4L789.5 310.0L790.0 309.9L793.0 309.3L796.0 308.6L799.0 307.9L802.0 307.5L805.0 307.1L807.3 307.0L808.0 307.0L811.0 306.9L814.0 306.8L817.0 306.8L820.0 306.9L820.0 307.0L820.0 310.0L820.0 311.5L817.0 311.2L814.0 311.1L811.0 311.1L808.0 311.2L805.0 311.5L802.0 311.9L799.0 312.4L796.2 313.0L796.0 313.0L793.0 313.6L790.0 314.1L787.0 314.3L784.0 314.4L781.0 314.4L778.0 314.4L775.0 314.5L772.0 314.5L769.0 314.6L766.0 314.6L763.0 314.6L760.0 314.7L757.0 314.7L754.0 314.8L751.0 315.0L748.0 315.5L746.0 316.0L745.0 316.3L742.0 316.8L739.0 317.0L736.0 316.9L733.0 316.4L731.7 316.0L730.0 315.4L727.0 313.6L726.2 313.0L724.0 311.2L722.5 310.0L721.0 308.9L718.0 307.3L717.2 307.0L715.0 306.0L712.0 304.7L710.6 304.0L709.0 303.0L706.5 301.0L706.0 300.4L704.4 298.0L703.8 295.0L704.2 292.0L705.5 289.0L706.0 288.3L707.6 286.0L709.0 284.7L711.0 283.0L712.0 282.3L715.0 280.9L718.0 280.3L721.0 280.4L724.0 281.3L726.8 283.0L727.0 283.1L730.0 284.5L733.0 284.6L735.6 283.0L736.0 282.4L736.8 280.0L736.0 277.7L735.4 277.0L733.0 275.7L730.0 274.8L728.5 274.0L727.0 273.2L724.9 271.0L724.0 269.8L722.9 268.0L721.7 265.0L721.0 262.3L720.9 262.0L720.1 259.0L718.7 256.0L718.0 255.1L715.0 253.1L714.8 253.0L712.0 252.4L709.0 252.2L706.0 251.9L703.0 251.5L700.0 251.2L697.0 251.0L694.0 250.8L691.0 250.5L688.8 250.0L688.0 249.8L685.0 248.3L683.0 247.0L682.0 246.2L679.0 244.1L678.9 244.0L676.0 242.4L673.0 241.4L671.8 241.0L670.0 240.3L667.0 238.5L666.3 238.0L664.0 235.7L663.3 235.0L661.0 232.0L661.0 232.0L659.0 229.0L658.0 227.2L657.3 226.0L655.7 223.0L655.0 221.2L654.4 220.0L653.3 217.0L652.3 214.0L652.0 212.8L651.5 211.0L650.7 208.0L650.0 205.0L649.3 202.0L649.0 200.5L648.7 199.0L648.0 196.0L647.2 193.0L646.5 190.0L646.0 188.3L645.6 187.0L644.7 184.0L643.7 181.0L643.0 178.8L642.7 178.0L641.6 175.0L640.5 172.0L640.0 170.7L639.3 169.0L638.2 166.0L637.3 163.0L637.0 162.2L636.3 160.0L635.5 157.0L634.7 154.0L634.1 151.0L634.0 150.7L633.4 148.0L632.9 145.0L632.4 142.0L632.0 139.0L631.7 136.0L631.3 133.0L631.0 131.3L630.8 130.0L630.1 127.0L629.3 124.0L628.5 121.0L628.0 118.9L627.7 118.0L627.0 115.0L626.6 112.0L626.4 109.0L626.4 106.0L626.5 103.0L626.4 100.0L626.1 97.0L625.8 94.0L625.5 91.0L625.4 88.0L625.6 85.0L626.1 82.0L627.0 79.0L628.0 76.3L628.1 76.0L629.0 73.0L629.7 70.0L630.1 67.0L630.3 64.0ZM744.4 289.0L745.0 288.1L748.0 286.2L751.0 288.6L751.1 289.0L751.0 289.1L748.0 291.9L745.0 291.0Z"/><path fill="#d5fa78" d="M177.0 61.0L178.0 61.0L181.0 61.0L184.0 61.0L187.0 61.0L190.0 61.0L193.0 61.0L196.0 61.0L199.0 61.0L202.0 61.0L205.0 61.0L208.0 61.0L211.0 61.0L214.0 61.0L217.0 61.0L220.0 61.0L223.0 61.0L226.0 61.0L229.0 61.0L232.0 61.0L235.0 61.0L236.3 61.0L236.4 64.0L236.6 67.0L236.7 70.0L236.9 73.0L237.2 76.0L237.5 79.0L237.8 82.0L238.0 83.2L238.2 85.0L238.7 88.0L239.1 91.0L239.6 94.0L240.2 97.0L240.8 100.0L241.0 101.0L241.4 103.0L242.1 106.0L242.8 109.0L243.5 112.0L244.0 113.8L244.3 115.0L245.1 118.0L246.0 121.0L246.9 124.0L247.0 124.4L247.8 127.0L248.8 130.0L249.8 133.0L250.0 133.7L250.8 136.0L251.9 139.0L253.0 142.0L253.0 142.1L254.1 145.0L255.3 148.0L256.0 149.7L256.5 151.0L257.8 154.0L259.0 156.9L259.1 157.0L260.4 160.0L261.7 163.0L262.0 163.6L263.1 166.0L264.6 169.0L265.0 169.9L266.0 172.0L267.5 175.0L268.0 175.9L269.1 178.0L270.7 181.0L271.0 181.6L272.3 184.0L273.9 187.0L274.0 187.1L275.6 190.0L277.0 192.4L277.4 193.0L279.2 196.0L280.0 197.4L281.0 199.0L282.9 202.0L283.0 202.2L284.8 205.0L286.0 206.9L286.7 208.0L288.8 211.0L289.0 211.3L290.9 214.0L292.0 215.6L293.0 217.0L295.0 219.7L295.2 220.0L297.5 223.0L298.0 223.7L299.8 226.0L301.0 227.4L302.3 229.0L304.0 231.0L304.8 232.0L307.0 234.5L307.5 235.0L310.0 237.8L310.2 238.0L313.0 240.9L313.1 241.0L316.0 243.8L316.2 244.0L319.0 246.6L319.5 247.0L322.0 249.2L323.0 250.0L325.0 251.6L326.9 253.0L328.0 253.8L331.0 255.8L331.3 256.0L334.0 257.6L336.6 259.0L337.0 259.2L340.0 260.6L343.0 261.8L343.7 262.0L346.0 262.7L349.0 263.5L352.0 264.0L355.0 264.4L358.0 264.6L361.0 264.8L364.0 264.9L367.0 265.0L368.2 265.0L370.0 265.1L373.0 265.2L376.0 265.4L379.0 265.7L382.0 266.1L385.0 266.6L388.0 267.3L390.2 268.0L391.0 268.2L394.0 269.3L397.0 270.6L397.8 271.0L400.0 272.1L403.0 273.9L403.1 274.0L406.0 276.1L407.0 277.0L409.0 278.8L410.2 280.0L412.0 282.1L412.8 283.0L414.9 286.0L415.0 286.2L416.7 289.0L418.0 291.4L418.3 292.0L419.8 295.0L421.0 297.3L421.4 298.0L423.4 301.0L424.0 301.7L426.7 304.0L427.0 304.2L430.0 304.7L432.0 304.0L433.0 303.4L435.7 301.0L436.0 300.7L438.2 298.0L439.0 296.9L440.4 295.0L442.0 293.0L442.8 292.0L445.0 289.3L445.3 289.0L448.0 286.2L448.2 286.0L451.0 283.5L451.7 283.0L454.0 281.2L455.7 280.0L457.0 279.1L460.0 277.0L460.0 277.0L463.0 274.9L464.2 274.0L466.0 272.7L468.3 271.0L469.0 270.5L472.0 268.4L472.6 268.0L475.0 266.5L477.6 265.0L478.0 264.8L481.0 263.4L484.0 262.2L484.7 262.0L487.0 261.3L490.0 260.5L493.0 259.8L496.0 259.0L496.2 259.0L499.0 258.2L502.0 257.1L504.8 256.0L505.0 255.9L508.0 254.6L511.0 253.2L511.4 253.0L514.0 251.8L517.0 250.3L517.5 250.0L520.0 248.6L522.5 247.0L523.0 246.7L526.0 244.5L526.6 244.0L529.0 242.1L530.5 241.0L532.0 239.9L534.8 238.0L535.0 237.9L538.0 236.1L540.1 235.0L541.0 234.6L544.0 233.3L547.0 232.1L547.3 232.0L550.0 230.9L553.0 229.5L553.9 229.0L556.0 227.6L557.9 226.0L559.0 224.7L560.1 223.0L561.1 220.0L561.3 217.0L561.1 214.0L560.7 211.0L560.5 208.0L560.4 205.0L560.5 202.0L560.8 199.0L561.3 196.0L562.0 193.1L562.0 193.0L562.9 190.0L563.9 187.0L564.9 184.0L565.0 183.6L566.0 181.0L567.1 178.0L568.0 175.1L568.0 175.0L569.0 172.0L569.8 169.0L570.4 166.0L571.0 163.0L571.0 162.6L571.4 160.0L571.7 157.0L571.8 154.0L571.9 151.0L571.9 148.0L571.8 145.0L571.6 142.0L571.3 139.0L571.0 136.2L571.0 136.0L570.6 133.0L570.2 130.0L569.7 127.0L569.1 124.0L568.5 121.0L568.0 118.9L567.8 118.0L567.0 115.0L566.2 112.0L565.3 109.0L565.0 108.0L564.3 106.0L563.2 103.0L562.0 100.0L562.0 100.0L560.7 97.0L559.2 94.0L559.0 93.7L557.6 91.0L556.0 88.3L555.9 88.0L554.0 85.0L553.0 83.4L552.1 82.0L550.1 79.0L550.0 78.9L548.0 76.0L547.0 74.6L545.8 73.0L544.0 70.5L543.6 70.0L541.4 67.0L541.0 66.5L539.1 64.0L538.0 62.5L536.8 61.0L538.0 61.0L541.0 61.0L544.0 61.0L547.0 61.0L550.0 61.0L553.0 61.0L556.0 61.0L559.0 61.0L562.0 61.0L565.0 61.0L568.0 61.0L571.0 61.0L574.0 61.0L577.0 61.0L580.0 61.0L583.0 61.0L586.0 61.0L589.0 61.0L592.0 61.0L595.0 61.0L598.0 61.0L601.0 61.0L604.0 61.0L607.0 61.0L610.0 61.0L613.0 61.0L616.0 61.0L619.0 61.0L622.0 61.0L625.0 61.0L628.0 61.0L630.5 61.0L630.3 64.0L630.1 67.0L629.7 70.0L629.0 73.0L628.1 76.0L628.0 76.3L627.0 79.0L626.1 82.0L625.6 85.0L625.4 88.0L625.5 91.0L625.8 94.0L626.1 97.0L626.4 100.0L626.5 103.0L626.4 106.0L626.4 109.0L626.6 112.0L627.0 115.0L627.7 118.0L628.0 118.9L628.5 121.0L629.3 124.0L630.1 127.0L630.8 130.0L631.0 131.3L631.3 133.0L631.7 136.0L632.0 139.0L632.4 142.0L632.9 145.0L633.4 148.0L634.0 150.7L634.1 151.0L634.7 154.0L635.5 157.0L636.3 160.0L637.0 162.2L637.3 163.0L638.2 166.0L639.3 169.0L640.0 170.7L640.5 172.0L641.6 175.0L642.7 178.0L643.0 178.8L643.7 181.0L644.7 184.0L645.6 187.0L646.0 188.3L646.5 190.0L647.2 193.0L648.0 196.0L648.7 199.0L649.0 200.5L649.3 202.0L650.0 205.0L650.7 208.0L651.5 211.0L652.0 212.8L652.3 214.0L653.3 217.0L654.4 220.0L655.0 221.2L655.7 223.0L657.3 226.0L658.0 227.2L659.0 229.0L661.0 232.0L661.0 232.0L663.3 235.0L664.0 235.7L666.3 238.0L667.0 238.5L670.0 240.3L671.8 241.0L673.0 241.4L676.0 242.4L678.9 244.0L679.0 244.1L682.0 246.2L683.0 247.0L685.0 248.3L688.0 249.8L688.8 250.0L691.0 250.5L694.0 250.8L697.0 251.0L700.0 251.2L703.0 251.5L706.0 251.9L709.0 252.2L712.0 252.4L714.8 253.0L715.0 253.1L718.0 255.1L718.7 256.0L720.1 259.0L720.9 262.0L721.0 262.3L721.7 265.0L722.9 268.0L724.0 269.8L724.9 271.0L727.0 273.2L728.5 274.0L730.0 274.8L733.0 275.7L735.4 277.0L736.0 277.7L736.8 280.0L736.0 282.4L735.6 283.0L733.0 284.6L730.0 284.5L727.0 283.1L726.8 283.0L724.0 281.3L721.0 280.4L718.0 280.3L715.0 280.9L712.0 282.3L711.0 283.0L709.0 284.7L707.6 286.0L706.0 288.3L705.5 289.0L704.2 292.0L703.8 295.0L704.4 298.0L706.0 300.4L706.5 301.0L709.0 303.0L710.6 304.0L712.0 304.7L715.0 306.0L717.2 307.0L718.0 307.3L721.0 308.9L722.5 310.0L724.0 311.2L726.2 313.0L727.0 313.6L730.0 315.4L731.7 316.0L733.0 316.4L736.0 316.9L739.0 317.0L742.0 316.8L745.0 316.3L746.0 316.0L748.0 315.5L751.0 315.0L754.0 314.8L757.0 314.7L760.0 314.7L763.0 314.6L766.0 314.6L769.0 314.6L772.0 314.5L775.0 314.5L778.0 314.4L781.0 314.4L784.0 314.4L787.0 314.3L790.0 314.1L793.0 313.6L796.0 313.0L796.2 313.0L799.0 312.4L802.0 311.9L805.0 311.5L808.0 311.2L811.0 311.1L814.0 311.1L817.0 311.2L820.0 311.5L820.0 313.0L820.0 316.0L820.0 316.2L818.7 316.0L817.0 315.7L814.0 315.4L811.0 315.4L808.0 315.5L805.0 315.8L803.9 316.0L802.0 316.3L799.0 316.8L796.0 317.3L793.0 317.7L790.0 318.0L787.0 317.9L784.0 317.8L781.0 317.7L778.0 317.7L775.0 317.7L772.0 317.8L769.0 317.8L766.0 317.9L763.0 317.9L760.0 317.8L757.0 317.7L754.0 317.6L751.0 317.6L748.0 318.1L745.0 318.7L742.8 319.0L742.0 319.1L739.0 319.5L736.0 319.6L733.0 319.5L730.1 319.0L730.0 319.0L727.0 317.9L724.4 316.0L724.0 315.7L721.1 313.0L721.0 312.9L718.0 311.4L715.0 310.5L712.8 310.0L712.0 309.8L709.0 309.1L706.0 308.2L703.4 307.0L703.0 306.8L700.0 305.0L698.6 304.0L697.0 302.0L696.3 301.0L695.7 298.0L696.5 295.0L697.0 294.0L697.9 292.0L699.9 289.0L700.0 288.9L702.4 286.0L703.0 285.4L705.6 283.0L706.0 282.7L709.0 280.6L710.0 280.0L712.0 279.0L715.0 278.0L718.0 277.6L721.0 277.6L724.0 277.3L725.1 277.0L724.0 274.0L724.0 274.0L721.8 271.0L721.0 269.5L720.2 268.0L719.2 265.0L718.4 262.0L718.0 260.9L717.3 259.0L715.1 256.0L715.0 255.9L712.0 254.7L709.0 254.4L706.0 254.2L703.0 254.0L700.0 253.7L697.0 253.5L694.0 253.3L691.0 253.0L691.0 253.0L688.0 252.4L685.0 251.4L682.3 250.0L682.0 249.8L679.0 248.1L676.8 247.0L676.0 246.6L673.0 245.4L670.0 244.3L669.3 244.0L667.0 243.0L664.0 241.2L663.7 241.0L661.0 238.9L659.9 238.0L658.0 236.2L656.6 235.0L655.0 233.4L653.5 232.0L652.0 230.3L650.7 229.0L649.0 227.0L648.1 226.0L646.0 223.3L645.8 223.0L643.7 220.0L643.0 218.9L641.8 217.0L640.0 214.0L640.0 213.9L638.3 211.0L637.0 208.7L636.6 208.0L634.7 205.0L634.0 203.9L632.6 202.0L631.0 199.7L630.4 199.0L628.0 196.2L627.8 196.0L625.0 193.0L624.9 193.0L622.0 190.2L621.8 190.0L619.0 187.4L618.5 187.0L616.0 184.7L615.1 184.0L613.0 182.0L611.4 181.0L610.0 180.2L607.0 179.9L604.3 181.0L604.0 181.1L601.0 183.5L600.4 184.0L598.0 186.0L596.8 187.0L595.0 188.1L592.0 189.4L589.3 190.0L589.0 190.0L586.0 190.1L583.0 190.5L580.0 191.3L577.0 192.6L576.5 193.0L574.0 194.7L572.7 196.0L571.0 197.7L570.1 199.0L568.4 202.0L568.0 202.7L567.2 205.0L566.6 208.0L566.5 211.0L566.9 214.0L567.3 217.0L567.4 220.0L567.0 223.0L565.9 226.0L565.0 227.3L563.7 229.0L562.0 230.5L560.0 232.0L559.0 232.7L556.0 234.4L554.9 235.0L553.0 236.0L550.0 237.4L548.8 238.0L547.0 238.8L544.0 240.2L542.5 241.0L541.0 241.8L538.0 243.5L537.2 244.0L535.0 245.4L532.7 247.0L532.0 247.5L529.0 249.7L528.6 250.0L526.0 251.8L524.2 253.0L523.0 253.7L520.0 255.5L519.0 256.0L517.0 257.1L514.0 258.7L513.3 259.0L511.0 260.2L508.0 261.6L507.3 262.0L505.0 263.0L502.0 264.3L499.8 265.0L499.0 265.2L496.0 265.8L493.0 266.4L490.0 267.1L487.4 268.0L487.0 268.1L484.0 269.4L481.3 271.0L481.0 271.2L478.0 273.4L477.3 274.0L475.0 276.2L474.2 277.0L472.0 279.3L471.2 280.0L469.0 282.0L467.7 283.0L466.0 284.1L463.0 285.8L462.7 286.0L460.0 287.4L457.3 289.0L457.0 289.2L454.0 291.3L453.1 292.0L451.0 293.8L449.9 295.0L448.0 296.9L447.1 298.0L445.0 300.3L444.4 301.0L442.0 303.4L441.4 304.0L439.0 306.1L437.8 307.0L436.0 308.2L433.0 309.7L431.8 310.0L430.0 310.5L427.0 310.5L424.8 310.0L424.0 309.8L421.0 308.1L419.6 307.0L418.0 305.3L416.9 304.0L415.0 301.3L414.8 301.0L413.0 298.0L412.0 296.3L411.2 295.0L409.1 292.0L409.0 291.9L406.5 289.0L406.0 288.5L403.0 286.0L403.0 286.0L400.0 284.1L397.5 283.0L397.0 282.7L394.0 281.8L391.0 281.2L388.0 281.0L385.0 281.2L382.0 281.6L379.0 282.5L377.7 283.0L376.0 283.8L373.0 285.5L372.3 286.0L370.0 287.9L368.8 289.0L367.0 291.2L366.3 292.0L364.4 295.0L364.0 295.8L362.7 298.0L361.4 301.0L361.0 302.3L359.9 304.0L358.0 306.5L355.4 307.0L355.0 307.1L354.8 307.0L352.0 306.3L349.0 305.0L347.0 304.0L346.0 303.5L343.0 301.8L341.7 301.0L340.0 300.0L337.0 298.1L336.9 298.0L334.0 296.0L332.5 295.0L331.0 294.0L328.3 292.0L328.0 291.8L325.0 289.6L324.3 289.0L322.0 287.2L320.5 286.0L319.0 284.8L316.8 283.0L316.0 282.3L313.3 280.0L313.0 279.8L310.0 277.1L309.9 277.0L307.0 274.3L306.6 274.0L304.0 271.5L303.5 271.0L301.0 268.5L300.5 268.0L298.0 265.5L297.6 265.0L295.0 262.3L294.7 262.0L292.0 259.1L291.9 259.0L289.2 256.0L289.0 255.7L286.6 253.0L286.0 252.3L284.0 250.0L283.0 248.8L281.5 247.0L280.0 245.2L279.0 244.0L277.0 241.5L276.6 241.0L274.2 238.0L274.0 237.7L271.8 235.0L271.0 233.9L269.5 232.0L268.0 230.0L267.2 229.0L265.0 226.0L265.0 226.0L262.7 223.0L262.0 222.0L260.5 220.0L259.0 217.9L258.4 217.0L256.2 214.0L256.0 213.7L254.1 211.0L253.0 209.5L252.0 208.0L250.0 205.2L249.9 205.0L247.8 202.0L247.0 200.8L245.8 199.0L244.0 196.4L243.7 196.0L241.7 193.0L241.0 191.9L239.8 190.0L238.0 187.3L237.8 187.0L235.9 184.0L235.0 182.6L234.0 181.0L232.1 178.0L232.0 177.9L230.2 175.0L229.0 173.1L228.3 172.0L226.5 169.0L226.0 168.2L224.7 166.0L223.0 163.1L222.9 163.0L221.1 160.0L220.0 158.0L219.4 157.0L217.7 154.0L217.0 152.8L216.0 151.0L214.3 148.0L214.0 147.4L212.7 145.0L211.1 142.0L211.0 141.9L209.5 139.0L208.0 136.2L207.9 136.0L206.3 133.0L205.0 130.4L204.8 130.0L203.3 127.0L202.0 124.3L201.8 124.0L200.4 121.0L199.0 118.1L199.0 118.0L197.6 115.0L196.2 112.0L196.0 111.6L194.8 109.0L193.5 106.0L193.0 104.8L192.2 103.0L191.0 100.0L190.0 97.7L189.7 97.0L188.5 94.0L187.3 91.0L187.0 90.2L186.2 88.0L185.0 85.0L184.0 82.2L183.9 82.0L182.8 79.0L181.8 76.0L181.0 73.7L180.8 73.0L179.8 70.0L178.8 67.0L178.0 64.4L177.9 64.0ZM730.0 278.9L728.8 280.0L730.0 280.8L733.0 282.0L734.0 280.0L733.0 278.9Z"/><path fill="#f0fa78" d="M106.8 61.0L109.0 61.0L112.0 61.0L115.0 61.0L118.0 61.0L121.0 61.0L124.0 61.0L127.0 61.0L130.0 61.0L133.0 61.0L136.0 61.0L139.0 61.0L142.0 61.0L145.0 61.0L148.0 61.0L151.0 61.0L154.0 61.0L157.0 61.0L160.0 61.0L163.0 61.0L166.0 61.0L169.0 61.0L172.0 61.0L175.0 61.0L177.0 61.0L177.9 64.0L178.0 64.4L178.8 67.0L179.8 70.0L180.8 73.0L181.0 73.7L181.8 76.0L182.8 79.0L183.9 82.0L184.0 82.2L185.0 85.0L186.2 88.0L187.0 90.2L187.3 91.0L188.5 94.0L189.7 97.0L190.0 97.7L191.0 100.0L192.2 103.0L193.0 104.8L193.5 106.0L194.8 109.0L196.0 111.6L196.2 112.0L197.6 115.0L199.0 118.0L199.0 118.1L200.4 121.0L201.8 124.0L202.0 124.3L203.3 127.0L204.8 130.0L205.0 130.4L206.3 133.0L207.9 136.0L208.0 136.2L209.5 139.0L211.0 141.9L211.1 142.0L212.7 145.0L214.0 147.4L214.3 148.0L216.0 151.0L217.0 152.8L217.7 154.0L219.4 157.0L220.0 158.0L221.1 160.0L222.9 163.0L223.0 163.1L224.7 166.0L226.0 168.2L226.5 169.0L228.3 172.0L229.0 173.1L230.2 175.0L232.0 177.9L232.1 178.0L234.0 181.0L235.0 182.6L235.9 184.0L237.8 187.0L238.0 187.3L239.8 190.0L241.0 191.9L241.7 193.0L243.7 196.0L244.0 196.4L245.8 199.0L247.0 200.8L247.8 202.0L249.9 205.0L250.0 205.2L252.0 208.0L253.0 209.5L254.1 211.0L256.0 213.7L256.2 214.0L258.4 217.0L259.0 217.9L260.5 220.0L262.0 222.0L262.7 223.0L265.0 226.0L265.0 226.0L267.2 229.0L268.0 230.0L269.5 232.0L271.0 233.9L271.8 235.0L274.0 237.7L274.2 238.0L276.6 241.0L277.0 241.5L279.0 244.0L280.0 245.2L281.5 247.0L283.0 248.8L284.0 250.0L286.0 252.3L286.6 253.0L289.0 255.7L289.2 256.0L291.9 259.0L292.0 259.1L294.7 262.0L295.0 262.3L297.6 265.0L298.0 265.5L300.5 268.0L301.0 268.5L303.5 271.0L304.0 271.5L306.6 274.0L307.0 274.3L309.9 277.0L310.0 277.1L313.0 279.8L313.3 280.0L316.0 282.3L316.8 283.0L319.0 284.8L320.5 286.0L322.0 287.2L324.3 289.0L325.0 289.6L328.0 291.8L328.3 292.0L331.0 294.0L332.5 295.0L334.0 296.0L336.9 298.0L337.0 298.1L340.0 300.0L341.7 301.0L343.0 301.8L346.0 303.5L347.0 304.0L349.0 305.0L352.0 306.3L354.8 307.0L355.0 307.1L355.4 307.0L358.0 306.5L359.9 304.0L361.0 302.3L361.4 301.0L362.7 298.0L364.0 295.8L364.4 295.0L366.3 292.0L367.0 291.2L368.8 289.0L370.0 287.9L372.3 286.0L373.0 285.5L376.0 283.8L377.7 283.0L379.0 282.5L382.0 281.6L385.0 281.2L388.0 281.0L391.0 281.2L394.0 281.8L397.0 282.7L397.5 283.0L400.0 284.1L403.0 286.0L403.0 286.0L406.0 288.5L406.5 289.0L409.0 291.9L409.1 292.0L411.2 295.0L412.0 296.3L413.0 298.0L414.8 301.0L415.0 301.3L416.9 304.0L418.0 305.3L419.6 307.0L421.0 308.1L424.0 309.8L424.8 310.0L427.0 310.5L430.0 310.5L431.8 310.0L433.0 309.7L436.0 308.2L437.8 307.0L439.0 306.1L441.4 304.0L442.0 303.4L444.4 301.0L445.0 300.3L447.1 298.0L448.0 296.9L449.9 295.0L451.0 293.8L453.1 292.0L454.0 291.3L457.0 289.2L457.3 289.0L460.0 287.4L462.7 286.0L463.0 285.8L466.0 284.1L467.7 283.0L469.0 282.0L471.2 280.0L472.0 279.3L474.2 277.0L475.0 276.2L477.3 274.0L478.0 273.4L481.0 271.2L481.3 271.0L484.0 269.4L487.0 268.1L487.4 268.0L490.0 267.1L493.0 266.4L496.0 265.8L499.0 265.2L499.8 265.0L502.0 264.3L505.0 263.0L507.3 262.0L508.0 261.6L511.0 260.2L513.3 259.0L514.0 258.7L517.0 257.1L519.0 256.0L520.0 255.5L523.0 253.7L524.2 253.0L526.0 251.8L528.6 250.0L529.0 249.7L532.0 247.5L532.7 247.0L535.0 245.4L537.2 244.0L538.0 243.5L541.0 241.8L542.5 241.0L544.0 240.2L547.0 238.8L548.8 238.0L550.0 237.4L553.0 236.0L554.9 235.0L556.0 234.4L559.0 232.7L560.0 232.0L562.0 230.5L563.7 229.0L565.0 227.3L565.9 226.0L567.0 223.0L567.4 220.0L567.3 217.0L566.9 214.0L566.5 211.0L566.6 208.0L567.2 205.0L568.0 202.7L568.4 202.0L570.1 199.0L571.0 197.7L572.7 196.0L574.0 194.7L576.5 193.0L577.0 192.6L580.0 191.3L583.0 190.5L586.0 190.1L589.0 190.0L589.3 190.0L592.0 189.4L595.0 188.1L596.8 187.0L598.0 186.0L600.4 184.0L601.0 183.5L604.0 181.1L604.3 181.0L607.0 179.9L610.0 180.2L611.4 181.0L613.0 182.0L615.1 184.0L616.0 184.7L618.5 187.0L619.0 187.4L621.8 190.0L622.0 190.2L624.9 193.0L625.0 193.0L627.8 196.0L628.0 196.2L630.4 199.0L631.0 199.7L632.6 202.0L634.0 203.9L634.7 205.0L636.6 208.0L637.0 208.7L638.3 211.0L640.0 213.9L640.0 214.0L641.8 217.0L643.0 218.9L643.7 220.0L645.8 223.0L646.0 223.3L648.1 226.0L649.0 227.0L650.7 229.0L652.0 230.3L653.5 232.0L655.0 233.4L656.6 235.0L658.0 236.2L659.9 238.0L661.0 238.9L663.7 241.0L664.0 241.2L667.0 243.0L669.3 244.0L670.0 244.3L673.0 245.4L676.0 246.6L676.8 247.0L679.0 248.1L682.0 249.8L682.3 250.0L685.0 251.4L688.0 252.4L691.0 253.0L691.0 253.0L694.0 253.3L697.0 253.5L700.0 253.7L703.0 254.0L706.0 254.2L709.0 254.4L712.0 254.7L715.0 255.9L715.1 256.0L717.3 259.0L718.0 260.9L718.4 262.0L719.2 265.0L720.2 268.0L721.0 269.5L721.8 271.0L724.0 274.0L724.0 274.0L725.1 277.0L724.0 277.3L721.0 277.6L718.0 277.6L715.0 278.0L712.0 279.0L710.0 280.0L709.0 280.6L706.0 282.7L705.6 283.0L703.0 285.4L702.4 286.0L700.0 288.9L699.9 289.0L697.9 292.0L697.0 294.0L696.5 295.0L695.7 298.0L696.3 301.0L697.0 302.0L698.6 304.0L700.0 305.0L703.0 306.8L703.4 307.0L706.0 308.2L709.0 309.1L712.0 309.8L712.8 310.0L715.0 310.5L718.0 311.4L721.0 312.9L721.1 313.0L724.0 315.7L724.4 316.0L727.0 317.9L730.0 319.0L730.1 319.0L733.0 319.5L736.0 319.6L739.0 319.5L742.0 319.1L742.8 319.0L745.0 318.7L748.0 318.1L751.0 317.6L754.0 317.6L757.0 317.7L760.0 317.8L763.0 317.9L766.0 317.9L769.0 317.8L772.0 317.8L775.0 317.7L778.0 317.7L781.0 317.7L784.0 317.8L787.0 317.9L790.0 318.0L793.0 317.7L796.0 317.3L799.0 316.8L802.0 316.3L803.9 316.0L805.0 315.8L808.0 315.5L811.0 315.4L814.0 315.4L817.0 315.7L818.7 316.0L820.0 316.2L820.0 319.0L820.0 321.7L817.0 320.9L814.0 320.3L811.0 320.1L808.0 320.2L805.0 320.5L802.0 320.9L799.0 321.3L796.0 321.5L793.0 321.7L790.0 321.6L787.0 321.4L784.0 321.1L781.0 320.9L778.0 320.9L775.0 320.9L772.0 321.1L769.0 321.3L766.0 321.4L763.0 321.4L760.0 321.3L757.0 321.0L754.0 320.8L751.0 320.8L748.0 321.0L745.0 321.4L742.0 321.9L740.9 322.0L739.0 322.3L736.0 322.8L733.0 323.3L730.0 323.8L727.0 324.3L724.0 324.8L722.5 325.0L721.0 326.4L720.0 328.0L720.6 331.0L720.7 334.0L718.0 336.5L715.0 334.4L714.7 334.0L714.3 331.0L714.9 328.0L715.0 327.5L717.0 325.0L715.9 322.0L715.0 321.3L712.0 319.8L710.0 319.0L709.0 318.8L706.0 318.1L703.0 317.0L700.7 316.0L700.0 315.8L697.0 314.4L694.2 313.0L694.0 312.9L691.0 311.0L689.8 310.0L688.0 308.2L687.0 307.0L685.6 304.0L685.2 301.0L685.8 298.0L687.4 295.0L688.0 294.2L689.7 292.0L691.0 290.7L692.6 289.0L694.0 287.8L695.8 286.0L697.0 285.0L699.4 283.0L700.0 282.5L703.0 280.3L703.5 280.0L706.0 278.4L708.6 277.0L709.0 276.7L712.0 275.3L715.0 274.1L715.3 274.0L717.3 271.0L716.8 268.0L716.1 265.0L715.4 262.0L715.0 261.0L713.9 259.0L712.0 257.4L709.0 256.8L706.0 256.7L703.0 256.5L700.0 256.2L698.2 256.0L697.0 255.9L694.0 255.7L691.0 255.5L688.0 255.1L685.0 254.3L682.0 253.0L682.0 253.0L679.0 251.5L676.0 250.1L675.8 250.0L673.0 248.9L670.0 247.9L667.4 247.0L667.0 246.8L664.0 245.5L661.4 244.0L661.0 243.7L658.0 241.7L656.9 241.0L655.0 239.7L652.3 238.0L652.0 237.7L649.0 235.8L647.6 235.0L646.0 233.9L643.0 232.0L643.0 232.0L640.0 229.9L638.6 229.0L637.0 227.7L634.8 226.0L634.0 225.3L631.3 223.0L631.0 222.7L628.0 220.1L627.9 220.0L625.0 217.6L623.9 217.0L622.0 215.8L619.0 215.0L616.0 215.4L613.0 216.4L611.7 217.0L610.0 217.8L607.0 219.2L605.2 220.0L604.0 220.5L601.0 221.5L598.0 222.2L595.0 222.6L592.0 222.7L589.0 222.6L586.0 222.7L585.2 223.0L583.0 224.0L581.5 226.0L580.0 227.5L579.0 229.0L577.0 230.8L575.9 232.0L574.0 233.4L571.6 235.0L571.0 235.3L568.0 236.9L565.2 238.0L565.0 238.1L562.0 239.3L559.0 240.6L558.3 241.0L556.0 242.5L553.1 244.0L553.0 244.1L550.0 245.7L547.0 247.0L547.0 247.0L544.0 248.4L541.0 249.8L540.6 250.0L538.0 251.4L535.5 253.0L535.0 253.4L532.0 255.5L531.2 256.0L529.0 257.5L526.4 259.0L526.0 259.2L523.0 260.9L520.8 262.0L520.0 262.4L517.0 264.0L515.0 265.0L514.0 265.5L511.0 267.0L508.9 268.0L508.0 268.4L505.0 269.6L502.0 270.6L500.1 271.0L499.0 271.2L496.0 271.8L493.0 272.4L490.0 273.3L488.5 274.0L487.0 274.7L484.0 276.9L483.9 277.0L481.2 280.0L481.0 280.3L479.2 283.0L478.0 285.2L477.5 286.0L475.5 289.0L475.0 289.6L472.0 291.8L471.4 292.0L469.0 292.9L466.0 293.8L463.0 294.7L462.2 295.0L460.0 295.8L457.0 297.6L456.5 298.0L454.0 300.1L453.1 301.0L451.0 303.0L450.0 304.0L448.0 305.8L446.6 307.0L445.0 308.2L442.3 310.0L442.0 310.2L439.0 311.9L436.8 313.0L436.0 313.4L433.0 314.6L430.0 315.4L427.0 315.8L424.0 315.6L421.0 314.9L418.0 313.5L417.2 313.0L415.0 311.4L413.5 310.0L412.0 308.3L410.9 307.0L409.0 304.3L408.7 304.0L406.7 301.0L406.0 300.0L404.4 298.0L403.0 296.6L400.8 295.0L400.0 294.5L397.0 293.4L394.0 293.1L391.0 293.5L388.0 294.7L387.5 295.0L385.0 297.0L384.1 298.0L382.3 301.0L382.0 301.6L381.1 304.0L380.4 307.0L380.0 310.0L379.7 313.0L379.4 316.0L379.0 318.5L378.9 319.0L378.2 322.0L377.0 325.0L376.0 326.4L374.7 328.0L373.0 329.4L370.0 330.8L369.2 331.0L367.0 331.4L364.0 331.4L361.0 331.1L360.6 331.0L358.0 330.5L355.0 329.7L352.0 328.8L349.3 328.0L349.0 327.9L346.0 326.8L343.0 325.6L341.5 325.0L340.0 324.3L337.0 323.0L334.8 322.0L334.0 321.6L331.0 320.1L328.7 319.0L328.0 318.6L325.0 317.0L323.1 316.0L322.0 315.4L319.0 313.6L317.9 313.0L316.0 311.8L313.0 310.0L313.0 310.0L310.0 308.0L308.5 307.0L307.0 306.0L304.2 304.0L304.0 303.8L301.0 301.6L300.2 301.0L298.0 299.2L296.4 298.0L295.0 296.8L292.9 295.0L292.0 294.3L289.4 292.0L289.0 291.6L286.2 289.0L286.0 288.8L283.0 286.0L283.0 286.0L280.0 283.0L280.0 283.0L277.0 280.0L277.0 280.0L274.2 277.0L274.0 276.8L271.4 274.0L271.0 273.6L268.6 271.0L268.0 270.3L265.9 268.0L265.0 267.0L263.3 265.0L262.0 263.6L260.6 262.0L259.0 260.1L258.0 259.0L256.0 256.7L255.4 256.0L253.0 253.2L252.9 253.0L250.3 250.0L250.0 249.6L247.8 247.0L247.0 246.1L245.2 244.0L244.0 242.5L242.7 241.0L241.0 239.0L240.2 238.0L238.0 235.4L237.6 235.0L235.1 232.0L235.0 231.8L232.6 229.0L232.0 228.3L230.1 226.0L229.0 224.7L227.6 223.0L226.0 221.1L225.1 220.0L223.0 217.5L222.6 217.0L220.1 214.0L220.0 213.9L217.6 211.0L217.0 210.3L215.1 208.0L214.0 206.7L212.6 205.0L211.0 203.1L210.1 202.0L208.0 199.5L207.6 199.0L205.1 196.0L205.0 195.9L202.6 193.0L202.0 192.3L200.1 190.0L199.0 188.7L197.6 187.0L196.0 185.0L195.2 184.0L193.0 181.4L192.7 181.0L190.2 178.0L190.0 177.7L187.8 175.0L187.0 174.0L185.4 172.0L184.0 170.3L182.9 169.0L181.0 166.6L180.5 166.0L178.1 163.0L178.0 162.9L175.7 160.0L175.0 159.1L173.3 157.0L172.0 155.3L171.0 154.0L169.0 151.5L168.6 151.0L166.3 148.0L166.0 147.6L164.0 145.0L163.0 143.7L161.7 142.0L160.0 139.8L159.4 139.0L157.1 136.0L157.0 135.8L154.9 133.0L154.0 131.8L152.6 130.0L151.0 127.8L150.4 127.0L148.2 124.0L148.0 123.7L146.0 121.0L145.0 119.6L143.9 118.0L142.0 115.4L141.7 115.0L139.6 112.0L139.0 111.1L137.5 109.0L136.0 106.8L135.4 106.0L133.4 103.0L133.0 102.4L131.3 100.0L130.0 98.0L129.3 97.0L127.3 94.0L127.0 93.5L125.4 91.0L124.0 88.9L123.4 88.0L121.5 85.0L121.0 84.2L119.6 82.0L118.0 79.5L117.7 79.0L115.8 76.0L115.0 74.7L114.0 73.0L112.1 70.0L112.0 69.8L110.3 67.0L109.0 64.7L108.6 64.0ZM728.8 280.0L730.0 278.9L733.0 278.9L734.0 280.0L733.0 282.0L730.0 280.8Z"/><path fill="#fff070" d="M76.0 61.0L79.0 61.0L82.0 61.0L85.0 61.0L88.0 61.0L91.0 61.0L94.0 61.0L97.0 61.0L100.0 61.0L103.0 61.0L106.0 61.0L106.8 61.0L108.6 64.0L109.0 64.7L110.3 67.0L112.0 69.8L112.1 70.0L114.0 73.0L115.0 74.7L115.8 76.0L117.7 79.0L118.0 79.5L119.6 82.0L121.0 84.2L121.5 85.0L123.4 88.0L124.0 88.9L125.4 91.0L127.0 93.5L127.3 94.0L129.3 97.0L130.0 98.0L131.3 100.0L133.0 102.4L133.4 103.0L135.4 106.0L136.0 106.8L137.5 109.0L139.0 111.1L139.6 112.0L141.7 115.0L142.0 115.4L143.9 118.0L145.0 119.6L146.0 121.0L148.0 123.7L148.2 124.0L150.4 127.0L151.0 127.8L152.6 130.0L154.0 131.8L154.9 133.0L157.0 135.8L157.1 136.0L159.4 139.0L160.0 139.8L161.7 142.0L163.0 143.7L164.0 145.0L166.0 147.6L166.3 148.0L168.6 151.0L169.0 151.5L171.0 154.0L172.0 155.3L173.3 157.0L175.0 159.1L175.7 160.0L178.0 162.9L178.1 163.0L180.5 166.0L181.0 166.6L182.9 169.0L184.0 170.3L185.4 172.0L187.0 174.0L187.8 175.0L190.0 177.7L190.2 178.0L192.7 181.0L193.0 181.4L195.2 184.0L196.0 185.0L197.6 187.0L199.0 188.7L200.1 190.0L202.0 192.3L202.6 193.0L205.0 195.9L205.1 196.0L207.6 199.0L208.0 199.5L210.1 202.0L211.0 203.1L212.6 205.0L214.0 206.7L215.1 208.0L217.0 210.3L217.6 211.0L220.0 213.9L220.1 214.0L222.6 217.0L223.0 217.5L225.1 220.0L226.0 221.1L227.6 223.0L229.0 224.7L230.1 226.0L232.0 228.3L232.6 229.0L235.0 231.8L235.1 232.0L237.6 235.0L238.0 235.4L240.2 238.0L241.0 239.0L242.7 241.0L244.0 242.5L245.2 244.0L247.0 246.1L247.8 247.0L250.0 249.6L250.3 250.0L252.9 253.0L253.0 253.2L255.4 256.0L256.0 256.7L258.0 259.0L259.0 260.1L260.6 262.0L262.0 263.6L263.3 265.0L265.0 267.0L265.9 268.0L268.0 270.3L268.6 271.0L271.0 273.6L271.4 274.0L274.0 276.8L274.2 277.0L277.0 280.0L277.0 280.0L280.0 283.0L280.0 283.0L283.0 286.0L283.0 286.0L286.0 288.8L286.2 289.0L289.0 291.6L289.4 292.0L292.0 294.3L292.9 295.0L295.0 296.8L296.4 298.0L298.0 299.2L300.2 301.0L301.0 301.6L304.0 303.8L304.2 304.0L307.0 306.0L308.5 307.0L310.0 308.0L313.0 310.0L313.0 310.0L316.0 311.8L317.9 313.0L319.0 313.6L322.0 315.4L323.1 316.0L325.0 317.0L328.0 318.6L328.7 319.0L331.0 320.1L334.0 321.6L334.8 322.0L337.0 323.0L340.0 324.3L341.5 325.0L343.0 325.6L346.0 326.8L349.0 327.9L349.3 328.0L352.0 328.8L355.0 329.7L358.0 330.5L360.6 331.0L361.0 331.1L364.0 331.4L367.0 331.4L369.2 331.0L370.0 330.8L373.0 329.4L374.7 328.0L376.0 326.4L377.0 325.0L378.2 322.0L378.9 319.0L379.0 318.5L379.4 316.0L379.7 313.0L380.0 310.0L380.4 307.0L381.1 304.0L382.0 301.6L382.3 301.0L384.1 298.0L385.0 297.0L387.5 295.0L388.0 294.7L391.0 293.5L394.0 293.1L397.0 293.4L400.0 294.5L400.8 295.0L403.0 296.6L404.4 298.0L406.0 300.0L406.7 301.0L408.7 304.0L409.0 304.3L410.9 307.0L412.0 308.3L413.5 310.0L415.0 311.4L417.2 313.0L418.0 313.5L421.0 314.9L424.0 315.6L427.0 315.8L430.0 315.4L433.0 314.6L436.0 313.4L436.8 313.0L439.0 311.9L442.0 310.2L442.3 310.0L445.0 308.2L446.6 307.0L448.0 305.8L450.0 304.0L451.0 303.0L453.1 301.0L454.0 300.1L456.5 298.0L457.0 297.6L460.0 295.8L462.2 295.0L463.0 294.7L466.0 293.8L469.0 292.9L471.4 292.0L472.0 291.8L475.0 289.6L475.5 289.0L477.5 286.0L478.0 285.2L479.2 283.0L481.0 280.3L481.2 280.0L483.9 277.0L484.0 276.9L487.0 274.7L488.5 274.0L490.0 273.3L493.0 272.4L496.0 271.8L499.0 271.2L500.1 271.0L502.0 270.6L505.0 269.6L508.0 268.4L508.9 268.0L511.0 267.0L514.0 265.5L515.0 265.0L517.0 264.0L520.0 262.4L520.8 262.0L523.0 260.9L526.0 259.2L526.4 259.0L529.0 257.5L531.2 256.0L532.0 255.5L535.0 253.4L535.5 253.0L538.0 251.4L540.6 250.0L541.0 249.8L544.0 248.4L547.0 247.0L547.0 247.0L550.0 245.7L553.0 244.1L553.1 244.0L556.0 242.5L558.3 241.0L559.0 240.6L562.0 239.3L565.0 238.1L565.2 238.0L568.0 236.9L571.0 235.3L571.6 235.0L574.0 233.4L575.9 232.0L577.0 230.8L579.0 229.0L580.0 227.5L581.5 226.0L583.0 224.0L585.2 223.0L586.0 222.7L589.0 222.6L592.0 222.7L595.0 222.6L598.0 222.2L601.0 221.5L604.0 220.5L605.2 220.0L607.0 219.2L610.0 217.8L611.7 217.0L613.0 216.4L616.0 215.4L619.0 215.0L622.0 215.8L623.9 217.0L625.0 217.6L627.9 220.0L628.0 220.1L631.0 222.7L631.3 223.0L634.0 225.3L634.8 226.0L637.0 227.7L638.6 229.0L640.0 229.9L643.0 232.0L643.0 232.0L646.0 233.9L647.6 235.0L649.0 235.8L652.0 237.7L652.3 238.0L655.0 239.7L656.9 241.0L658.0 241.7L661.0 243.7L661.4 244.0L664.0 245.5L667.0 246.8L667.4 247.0L670.0 247.9L673.0 248.9L675.8 250.0L676.0 250.1L679.0 251.5L682.0 253.0L682.0 253.0L685.0 254.3L688.0 255.1L691.0 255.5L694.0 255.7L697.0 255.9L698.2 256.0L700.0 256.2L703.0 256.5L706.0 256.7L709.0 256.8L712.0 257.4L713.9 259.0L715.0 261.0L715.4 262.0L716.1 265.0L716.8 268.0L717.3 271.0L715.3 274.0L715.0 274.1L712.0 275.3L709.0 276.7L708.6 277.0L706.0 278.4L703.5 280.0L703.0 280.3L700.0 282.5L699.4 283.0L697.0 285.0L695.8 286.0L694.0 287.8L692.6 289.0L691.0 290.7L689.7 292.0L688.0 294.2L687.4 295.0L685.8 298.0L685.2 301.0L685.6 304.0L687.0 307.0L688.0 308.2L689.8 310.0L691.0 311.0L694.0 312.9L694.2 313.0L697.0 314.4L700.0 315.8L700.7 316.0L703.0 317.0L706.0 318.1L709.0 318.8L710.0 319.0L712.0 319.8L715.0 321.3L715.9 322.0L717.0 325.0L715.0 327.5L714.9 328.0L714.3 331.0L714.7 334.0L715.0 334.4L718.0 336.5L720.7 334.0L720.6 331.0L720.0 328.0L721.0 326.4L722.5 325.0L724.0 324.8L727.0 324.3L730.0 323.8L733.0 323.3L736.0 322.8L739.0 322.3L740.9 322.0L742.0 321.9L745.0 321.4L748.0 321.0L751.0 320.8L754.0 320.8L757.0 321.0L760.0 321.3L763.0 321.4L766.0 321.4L769.0 321.3L772.0 321.1L775.0 320.9L778.0 320.9L781.0 320.9L784.0 321.1L787.0 321.4L790.0 321.6L793.0 321.7L796.0 321.5L799.0 321.3L802.0 320.9L805.0 320.5L808.0 320.2L811.0 320.1L814.0 320.3L817.0 320.9L820.0 321.7L820.0 322.0L820.0 325.0L820.0 328.0L820.0 328.7L818.2 328.0L817.0 327.6L814.0 326.8L811.0 326.3L808.0 326.1L805.0 326.1L802.0 326.2L799.0 326.2L796.0 326.1L793.0 325.9L790.0 325.5L787.0 325.0L787.0 325.0L784.0 324.6L781.0 324.3L778.0 324.2L775.0 324.4L772.0 324.7L769.1 325.0L769.0 325.0L766.0 325.3L763.0 325.5L760.0 325.4L757.0 325.1L756.1 325.0L754.0 324.8L751.0 324.6L748.0 324.6L745.0 324.7L742.5 325.0L742.0 325.1L739.0 325.8L736.0 326.9L734.0 328.0L733.0 329.1L731.5 331.0L730.6 334.0L730.4 337.0L730.3 340.0L730.0 342.7L730.0 343.0L728.8 346.0L727.0 348.1L725.1 349.0L724.0 349.4L721.0 349.2L720.6 349.0L718.0 347.6L716.1 346.0L715.0 345.0L713.2 343.0L712.0 341.7L710.5 340.0L709.0 338.3L707.8 337.0L706.0 335.0L704.8 334.0L703.0 332.3L701.3 331.0L700.0 329.9L697.6 328.0L697.0 327.5L694.0 325.2L693.7 325.0L691.0 323.1L689.4 322.0L688.0 321.0L685.2 319.0L685.0 318.8L682.0 316.3L681.7 316.0L679.0 313.2L678.8 313.0L676.7 310.0L676.0 308.4L675.4 307.0L674.8 304.0L675.0 301.0L676.0 298.1L676.0 298.0L677.7 295.0L679.0 293.4L680.1 292.0L682.0 290.2L683.2 289.0L685.0 287.6L687.0 286.0L688.0 285.3L691.0 283.1L691.2 283.0L694.0 281.1L695.6 280.0L697.0 279.1L700.0 277.2L700.4 277.0L703.0 275.4L705.4 274.0L706.0 273.6L709.0 271.6L709.9 271.0L711.8 268.0L712.0 265.0L710.7 262.0L709.0 260.7L706.0 260.0L703.0 259.6L700.0 259.1L699.4 259.0L697.0 258.7L694.0 258.4L691.0 258.4L688.0 258.1L685.0 257.5L682.0 256.4L681.1 256.0L679.0 255.0L676.0 253.6L674.5 253.0L673.0 252.5L670.0 251.7L667.0 250.8L664.7 250.0L664.0 249.8L661.0 248.4L658.4 247.0L658.0 246.8L655.0 245.1L652.6 244.0L652.0 243.7L649.0 242.6L646.0 241.5L644.2 241.0L643.0 240.6L640.0 239.7L637.0 238.9L634.0 238.1L633.5 238.0L631.0 237.4L628.0 236.9L625.0 236.6L622.0 236.5L619.0 236.8L616.0 237.3L613.4 238.0L613.0 238.1L610.0 239.1L607.0 240.3L605.5 241.0L604.0 241.7L601.0 243.1L599.4 244.0L598.0 244.7L595.0 246.3L593.6 247.0L592.0 247.8L589.0 249.3L587.5 250.0L586.0 250.8L583.0 252.3L581.6 253.0L580.0 254.0L577.0 255.8L576.6 256.0L574.0 257.6L571.7 259.0L571.0 259.4L568.0 260.6L565.0 261.2L562.0 261.7L559.2 262.0L559.0 262.0L556.0 262.2L553.0 262.2L550.7 262.0L550.0 262.0L547.0 261.8L544.0 261.8L543.0 262.0L541.0 262.3L538.0 263.2L535.0 264.3L533.1 265.0L532.0 265.4L529.0 266.5L526.0 267.6L525.0 268.0L523.0 268.8L520.0 270.1L518.1 271.0L517.0 271.6L514.0 273.2L512.2 274.0L511.0 274.6L508.0 275.9L505.0 276.7L503.7 277.0L502.0 277.4L499.0 277.9L496.0 278.3L493.0 278.9L490.1 280.0L490.0 280.0L487.0 283.0L487.0 283.0L485.0 286.0L484.0 287.6L483.3 289.0L481.7 292.0L481.0 293.1L479.6 295.0L478.0 296.5L475.7 298.0L475.0 298.6L472.0 300.5L470.9 301.0L469.0 302.1L466.0 303.3L464.2 304.0L463.0 304.6L460.0 306.4L459.1 307.0L457.0 308.5L454.9 310.0L454.0 310.5L451.0 312.3L449.6 313.0L448.0 313.7L445.0 315.0L442.2 316.0L442.0 316.1L439.0 317.3L436.0 318.7L435.3 319.0L433.0 320.2L430.0 321.2L427.0 321.9L425.0 322.0L424.0 322.1L422.5 322.0L421.0 321.9L418.0 321.3L415.0 320.2L412.6 319.0L412.0 318.6L409.0 316.6L408.1 316.0L406.0 314.2L404.3 313.0L403.0 311.9L400.0 310.0L399.8 310.0L397.0 309.6L396.3 310.0L394.0 311.5L393.1 313.0L391.4 316.0L391.0 316.9L390.3 319.0L389.2 322.0L388.0 325.0L388.0 325.1L386.7 328.0L385.0 330.8L384.9 331.0L382.4 334.0L382.0 334.4L379.0 336.8L378.7 337.0L376.0 338.5L373.0 339.6L370.9 340.0L370.0 340.2L367.0 340.4L364.0 340.4L361.0 340.3L358.0 340.1L355.8 340.0L355.0 340.0L352.0 339.8L349.0 339.5L346.0 339.1L343.0 338.7L340.0 338.2L337.0 337.6L334.3 337.0L334.0 336.9L331.0 336.2L328.0 335.5L325.0 334.7L322.6 334.0L322.0 333.8L319.0 332.9L316.0 332.0L313.1 331.0L313.0 331.0L310.0 329.9L307.0 328.8L305.1 328.0L304.0 327.5L301.0 326.2L298.3 325.0L298.0 324.9L295.0 323.4L292.4 322.0L292.0 321.8L289.0 320.1L287.1 319.0L286.0 318.3L283.0 316.3L282.5 316.0L280.0 314.3L278.2 313.0L277.0 312.1L274.3 310.0L274.0 309.7L271.0 307.3L270.7 307.0L268.0 304.7L267.2 304.0L265.0 302.0L264.0 301.0L262.0 299.1L260.8 298.0L259.0 296.2L257.7 295.0L256.0 293.2L254.8 292.0L253.0 290.2L251.8 289.0L250.0 287.1L249.0 286.0L247.0 283.9L246.1 283.0L244.0 280.7L243.3 280.0L241.0 277.6L240.5 277.0L238.0 274.4L237.6 274.0L235.0 271.2L234.8 271.0L232.0 268.0L232.0 268.0L229.1 265.0L229.0 264.9L226.3 262.0L226.0 261.7L223.4 259.0L223.0 258.6L220.4 256.0L220.0 255.6L217.5 253.0L217.0 252.5L214.5 250.0L214.0 249.5L211.5 247.0L211.0 246.5L208.4 244.0L208.0 243.6L205.3 241.0L205.0 240.7L202.2 238.0L202.0 237.8L199.1 235.0L199.0 234.9L196.0 232.1L195.9 232.0L193.0 229.3L192.7 229.0L190.0 226.5L189.5 226.0L187.0 223.7L186.2 223.0L184.0 221.0L182.9 220.0L181.0 218.3L179.5 217.0L178.0 215.6L176.2 214.0L175.0 212.9L172.8 211.0L172.0 210.3L169.4 208.0L169.0 207.7L166.0 205.1L165.9 205.0L163.0 202.4L162.5 202.0L160.0 199.9L159.0 199.0L157.0 197.3L155.5 196.0L154.0 194.7L152.0 193.0L151.0 192.2L148.5 190.0L148.0 189.6L145.0 187.1L144.9 187.0L142.0 184.5L141.4 184.0L139.0 182.0L137.8 181.0L136.0 179.5L134.2 178.0L133.0 176.9L130.7 175.0L130.0 174.4L127.1 172.0L127.0 171.9L124.0 169.4L123.6 169.0L121.0 166.8L120.0 166.0L118.0 164.3L116.4 163.0L115.0 161.8L112.9 160.0L112.0 159.2L109.4 157.0L109.0 156.7L106.0 154.1L105.8 154.0L103.0 151.6L102.3 151.0L100.0 149.0L98.8 148.0L97.0 146.4L95.3 145.0L94.0 143.8L91.9 142.0L91.0 141.2L88.4 139.0L88.0 138.6L85.0 136.0L85.0 136.0L82.0 133.3L81.6 133.0L79.0 130.7L78.2 130.0L76.0 128.0L76.0 127.0L76.0 124.0L76.0 121.0L76.0 118.0L76.0 115.0L76.0 112.0L76.0 109.0L76.0 106.0L76.0 103.0L76.0 100.0L76.0 97.0L76.0 94.0L76.0 91.0L76.0 88.0L76.0 85.0L76.0 82.0L76.0 79.0L76.0 76.0L76.0 73.0L76.0 70.0L76.0 67.0L76.0 64.0Z"/><path fill="#ffde64" d="M76.0 130.0L76.0 128.0L78.2 130.0L79.0 130.7L81.6 133.0L82.0 133.3L85.0 136.0L85.0 136.0L88.0 138.6L88.4 139.0L91.0 141.2L91.9 142.0L94.0 143.8L95.3 145.0L97.0 146.4L98.8 148.0L100.0 149.0L102.3 151.0L103.0 151.6L105.8 154.0L106.0 154.1L109.0 156.7L109.4 157.0L112.0 159.2L112.9 160.0L115.0 161.8L116.4 163.0L118.0 164.3L120.0 166.0L121.0 166.8L123.6 169.0L124.0 169.4L127.0 171.9L127.1 172.0L130.0 174.4L130.7 175.0L133.0 176.9L134.2 178.0L136.0 179.5L137.8 181.0L139.0 182.0L141.4 184.0L142.0 184.5L144.9 187.0L145.0 187.1L148.0 189.6L148.5 190.0L151.0 192.2L152.0 193.0L154.0 194.7L155.5 196.0L157.0 197.3L159.0 199.0L160.0 199.9L162.5 202.0L163.0 202.4L165.9 205.0L166.0 205.1L169.0 207.7L169.4 208.0L172.0 210.3L172.8 211.0L175.0 212.9L176.2 214.0L178.0 215.6L179.5 217.0L181.0 218.3L182.9 220.0L184.0 221.0L186.2 223.0L187.0 223.7L189.5 226.0L190.0 226.5L192.7 229.0L193.0 229.3L195.9 232.0L196.0 232.1L199.0 234.9L199.1 235.0L202.0 237.8L202.2 238.0L205.0 240.7L205.3 241.0L208.0 243.6L208.4 244.0L211.0 246.5L211.5 247.0L214.0 249.5L214.5 250.0L217.0 252.5L217.5 253.0L220.0 255.6L220.4 256.0L223.0 258.6L223.4 259.0L226.0 261.7L226.3 262.0L229.0 264.9L229.1 265.0L232.0 268.0L232.0 268.0L234.8 271.0L235.0 271.2L237.6 274.0L238.0 274.4L240.5 277.0L241.0 277.6L243.3 280.0L244.0 280.7L246.1 283.0L247.0 283.9L249.0 286.0L250.0 287.1L251.8 289.0L253.0 290.2L254.8 292.0L256.0 293.2L257.7 295.0L259.0 296.2L260.8 298.0L262.0 299.1L264.0 301.0L265.0 302.0L267.2 304.0L268.0 304.7L270.7 307.0L271.0 307.3L274.0 309.7L274.3 310.0L277.0 312.1L278.2 313.0L280.0 314.3L282.5 316.0L283.0 316.3L286.0 318.3L287.1 319.0L289.0 320.1L292.0 321.8L292.4 322.0L295.0 323.4L298.0 324.9L298.3 325.0L301.0 326.2L304.0 327.5L305.1 328.0L307.0 328.8L310.0 329.9L313.0 331.0L313.1 331.0L316.0 332.0L319.0 332.9L322.0 333.8L322.6 334.0L325.0 334.7L328.0 335.5L331.0 336.2L334.0 336.9L334.3 337.0L337.0 337.6L340.0 338.2L343.0 338.7L346.0 339.1L349.0 339.5L352.0 339.8L355.0 340.0L355.8 340.0L358.0 340.1L361.0 340.3L364.0 340.4L367.0 340.4L370.0 340.2L370.9 340.0L373.0 339.6L376.0 338.5L378.7 337.0L379.0 336.8L382.0 334.4L382.4 334.0L384.9 331.0L385.0 330.8L386.7 328.0L388.0 325.1L388.0 325.0L389.2 322.0L390.3 319.0L391.0 316.9L391.4 316.0L393.1 313.0L394.0 311.5L396.3 310.0L397.0 309.6L399.8 310.0L400.0 310.0L403.0 311.9L404.3 313.0L406.0 314.2L408.1 316.0L409.0 316.6L412.0 318.6L412.6 319.0L415.0 320.2L418.0 321.3L421.0 321.9L422.5 322.0L424.0 322.1L425.0 322.0L427.0 321.9L430.0 321.2L433.0 320.2L435.3 319.0L436.0 318.7L439.0 317.3L442.0 316.1L442.2 316.0L445.0 315.0L448.0 313.7L449.6 313.0L451.0 312.3L454.0 310.5L454.9 310.0L457.0 308.5L459.1 307.0L460.0 306.4L463.0 304.6L464.2 304.0L466.0 303.3L469.0 302.1L470.9 301.0L472.0 300.5L475.0 298.6L475.7 298.0L478.0 296.5L479.6 295.0L481.0 293.1L481.7 292.0L483.3 289.0L484.0 287.6L485.0 286.0L487.0 283.0L487.0 283.0L490.0 280.0L490.1 280.0L493.0 278.9L496.0 278.3L499.0 277.9L502.0 277.4L503.7 277.0L505.0 276.7L508.0 275.9L511.0 274.6L512.2 274.0L514.0 273.2L517.0 271.6L518.1 271.0L520.0 270.1L523.0 268.8L525.0 268.0L526.0 267.6L529.0 266.5L532.0 265.4L533.1 265.0L535.0 264.3L538.0 263.2L541.0 262.3L543.0 262.0L544.0 261.8L547.0 261.8L550.0 262.0L550.7 262.0L553.0 262.2L556.0 262.2L559.0 262.0L559.2 262.0L562.0 261.7L565.0 261.2L568.0 260.6L571.0 259.4L571.7 259.0L574.0 257.6L576.6 256.0L577.0 255.8L580.0 254.0L581.6 253.0L583.0 252.3L586.0 250.8L587.5 250.0L589.0 249.3L592.0 247.8L593.6 247.0L595.0 246.3L598.0 244.7L599.4 244.0L601.0 243.1L604.0 241.7L605.5 241.0L607.0 240.3L610.0 239.1L613.0 238.1L613.4 238.0L616.0 237.3L619.0 236.8L622.0 236.5L625.0 236.6L628.0 236.9L631.0 237.4L633.5 238.0L634.0 238.1L637.0 238.9L640.0 239.7L643.0 240.6L644.2 241.0L646.0 241.5L649.0 242.6L652.0 243.7L652.6 244.0L655.0 245.1L658.0 246.8L658.4 247.0L661.0 248.4L664.0 249.8L664.7 250.0L667.0 250.8L670.0 251.7L673.0 252.5L674.5 253.0L676.0 253.6L679.0 255.0L681.1 256.0L682.0 256.4L685.0 257.5L688.0 258.1L691.0 258.4L694.0 258.4L697.0 258.7L699.4 259.0L700.0 259.1L703.0 259.6L706.0 260.0L709.0 260.7L710.7 262.0L712.0 265.0L711.8 268.0L709.9 271.0L709.0 271.6L706.0 273.6L705.4 274.0L703.0 275.4L700.4 277.0L700.0 277.2L697.0 279.1L695.6 280.0L694.0 281.1L691.2 283.0L691.0 283.1L688.0 285.3L687.0 286.0L685.0 287.6L683.2 289.0L682.0 290.2L680.1 292.0L679.0 293.4L677.7 295.0L676.0 298.0L676.0 298.1L675.0 301.0L674.8 304.0L675.4 307.0L676.0 308.4L676.7 310.0L678.8 313.0L679.0 313.2L681.7 316.0L682.0 316.3L685.0 318.8L685.2 319.0L688.0 321.0L689.4 322.0L691.0 323.1L693.7 325.0L694.0 325.2L697.0 327.5L697.6 328.0L700.0 329.9L701.3 331.0L703.0 332.3L704.8 334.0L706.0 335.0L707.8 337.0L709.0 338.3L710.5 340.0L712.0 341.7L713.2 343.0L715.0 345.0L716.1 346.0L718.0 347.6L720.6 349.0L721.0 349.2L724.0 349.4L725.1 349.0L727.0 348.1L728.8 346.0L730.0 343.0L730.0 342.7L730.3 340.0L730.4 337.0L730.6 334.0L731.5 331.0L733.0 329.1L734.0 328.0L736.0 326.9L739.0 325.8L742.0 325.1L742.5 325.0L745.0 324.7L748.0 324.6L751.0 324.6L754.0 324.8L756.1 325.0L757.0 325.1L760.0 325.4L763.0 325.5L766.0 325.3L769.0 325.0L769.1 325.0L772.0 324.7L775.0 324.4L778.0 324.2L781.0 324.3L784.0 324.6L787.0 325.0L787.0 325.0L790.0 325.5L793.0 325.9L796.0 326.1L799.0 326.2L802.0 326.2L805.0 326.1L808.0 326.1L811.0 326.3L814.0 326.8L817.0 327.6L818.2 328.0L820.0 328.7L820.0 331.0L820.0 334.0L820.0 337.0L820.0 338.6L817.0 337.2L816.5 337.0L814.0 336.0L811.0 335.0L808.0 334.2L807.3 334.0L805.0 333.5L802.0 333.0L799.0 332.4L796.0 331.8L793.2 331.0L793.0 331.0L790.0 330.2L787.0 329.3L784.0 328.5L781.6 328.0L781.0 327.9L778.0 327.9L777.1 328.0L775.0 328.3L772.0 329.0L769.0 329.7L766.0 330.4L763.0 330.9L760.9 331.0L760.0 331.1L759.4 331.0L757.0 330.8L754.0 330.2L751.0 329.7L748.0 329.4L745.0 329.3L742.0 329.6L739.0 330.9L738.9 331.0L737.4 334.0L736.8 337.0L736.6 340.0L736.2 343.0L736.0 344.0L735.5 346.0L734.3 349.0L733.0 351.0L732.1 352.0L730.0 353.9L727.9 355.0L727.0 355.4L724.0 356.1L721.0 356.0L718.0 355.1L717.9 355.0L715.0 353.2L713.7 352.0L712.0 350.1L711.2 349.0L709.1 346.0L709.0 345.9L706.6 343.0L706.0 342.4L703.0 340.1L702.9 340.0L700.0 338.2L697.7 337.0L697.0 336.6L694.0 335.0L692.2 334.0L691.0 333.3L688.0 331.6L687.0 331.0L685.0 329.7L682.3 328.0L682.0 327.8L679.0 325.7L678.0 325.0L676.0 323.4L674.2 322.0L673.0 320.9L670.8 319.0L670.0 318.2L667.7 316.0L667.0 315.2L664.9 313.0L664.0 311.8L662.5 310.0L661.0 307.5L660.7 307.0L659.9 304.0L660.3 301.0L661.0 299.5L661.7 298.0L663.9 295.0L664.0 294.9L666.9 292.0L667.0 291.9L670.0 289.3L670.4 289.0L673.0 287.1L674.4 286.0L676.0 285.0L679.0 283.0L679.0 283.0L682.0 281.1L683.8 280.0L685.0 279.3L688.0 277.5L688.9 277.0L691.0 275.7L694.0 274.1L694.1 274.0L697.0 272.1L698.7 271.0L700.0 269.6L701.5 268.0L700.8 265.0L700.0 264.6L697.0 263.4L694.0 262.6L691.0 262.5L688.0 262.3L686.7 262.0L685.0 261.8L682.0 260.9L679.0 259.6L678.0 259.0L676.0 258.1L673.0 256.9L670.0 256.1L669.5 256.0L667.0 255.5L664.0 254.9L661.0 254.0L658.4 253.0L658.0 252.9L655.0 251.8L652.0 250.8L649.0 250.0L648.8 250.0L646.0 249.6L643.0 249.4L640.0 249.3L637.0 249.4L634.0 249.7L631.8 250.0L631.0 250.1L628.0 250.8L625.0 251.6L622.0 252.5L620.5 253.0L619.0 253.5L616.0 254.5L613.0 255.5L611.3 256.0L610.0 256.5L607.0 257.4L604.0 258.4L602.3 259.0L601.0 259.6L598.0 261.7L597.7 262.0L595.0 264.9L594.9 265.0L592.4 268.0L592.0 268.5L589.9 271.0L589.0 272.0L587.2 274.0L586.0 275.2L584.1 277.0L583.0 277.9L580.0 280.0L579.9 280.0L577.0 281.0L574.0 281.5L571.0 281.7L568.0 281.6L565.0 281.5L562.0 281.2L559.0 281.0L556.0 280.8L553.0 280.5L550.0 280.2L549.0 280.0L547.0 279.6L544.0 278.8L541.0 278.0L538.0 277.4L535.0 277.1L532.0 277.1L529.0 277.5L526.0 278.2L523.0 279.3L521.4 280.0L520.0 280.8L517.0 282.6L516.4 283.0L514.0 285.2L512.9 286.0L511.0 288.3L509.8 289.0L508.0 290.8L505.0 289.6L503.9 289.0L502.0 288.5L499.0 287.8L496.0 287.7L493.0 288.4L492.0 289.0L490.0 290.0L487.8 292.0L487.0 292.5L484.7 295.0L484.0 295.6L481.9 298.0L481.0 299.3L479.5 301.0L478.2 304.0L478.0 304.9L477.5 307.0L477.8 310.0L478.0 310.7L478.9 313.0L479.8 316.0L479.3 319.0L478.0 321.3L477.3 322.0L475.0 323.8L472.4 325.0L472.0 325.2L469.0 325.8L466.0 325.9L463.0 325.7L460.0 325.2L458.7 325.0L457.0 324.8L454.0 324.4L451.0 324.2L448.0 324.2L445.0 324.3L442.0 324.9L441.7 325.0L439.0 326.2L436.0 327.8L435.5 328.0L433.0 329.3L430.0 330.3L427.2 331.0L427.0 331.1L424.0 331.6L421.0 331.8L418.0 331.8L415.0 331.6L412.0 331.3L409.0 331.1L406.0 331.1L403.0 331.9L400.0 333.7L399.7 334.0L397.0 336.4L396.4 337.0L394.0 339.2L393.2 340.0L391.0 341.9L389.7 343.0L388.0 344.2L385.3 346.0L385.0 346.2L382.0 347.7L379.0 349.0L378.9 349.0L376.0 349.9L373.0 350.6L370.0 351.0L367.0 351.2L364.0 351.3L361.0 351.3L358.0 351.4L355.0 351.6L352.0 351.8L349.0 351.9L346.0 352.0L343.0 352.0L340.0 351.8L337.0 351.7L334.0 351.4L331.0 351.2L328.0 350.9L325.0 350.7L322.0 350.5L319.0 350.2L316.0 349.9L313.0 349.6L310.0 349.2L308.1 349.0L307.0 348.8L304.0 348.4L301.0 347.9L298.0 347.3L295.0 346.6L292.3 346.0L292.0 345.9L289.0 345.1L286.0 344.2L283.0 343.2L282.5 343.0L280.0 342.1L277.0 340.8L275.2 340.0L274.0 339.4L271.0 337.9L269.4 337.0L268.0 336.2L265.0 334.4L264.4 334.0L262.0 332.4L260.1 331.0L259.0 330.2L256.1 328.0L256.0 327.9L253.0 325.5L252.5 325.0L250.0 322.9L249.0 322.0L247.0 320.2L245.8 319.0L244.0 317.3L242.6 316.0L241.0 314.4L239.6 313.0L238.0 311.4L236.6 310.0L235.0 308.4L233.7 307.0L232.0 305.3L230.7 304.0L229.0 302.2L227.8 301.0L226.0 299.2L224.8 298.0L223.0 296.2L221.8 295.0L220.0 293.2L218.7 292.0L217.0 290.3L215.6 289.0L214.0 287.5L212.4 286.0L211.0 284.7L209.1 283.0L208.0 282.0L205.7 280.0L205.0 279.3L202.3 277.0L202.0 276.8L199.0 274.2L198.7 274.0L196.0 271.8L195.0 271.0L193.0 269.4L191.3 268.0L190.0 267.0L187.4 265.0L187.0 264.7L184.0 262.5L183.3 262.0L181.0 260.3L179.2 259.0L178.0 258.1L175.0 256.1L174.9 256.0L172.0 254.0L170.5 253.0L169.0 252.0L166.0 250.0L165.9 250.0L163.0 248.1L161.2 247.0L160.0 246.2L157.0 244.4L156.4 244.0L154.0 242.6L151.4 241.0L151.0 240.8L148.0 239.0L146.2 238.0L145.0 237.3L142.0 235.6L140.8 235.0L139.0 234.0L136.0 232.3L135.3 232.0L133.0 230.7L130.0 229.2L129.7 229.0L127.0 227.6L124.0 226.1L123.9 226.0L121.0 224.6L118.0 223.1L117.9 223.0L115.0 221.6L112.0 220.1L111.8 220.0L109.0 218.7L106.0 217.2L105.5 217.0L103.0 215.8L100.0 214.4L99.1 214.0L97.0 213.0L94.0 211.6L92.7 211.0L91.0 210.2L88.0 208.8L86.1 208.0L85.0 207.5L82.0 206.1L79.6 205.0L79.0 204.7L76.0 203.4L76.0 202.0L76.0 199.0L76.0 196.0L76.0 193.0L76.0 190.0L76.0 187.0L76.0 184.0L76.0 181.0L76.0 178.0L76.0 175.0L76.0 172.0L76.0 169.0L76.0 166.0L76.0 163.0L76.0 160.0L76.0 157.0L76.0 154.0L76.0 151.0L76.0 148.0L76.0 145.0L76.0 142.0L76.0 139.0L76.0 136.0L76.0 133.0Z"/><path fill="#ffcd55" d="M76.0 205.0L76.0 203.4L79.0 204.7L79.6 205.0L82.0 206.1L85.0 207.5L86.1 208.0L88.0 208.8L91.0 210.2L92.7 211.0L94.0 211.6L97.0 213.0L99.1 214.0L100.0 214.4L103.0 215.8L105.5 217.0L106.0 217.2L109.0 218.7L111.8 220.0L112.0 220.1L115.0 221.6L117.9 223.0L118.0 223.1L121.0 224.6L123.9 226.0L124.0 226.1L127.0 227.6L129.7 229.0L130.0 229.2L133.0 230.7L135.3 232.0L136.0 232.3L139.0 234.0L140.8 235.0L142.0 235.6L145.0 237.3L146.2 238.0L148.0 239.0L151.0 240.8L151.4 241.0L154.0 242.6L156.4 244.0L157.0 244.4L160.0 246.2L161.2 247.0L163.0 248.1L165.9 250.0L166.0 250.0L169.0 252.0L170.5 253.0L172.0 254.0L174.9 256.0L175.0 256.1L178.0 258.1L179.2 259.0L181.0 260.3L183.3 262.0L184.0 262.5L187.0 264.7L187.4 265.0L190.0 267.0L191.3 268.0L193.0 269.4L195.0 271.0L196.0 271.8L198.7 274.0L199.0 274.2L202.0 276.8L202.3 277.0L205.0 279.3L205.7 280.0L208.0 282.0L209.1 283.0L211.0 284.7L212.4 286.0L214.0 287.5L215.6 289.0L217.0 290.3L218.7 292.0L220.0 293.2L221.8 295.0L223.0 296.2L224.8 298.0L226.0 299.2L227.8 301.0L229.0 302.2L230.7 304.0L232.0 305.3L233.7 307.0L235.0 308.4L236.6 310.0L238.0 311.4L239.6 313.0L241.0 314.4L242.6 316.0L244.0 317.3L245.8 319.0L247.0 320.2L249.0 322.0L250.0 322.9L252.5 325.0L253.0 325.5L256.0 327.9L256.1 328.0L259.0 330.2L260.1 331.0L262.0 332.4L264.4 334.0L265.0 334.4L268.0 336.2L269.4 337.0L271.0 337.9L274.0 339.4L275.2 340.0L277.0 340.8L280.0 342.1L282.5 343.0L283.0 343.2L286.0 344.2L289.0 345.1L292.0 345.9L292.3 346.0L295.0 346.6L298.0 347.3L301.0 347.9L304.0 348.4L307.0 348.8L308.1 349.0L310.0 349.2L313.0 349.6L316.0 349.9L319.0 350.2L322.0 350.5L325.0 350.7L328.0 350.9L331.0 351.2L334.0 351.4L337.0 351.7L340.0 351.8L343.0 352.0L346.0 352.0L349.0 351.9L352.0 351.8L355.0 351.6L358.0 351.4L361.0 351.3L364.0 351.3L367.0 351.2L370.0 351.0L373.0 350.6L376.0 349.9L378.9 349.0L379.0 349.0L382.0 347.7L385.0 346.2L385.3 346.0L388.0 344.2L389.7 343.0L391.0 341.9L393.2 340.0L394.0 339.2L396.4 337.0L397.0 336.4L399.7 334.0L400.0 333.7L403.0 331.9L406.0 331.1L409.0 331.1L412.0 331.3L415.0 331.6L418.0 331.8L421.0 331.8L424.0 331.6L427.0 331.1L427.2 331.0L430.0 330.3L433.0 329.3L435.5 328.0L436.0 327.8L439.0 326.2L441.7 325.0L442.0 324.9L445.0 324.3L448.0 324.2L451.0 324.2L454.0 324.4L457.0 324.8L458.7 325.0L460.0 325.2L463.0 325.7L466.0 325.9L469.0 325.8L472.0 325.2L472.4 325.0L475.0 323.8L477.3 322.0L478.0 321.3L479.3 319.0L479.8 316.0L478.9 313.0L478.0 310.7L477.8 310.0L477.5 307.0L478.0 304.9L478.2 304.0L479.5 301.0L481.0 299.3L481.9 298.0L484.0 295.6L484.7 295.0L487.0 292.5L487.8 292.0L490.0 290.0L492.0 289.0L493.0 288.4L496.0 287.7L499.0 287.8L502.0 288.5L503.9 289.0L505.0 289.6L508.0 290.8L509.8 289.0L511.0 288.3L512.9 286.0L514.0 285.2L516.4 283.0L517.0 282.6L520.0 280.8L521.4 280.0L523.0 279.3L526.0 278.2L529.0 277.5L532.0 277.1L535.0 277.1L538.0 277.4L541.0 278.0L544.0 278.8L547.0 279.6L549.0 280.0L550.0 280.2L553.0 280.5L556.0 280.8L559.0 281.0L562.0 281.2L565.0 281.5L568.0 281.6L571.0 281.7L574.0 281.5L577.0 281.0L579.9 280.0L580.0 280.0L583.0 277.9L584.1 277.0L586.0 275.2L587.2 274.0L589.0 272.0L589.9 271.0L592.0 268.5L592.4 268.0L594.9 265.0L595.0 264.9L597.7 262.0L598.0 261.7L601.0 259.6L602.3 259.0L604.0 258.4L607.0 257.4L610.0 256.5L611.3 256.0L613.0 255.5L616.0 254.5L619.0 253.5L620.5 253.0L622.0 252.5L625.0 251.6L628.0 250.8L631.0 250.1L631.8 250.0L634.0 249.7L637.0 249.4L640.0 249.3L643.0 249.4L646.0 249.6L648.8 250.0L649.0 250.0L652.0 250.8L655.0 251.8L658.0 252.9L658.4 253.0L661.0 254.0L664.0 254.9L667.0 255.5L669.5 256.0L670.0 256.1L673.0 256.9L676.0 258.1L678.0 259.0L679.0 259.6L682.0 260.9L685.0 261.8L686.7 262.0L688.0 262.3L691.0 262.5L694.0 262.6L697.0 263.4L700.0 264.6L700.8 265.0L701.5 268.0L700.0 269.6L698.7 271.0L697.0 272.1L694.1 274.0L694.0 274.1L691.0 275.7L688.9 277.0L688.0 277.5L685.0 279.3L683.8 280.0L682.0 281.1L679.0 283.0L679.0 283.0L676.0 285.0L674.4 286.0L673.0 287.1L670.4 289.0L670.0 289.3L667.0 291.9L666.9 292.0L664.0 294.9L663.9 295.0L661.7 298.0L661.0 299.5L660.3 301.0L659.9 304.0L660.7 307.0L661.0 307.5L662.5 310.0L664.0 311.8L664.9 313.0L667.0 315.2L667.7 316.0L670.0 318.2L670.8 319.0L673.0 320.9L674.2 322.0L676.0 323.4L678.0 325.0L679.0 325.7L682.0 327.8L682.3 328.0L685.0 329.7L687.0 331.0L688.0 331.6L691.0 333.3L692.2 334.0L694.0 335.0L697.0 336.6L697.7 337.0L700.0 338.2L702.9 340.0L703.0 340.1L706.0 342.4L706.6 343.0L709.0 345.9L709.1 346.0L711.2 349.0L712.0 350.1L713.7 352.0L715.0 353.2L717.9 355.0L718.0 355.1L721.0 356.0L724.0 356.1L727.0 355.4L727.9 355.0L730.0 353.9L732.1 352.0L733.0 351.0L734.3 349.0L735.5 346.0L736.0 344.0L736.2 343.0L736.6 340.0L736.8 337.0L737.4 334.0L738.9 331.0L739.0 330.9L742.0 329.6L745.0 329.3L748.0 329.4L751.0 329.7L754.0 330.2L757.0 330.8L759.4 331.0L760.0 331.1L760.9 331.0L763.0 330.9L766.0 330.4L769.0 329.7L772.0 329.0L775.0 328.3L777.1 328.0L778.0 327.9L781.0 327.9L781.6 328.0L784.0 328.5L787.0 329.3L790.0 330.2L793.0 331.0L793.2 331.0L796.0 331.8L799.0 332.4L802.0 333.0L805.0 333.5L807.3 334.0L808.0 334.2L811.0 335.0L814.0 336.0L816.5 337.0L817.0 337.2L820.0 338.6L820.0 340.0L820.0 343.0L820.0 346.0L820.0 349.0L820.0 352.0L820.0 354.3L817.0 352.8L815.2 352.0L814.0 351.4L811.0 350.1L808.6 349.0L808.0 348.8L805.0 347.4L802.2 346.0L802.0 345.9L799.0 344.3L797.2 343.0L796.0 342.3L793.0 340.1L792.9 340.0L790.0 338.2L788.4 337.0L787.0 336.3L784.0 334.7L782.2 334.0L781.0 333.7L778.0 333.6L776.1 334.0L775.0 334.3L772.0 335.5L769.0 336.6L767.8 337.0L766.0 337.7L763.0 338.6L760.0 339.1L757.0 339.1L754.0 338.8L751.0 338.7L748.0 339.3L747.0 340.0L745.0 342.3L744.7 343.0L743.4 346.0L742.0 348.9L742.0 349.0L740.4 352.0L739.0 354.2L738.4 355.0L736.0 357.6L735.6 358.0L733.0 360.0L731.1 361.0L730.0 361.5L727.0 362.5L724.0 363.0L721.0 363.0L718.0 362.6L715.0 361.5L714.1 361.0L712.0 359.7L710.0 358.0L709.0 357.0L707.4 355.0L706.0 353.0L705.3 352.0L703.3 349.0L703.0 348.6L700.0 346.2L699.7 346.0L697.0 344.8L694.0 343.6L692.6 343.0L691.0 342.4L688.0 341.2L685.2 340.0L685.0 339.9L682.0 338.5L679.2 337.0L679.0 336.9L676.0 335.1L674.3 334.0L673.0 333.1L670.2 331.0L670.0 330.9L667.0 328.5L666.4 328.0L664.0 326.0L662.8 325.0L661.0 323.5L659.0 322.0L658.0 321.2L655.0 319.1L654.8 319.0L652.0 317.2L649.8 316.0L649.0 315.5L646.0 313.8L644.4 313.0L643.0 312.0L640.0 310.0L640.0 310.0L637.7 307.0L637.0 305.1L636.6 304.0L636.1 301.0L636.3 298.0L637.0 295.3L637.1 295.0L638.5 292.0L640.0 290.2L641.1 289.0L643.0 287.5L645.4 286.0L646.0 285.7L649.0 284.2L651.8 283.0L652.0 282.9L655.0 281.7L658.0 280.5L659.3 280.0L661.0 279.3L664.0 278.0L666.4 277.0L667.0 276.7L670.0 275.0L671.7 274.0L673.0 272.7L674.6 271.0L674.4 268.0L673.0 266.8L670.4 265.0L670.0 264.8L667.0 264.1L664.0 263.5L661.0 263.0L658.0 262.5L655.0 262.2L652.0 262.1L649.0 262.3L646.0 263.0L643.0 264.0L640.6 265.0L640.0 265.4L637.0 267.4L636.0 268.0L634.0 269.8L632.6 271.0L631.0 272.6L629.4 274.0L628.0 275.3L625.8 277.0L625.0 277.6L622.0 279.3L620.6 280.0L619.0 280.7L616.0 281.7L613.0 282.6L611.5 283.0L610.0 283.4L607.0 284.3L604.0 285.3L602.4 286.0L601.0 286.6L598.0 288.2L596.6 289.0L595.0 290.0L592.2 292.0L592.0 292.2L589.0 294.6L588.4 295.0L586.0 296.9L584.2 298.0L583.0 298.8L580.0 300.1L577.0 300.5L574.0 300.3L571.0 299.6L568.0 298.2L567.7 298.0L565.0 296.5L562.9 295.0L562.0 294.5L559.0 292.7L557.9 292.0L556.0 291.2L553.0 290.0L550.0 289.3L547.6 289.0L547.0 288.9L544.0 288.8L541.0 289.0L540.8 289.0L538.0 289.4L535.0 290.2L532.0 291.4L531.0 292.0L529.0 293.8L528.0 295.0L526.5 298.0L526.0 299.0L525.2 301.0L523.9 304.0L523.0 305.6L522.2 307.0L520.0 310.0L520.0 310.1L518.0 313.0L517.0 314.5L515.5 316.0L514.0 317.5L511.5 319.0L511.0 319.3L508.0 320.4L505.0 321.1L502.0 322.0L502.0 322.0L499.0 324.1L498.3 325.0L496.0 327.7L495.8 328.0L493.6 331.0L493.0 331.8L491.5 334.0L490.0 336.3L489.6 337.0L487.8 340.0L487.0 341.6L486.2 343.0L484.5 346.0L484.0 347.0L482.7 349.0L481.0 351.4L480.5 352.0L478.0 354.3L477.0 355.0L475.0 356.2L472.0 357.4L469.8 358.0L469.0 358.2L466.0 358.7L463.0 359.0L460.0 359.1L457.0 359.1L454.0 358.9L451.0 358.5L448.7 358.0L448.0 357.8L445.0 357.0L442.0 356.0L439.5 355.0L439.0 354.8L436.0 353.6L433.0 352.5L431.5 352.0L430.0 351.6L427.0 350.9L424.0 350.5L421.0 350.3L418.0 350.3L415.0 350.6L412.0 351.0L409.0 351.8L408.3 352.0L406.0 352.7L403.0 353.9L400.7 355.0L400.0 355.3L397.0 356.7L394.4 358.0L394.0 358.2L391.0 359.6L388.0 361.0L387.9 361.0L385.0 362.2L382.0 363.4L380.3 364.0L379.0 364.5L376.0 365.5L373.0 366.4L370.8 367.0L370.0 367.3L367.0 368.1L364.0 369.0L361.0 369.8L359.9 370.0L358.0 370.5L355.0 371.1L352.0 371.6L349.0 372.1L346.0 372.4L343.0 372.8L340.0 373.0L339.6 373.0L337.0 373.2L334.0 373.3L331.0 373.4L328.0 373.4L325.0 373.5L322.0 373.5L319.0 373.5L316.0 373.5L313.0 373.3L310.0 373.2L307.9 373.0L307.0 372.9L304.0 372.7L301.0 372.4L298.0 372.0L295.0 371.7L292.0 371.3L289.0 371.0L286.0 370.6L283.0 370.2L281.3 370.0L280.0 369.8L277.0 369.4L274.0 368.9L271.0 368.4L268.0 367.8L265.2 367.0L265.0 366.9L262.0 365.9L259.0 364.6L257.7 364.0L256.0 363.2L253.0 361.6L251.9 361.0L250.0 360.0L247.0 358.3L246.4 358.0L244.0 356.7L241.0 355.0L241.0 355.0L238.0 353.3L235.7 352.0L235.0 351.6L232.0 349.6L231.0 349.0L229.0 347.5L227.1 346.0L226.0 345.0L223.9 343.0L223.0 342.1L221.1 340.0L220.0 338.7L218.6 337.0L217.0 335.0L216.2 334.0L214.0 331.2L213.9 331.0L211.4 328.0L211.0 327.5L208.9 325.0L208.0 324.0L206.2 322.0L205.0 320.7L203.3 319.0L202.0 317.7L200.2 316.0L199.0 314.9L196.8 313.0L196.0 312.3L193.2 310.0L193.0 309.8L190.0 307.5L189.3 307.0L187.0 305.4L185.0 304.0L184.0 303.3L181.0 301.3L180.5 301.0L178.0 299.5L175.5 298.0L175.0 297.7L172.0 296.0L170.1 295.0L169.0 294.4L166.0 292.9L164.2 292.0L163.0 291.4L160.0 290.1L157.6 289.0L157.0 288.8L154.0 287.5L151.0 286.4L150.0 286.0L148.0 285.3L145.0 284.2L142.0 283.3L141.1 283.0L139.0 282.4L136.0 281.5L133.0 280.8L130.0 280.1L129.8 280.0L127.0 279.4L124.0 278.8L121.0 278.3L118.0 277.8L115.0 277.3L112.5 277.0L112.0 276.9L109.0 276.6L106.0 276.3L103.0 276.1L100.0 275.9L97.0 275.7L94.0 275.6L91.0 275.5L88.0 275.4L85.0 275.4L82.0 275.4L79.0 275.4L76.0 275.5L76.0 274.0L76.0 271.0L76.0 268.0L76.0 265.0L76.0 262.0L76.0 259.0L76.0 256.0L76.0 253.0L76.0 250.0L76.0 247.0L76.0 244.0L76.0 241.0L76.0 238.0L76.0 235.0L76.0 232.0L76.0 229.0L76.0 226.0L76.0 223.0L76.0 220.0L76.0 217.0L76.0 214.0L76.0 211.0L76.0 208.0ZM487.0 299.1L485.1 301.0L484.8 304.0L486.3 307.0L487.0 308.0L489.9 310.0L490.0 310.1L493.0 311.0L495.0 310.0L496.0 308.5L496.3 307.0L496.2 304.0L496.0 303.4L495.1 301.0L493.0 298.8L490.0 298.0ZM180.1 370.0L181.0 369.7L184.0 369.5L186.5 370.0L187.0 370.1L190.0 372.0L190.9 373.0L192.6 376.0L193.0 377.6L193.3 379.0L193.4 382.0L193.3 385.0L193.0 387.4L192.9 388.0L192.5 391.0L191.9 394.0L191.3 397.0L190.4 400.0L190.0 401.1L189.2 403.0L187.3 406.0L187.0 406.4L184.4 409.0L184.0 409.3L181.0 411.1L178.2 412.0L178.0 412.1L175.0 412.3L173.3 412.0L172.0 411.7L169.0 410.0L168.1 409.0L166.1 406.0L166.0 405.8L165.1 403.0L164.6 400.0L164.5 397.0L164.7 394.0L165.3 391.0L166.0 388.5L166.2 388.0L167.4 385.0L168.7 382.0L169.0 381.4L170.4 379.0L172.0 376.3L172.3 376.0L174.9 373.0L175.0 372.9L178.0 370.7ZM294.8 466.0L295.0 465.9L298.0 465.6L298.9 466.0L301.0 467.7L301.5 469.0L301.8 472.0L301.5 475.0L301.0 476.7L300.7 478.0L299.6 481.0L298.1 484.0L298.0 484.2L295.9 487.0L295.0 487.9L292.0 489.7L289.0 489.9L286.0 488.4L284.6 487.0L283.2 484.0L283.0 482.1L282.9 481.0L283.0 480.5L283.6 478.0L285.0 475.0L286.0 473.3L287.0 472.0L289.0 469.6L289.8 469.0L292.0 467.3Z"/><path fill="#ffbe45" d="M640.6 265.0L643.0 264.0L646.0 263.0L649.0 262.3L652.0 262.1L655.0 262.2L658.0 262.5L661.0 263.0L664.0 263.5L667.0 264.1L670.0 264.8L670.4 265.0L673.0 266.8L674.4 268.0L674.6 271.0L673.0 272.7L671.7 274.0L670.0 275.0L667.0 276.7L666.4 277.0L664.0 278.0L661.0 279.3L659.3 280.0L658.0 280.5L655.0 281.7L652.0 282.9L651.8 283.0L649.0 284.2L646.0 285.7L645.4 286.0L643.0 287.5L641.1 289.0L640.0 290.2L638.5 292.0L637.1 295.0L637.0 295.3L636.3 298.0L636.1 301.0L636.6 304.0L637.0 305.1L637.7 307.0L640.0 310.0L640.0 310.0L643.0 312.0L644.4 313.0L646.0 313.8L649.0 315.5L649.8 316.0L652.0 317.2L654.8 319.0L655.0 319.1L658.0 321.2L659.0 322.0L661.0 323.5L662.8 325.0L664.0 326.0L666.4 328.0L667.0 328.5L670.0 330.9L670.2 331.0L673.0 333.1L674.3 334.0L676.0 335.1L679.0 336.9L679.2 337.0L682.0 338.5L685.0 339.9L685.2 340.0L688.0 341.2L691.0 342.4L692.6 343.0L694.0 343.6L697.0 344.8L699.7 346.0L700.0 346.2L703.0 348.6L703.3 349.0L705.3 352.0L706.0 353.0L707.4 355.0L709.0 357.0L710.0 358.0L712.0 359.7L714.1 361.0L715.0 361.5L718.0 362.6L721.0 363.0L724.0 363.0L727.0 362.5L730.0 361.5L731.1 361.0L733.0 360.0L735.6 358.0L736.0 357.6L738.4 355.0L739.0 354.2L740.4 352.0L742.0 349.0L742.0 348.9L743.4 346.0L744.7 343.0L745.0 342.3L747.0 340.0L748.0 339.3L751.0 338.7L754.0 338.8L757.0 339.1L760.0 339.1L763.0 338.6L766.0 337.7L767.8 337.0L769.0 336.6L772.0 335.5L775.0 334.3L776.1 334.0L778.0 333.6L781.0 333.7L782.2 334.0L784.0 334.7L787.0 336.3L788.4 337.0L790.0 338.2L792.9 340.0L793.0 340.1L796.0 342.3L797.2 343.0L799.0 344.3L802.0 345.9L802.2 346.0L805.0 347.4L808.0 348.8L808.6 349.0L811.0 350.1L814.0 351.4L815.2 352.0L817.0 352.8L820.0 354.3L820.0 355.0L820.0 358.0L820.0 361.0L820.0 364.0L820.0 367.0L820.0 370.0L820.0 373.0L820.0 373.9L817.2 373.0L817.0 373.0L814.0 372.1L811.0 371.3L808.0 370.6L805.2 370.0L805.0 369.9L802.0 369.3L799.0 368.7L796.0 368.1L793.0 367.3L792.0 367.0L790.0 366.3L787.0 365.0L785.4 364.0L784.0 363.0L781.6 361.0L781.0 360.3L779.0 358.0L778.0 356.5L776.7 355.0L775.0 353.1L773.3 352.0L772.0 351.4L769.0 350.8L766.0 350.7L763.0 350.8L760.0 351.0L757.0 351.5L755.4 352.0L754.0 352.5L751.0 354.2L750.2 355.0L748.0 357.4L747.5 358.0L745.0 360.9L744.9 361.0L742.0 363.8L741.7 364.0L739.0 365.9L737.1 367.0L736.0 367.5L733.0 368.8L730.0 369.7L728.7 370.0L727.0 370.4L724.0 371.0L721.0 371.4L718.0 371.5L715.0 371.2L712.0 370.6L710.2 370.0L709.0 369.6L706.0 367.9L704.7 367.0L703.0 365.6L701.2 364.0L700.0 362.8L698.1 361.0L697.0 359.9L694.8 358.0L694.0 357.4L691.0 355.5L689.9 355.0L688.0 354.2L685.0 353.0L682.3 352.0L682.0 351.9L679.0 350.8L676.0 349.6L674.7 349.0L673.0 348.2L670.0 346.6L669.1 346.0L667.0 344.6L664.9 343.0L664.0 342.3L661.5 340.0L661.0 339.5L658.4 337.0L658.0 336.6L655.4 334.0L655.0 333.6L652.0 331.2L651.7 331.0L649.0 329.9L646.0 329.7L643.0 330.1L640.0 330.9L639.6 331.0L637.0 331.9L634.0 332.9L631.0 333.7L628.4 334.0L628.0 334.0L625.7 334.0L625.0 334.0L622.0 333.6L619.0 333.1L616.0 332.4L613.0 331.7L610.0 331.1L609.2 331.0L607.0 330.6L604.0 330.2L601.0 330.0L598.0 329.8L595.0 329.7L592.0 329.5L589.0 329.3L586.0 328.9L583.0 328.5L580.0 328.0L580.0 328.0L577.0 327.5L574.0 327.0L571.0 326.5L568.0 326.1L565.0 325.7L562.0 325.3L559.5 325.0L559.0 324.9L556.0 324.7L553.0 324.7L550.2 325.0L550.0 325.0L547.0 326.0L544.0 328.0L544.0 328.0L541.0 330.6L540.6 331.0L538.0 333.5L537.5 334.0L535.0 336.2L534.1 337.0L532.0 338.5L529.9 340.0L529.0 340.5L526.0 342.1L524.1 343.0L523.0 343.5L520.0 344.7L517.4 346.0L517.0 346.2L514.0 348.4L513.4 349.0L511.6 352.0L511.0 354.4L510.8 355.0L510.6 358.0L510.5 361.0L510.1 364.0L508.8 367.0L508.0 368.4L506.8 370.0L505.0 372.5L504.6 373.0L502.1 376.0L502.0 376.1L499.0 378.9L498.8 379.0L496.0 380.6L493.0 381.7L491.3 382.0L490.0 382.2L487.0 382.4L484.0 382.3L481.0 382.1L480.2 382.0L478.0 381.8L475.0 381.4L472.0 381.0L469.0 380.6L466.0 380.2L463.0 379.8L460.0 379.5L457.0 379.2L455.0 379.0L454.0 378.9L451.0 378.6L448.0 378.3L445.0 378.1L442.0 377.8L439.0 377.5L436.0 377.1L433.0 376.8L430.0 376.5L427.0 376.2L425.2 376.0L424.0 375.9L421.0 375.6L418.0 375.4L415.0 375.4L412.0 375.4L409.0 375.8L407.8 376.0L406.0 376.3L403.0 377.0L400.0 377.8L397.0 378.5L395.4 379.0L394.0 379.4L391.0 380.2L388.0 381.1L385.4 382.0L385.0 382.1L382.0 383.2L379.0 384.4L377.8 385.0L376.0 385.8L373.0 387.3L371.8 388.0L370.0 389.1L367.1 391.0L367.0 391.0L364.0 393.3L363.1 394.0L361.0 395.9L359.8 397.0L358.0 398.8L356.9 400.0L355.0 402.4L354.5 403.0L352.5 406.0L352.0 406.9L350.8 409.0L349.4 412.0L349.0 413.2L348.2 415.0L347.2 418.0L346.3 421.0L346.0 422.0L345.3 424.0L344.3 427.0L343.2 430.0L343.0 430.5L341.8 433.0L340.3 436.0L340.0 436.5L338.5 439.0L337.0 441.5L336.7 442.0L334.8 445.0L334.0 446.2L332.8 448.0L331.0 450.8L330.9 451.0L328.8 454.0L328.0 455.0L326.6 457.0L325.0 459.0L324.2 460.0L322.0 462.5L321.6 463.0L319.0 465.6L318.7 466.0L316.0 468.6L315.6 469.0L313.0 471.5L312.6 472.0L310.0 474.7L309.8 475.0L307.3 478.0L307.0 478.3L305.0 481.0L304.0 482.3L302.8 484.0L301.0 486.5L300.6 487.0L298.0 490.0L298.0 490.0L295.0 492.4L293.5 493.0L292.0 493.6L289.0 493.9L286.0 493.1L285.8 493.0L283.0 491.1L281.9 490.0L280.0 487.2L279.9 487.0L278.7 484.0L278.3 481.0L278.4 478.0L278.9 475.0L279.8 472.0L280.0 471.6L281.1 469.0L282.5 466.0L283.0 465.1L284.3 463.0L286.0 460.2L286.2 460.0L288.3 457.0L289.0 455.9L290.5 454.0L292.0 451.8L292.7 451.0L294.8 448.0L295.0 447.6L296.9 445.0L298.0 443.0L298.7 442.0L300.3 439.0L301.0 437.5L301.8 436.0L303.0 433.0L303.8 430.0L304.0 429.2L304.5 427.0L304.9 424.0L305.0 421.0L304.7 418.0L304.1 415.0L304.0 414.7L303.1 412.0L301.6 409.0L301.0 408.0L299.6 406.0L298.0 404.2L296.9 403.0L295.0 401.4L293.1 400.0L292.0 399.3L289.0 397.5L287.9 397.0L286.0 396.1L283.0 395.0L280.0 394.0L280.0 394.0L277.0 393.2L274.0 392.5L271.0 392.0L268.0 391.5L265.0 391.0L264.9 391.0L262.0 390.6L259.0 390.1L256.0 389.6L253.0 389.0L250.0 388.4L248.3 388.0L247.0 387.7L244.0 387.1L241.0 386.6L238.0 386.3L235.0 386.1L232.0 386.1L229.0 386.3L226.0 386.7L223.0 387.4L220.5 388.0L220.0 388.1L217.0 389.1L214.0 390.4L212.8 391.0L211.0 392.0L208.2 394.0L208.0 394.2L205.5 397.0L205.0 397.8L204.0 400.0L202.8 403.0L202.0 404.9L201.6 406.0L200.1 409.0L199.0 410.8L198.2 412.0L196.0 414.8L195.9 415.0L193.0 417.9L192.9 418.0L190.0 420.4L189.2 421.0L187.0 422.5L184.5 424.0L184.0 424.3L181.0 425.8L178.3 427.0L178.0 427.1L175.0 428.3L172.0 429.2L169.2 430.0L169.0 430.1L166.0 430.8L163.0 431.3L160.0 431.7L157.0 431.9L154.0 432.0L151.0 432.1L148.0 432.2L145.0 432.6L142.1 433.0L142.0 433.0L139.0 433.5L136.0 433.9L133.0 434.4L130.0 434.8L127.0 435.1L124.0 435.4L121.0 435.6L118.0 435.7L115.0 435.7L112.0 435.6L109.0 435.5L106.0 435.3L103.0 435.0L100.0 434.6L97.0 434.2L94.0 433.7L91.0 433.2L90.1 433.0L88.0 432.5L85.0 431.9L82.0 431.1L79.0 430.4L77.6 430.0L76.0 429.6L76.0 427.0L76.0 424.0L76.0 421.0L76.0 418.0L76.0 415.0L76.0 412.0L76.0 409.0L76.0 406.0L76.0 403.0L76.0 400.0L76.0 397.0L76.0 394.0L76.0 391.0L76.0 388.0L76.0 385.0L76.0 382.0L76.0 379.0L76.0 376.0L76.0 373.0L76.0 370.0L76.0 367.0L76.0 364.0L76.0 361.0L76.0 358.0L76.0 355.0L76.0 352.0L76.0 349.0L76.0 346.0L76.0 343.0L76.0 340.0L76.0 337.0L76.0 334.0L76.0 331.0L76.0 328.0L76.0 325.0L76.0 322.0L76.0 319.0L76.0 316.0L76.0 313.0L76.0 310.0L76.0 307.0L76.0 304.0L76.0 301.0L76.0 298.0L76.0 295.0L76.0 292.0L76.0 289.0L76.0 286.0L76.0 283.0L76.0 280.0L76.0 277.0L76.0 275.5L79.0 275.4L82.0 275.4L85.0 275.4L88.0 275.4L91.0 275.5L94.0 275.6L97.0 275.7L100.0 275.9L103.0 276.1L106.0 276.3L109.0 276.6L112.0 276.9L112.5 277.0L115.0 277.3L118.0 277.8L121.0 278.3L124.0 278.8L127.0 279.4L129.8 280.0L130.0 280.1L133.0 280.8L136.0 281.5L139.0 282.4L141.1 283.0L142.0 283.3L145.0 284.2L148.0 285.3L150.0 286.0L151.0 286.4L154.0 287.5L157.0 288.8L157.6 289.0L160.0 290.1L163.0 291.4L164.2 292.0L166.0 292.9L169.0 294.4L170.1 295.0L172.0 296.0L175.0 297.7L175.5 298.0L178.0 299.5L180.5 301.0L181.0 301.3L184.0 303.3L185.0 304.0L187.0 305.4L189.3 307.0L190.0 307.5L193.0 309.8L193.2 310.0L196.0 312.3L196.8 313.0L199.0 314.9L200.2 316.0L202.0 317.7L203.3 319.0L205.0 320.7L206.2 322.0L208.0 324.0L208.9 325.0L211.0 327.5L211.4 328.0L213.9 331.0L214.0 331.2L216.2 334.0L217.0 335.0L218.6 337.0L220.0 338.7L221.1 340.0L223.0 342.1L223.9 343.0L226.0 345.0L227.1 346.0L229.0 347.5L231.0 349.0L232.0 349.6L235.0 351.6L235.7 352.0L238.0 353.3L241.0 355.0L241.0 355.0L244.0 356.7L246.4 358.0L247.0 358.3L250.0 360.0L251.9 361.0L253.0 361.6L256.0 363.2L257.7 364.0L259.0 364.6L262.0 365.9L265.0 366.9L265.2 367.0L268.0 367.8L271.0 368.4L274.0 368.9L277.0 369.4L280.0 369.8L281.3 370.0L283.0 370.2L286.0 370.6L289.0 371.0L292.0 371.3L295.0 371.7L298.0 372.0L301.0 372.4L304.0 372.7L307.0 372.9L307.9 373.0L310.0 373.2L313.0 373.3L316.0 373.5L319.0 373.5L322.0 373.5L325.0 373.5L328.0 373.4L331.0 373.4L334.0 373.3L337.0 373.2L339.6 373.0L340.0 373.0L343.0 372.8L346.0 372.4L349.0 372.1L352.0 371.6L355.0 371.1L358.0 370.5L359.9 370.0L361.0 369.8L364.0 369.0L367.0 368.1L370.0 367.3L370.8 367.0L373.0 366.4L376.0 365.5L379.0 364.5L380.3 364.0L382.0 363.4L385.0 362.2L387.9 361.0L388.0 361.0L391.0 359.6L394.0 358.2L394.4 358.0L397.0 356.7L400.0 355.3L400.7 355.0L403.0 353.9L406.0 352.7L408.3 352.0L409.0 351.8L412.0 351.0L415.0 350.6L418.0 350.3L421.0 350.3L424.0 350.5L427.0 350.9L430.0 351.6L431.5 352.0L433.0 352.5L436.0 353.6L439.0 354.8L439.5 355.0L442.0 356.0L445.0 357.0L448.0 357.8L448.7 358.0L451.0 358.5L454.0 358.9L457.0 359.1L460.0 359.1L463.0 359.0L466.0 358.7L469.0 358.2L469.8 358.0L472.0 357.4L475.0 356.2L477.0 355.0L478.0 354.3L480.5 352.0L481.0 351.4L482.7 349.0L484.0 347.0L484.5 346.0L486.2 343.0L487.0 341.6L487.8 340.0L489.6 337.0L490.0 336.3L491.5 334.0L493.0 331.8L493.6 331.0L495.8 328.0L496.0 327.7L498.3 325.0L499.0 324.1L502.0 322.0L502.0 322.0L505.0 321.1L508.0 320.4L511.0 319.3L511.5 319.0L514.0 317.5L515.5 316.0L517.0 314.5L518.0 313.0L520.0 310.1L520.0 310.0L522.2 307.0L523.0 305.6L523.9 304.0L525.2 301.0L526.0 299.0L526.5 298.0L528.0 295.0L529.0 293.8L531.0 292.0L532.0 291.4L535.0 290.2L538.0 289.4L540.8 289.0L541.0 289.0L544.0 288.8L547.0 288.9L547.6 289.0L550.0 289.3L553.0 290.0L556.0 291.2L557.9 292.0L559.0 292.7L562.0 294.5L562.9 295.0L565.0 296.5L567.7 298.0L568.0 298.2L571.0 299.6L574.0 300.3L577.0 300.5L580.0 300.1L583.0 298.8L584.2 298.0L586.0 296.9L588.4 295.0L589.0 294.6L592.0 292.2L592.2 292.0L595.0 290.0L596.6 289.0L598.0 288.2L601.0 286.6L602.4 286.0L604.0 285.3L607.0 284.3L610.0 283.4L611.5 283.0L613.0 282.6L616.0 281.7L619.0 280.7L620.6 280.0L622.0 279.3L625.0 277.6L625.8 277.0L628.0 275.3L629.4 274.0L631.0 272.6L632.6 271.0L634.0 269.8L636.0 268.0L637.0 267.4L640.0 265.4ZM295.0 465.9L294.8 466.0L292.0 467.3L289.8 469.0L289.0 469.6L287.0 472.0L286.0 473.3L285.0 475.0L283.6 478.0L283.0 480.5L282.9 481.0L283.0 482.1L283.2 484.0L284.6 487.0L286.0 488.4L289.0 489.9L292.0 489.7L295.0 487.9L295.9 487.0L298.0 484.2L298.1 484.0L299.6 481.0L300.7 478.0L301.0 476.7L301.5 475.0L301.8 472.0L301.5 469.0L301.0 467.7L298.9 466.0L298.0 465.6ZM133.0 347.6L130.8 349.0L130.0 349.6L127.9 352.0L127.0 353.6L126.4 355.0L125.6 358.0L125.3 361.0L125.5 364.0L126.0 367.0L126.9 370.0L127.0 370.2L128.0 373.0L129.3 376.0L130.0 377.2L130.8 379.0L132.1 382.0L133.0 384.3L133.2 385.0L134.0 388.0L134.8 391.0L135.7 394.0L136.0 394.8L136.9 397.0L138.2 400.0L139.0 401.8L139.7 403.0L141.7 406.0L142.0 406.4L145.0 408.8L146.9 409.0L148.0 409.1L148.2 409.0L151.0 407.5L152.0 406.0L153.8 403.0L154.0 402.6L154.8 400.0L155.4 397.0L156.1 394.0L156.9 391.0L157.0 390.7L157.7 388.0L158.5 385.0L159.2 382.0L159.6 379.0L159.6 376.0L159.3 373.0L158.4 370.0L157.3 367.0L157.0 366.3L155.9 364.0L154.7 361.0L154.0 359.3L153.3 358.0L151.6 355.0L151.0 353.9L149.4 352.0L148.0 350.3L146.2 349.0L145.0 348.1L142.0 346.8L139.0 346.3L136.0 346.6ZM181.0 369.7L180.1 370.0L178.0 370.7L175.0 372.9L174.9 373.0L172.3 376.0L172.0 376.3L170.4 379.0L169.0 381.4L168.7 382.0L167.4 385.0L166.2 388.0L166.0 388.5L165.3 391.0L164.7 394.0L164.5 397.0L164.6 400.0L165.1 403.0L166.0 405.8L166.1 406.0L168.1 409.0L169.0 410.0L172.0 411.7L173.3 412.0L175.0 412.3L178.0 412.1L178.2 412.0L181.0 411.1L184.0 409.3L184.4 409.0L187.0 406.4L187.3 406.0L189.2 403.0L190.0 401.1L190.4 400.0L191.3 397.0L191.9 394.0L192.5 391.0L192.9 388.0L193.0 387.4L193.3 385.0L193.4 382.0L193.3 379.0L193.0 377.6L192.6 376.0L190.9 373.0L190.0 372.0L187.0 370.1L186.5 370.0L184.0 369.5ZM485.1 301.0L487.0 299.1L490.0 298.0L493.0 298.8L495.1 301.0L496.0 303.4L496.2 304.0L496.3 307.0L496.0 308.5L495.0 310.0L493.0 311.0L490.0 310.1L489.9 310.0L487.0 308.0L486.3 307.0L484.8 304.0Z"/><path fill="#ffb035" d="M550.2 325.0L553.0 324.7L556.0 324.7L559.0 324.9L559.5 325.0L562.0 325.3L565.0 325.7L568.0 326.1L571.0 326.5L574.0 327.0L577.0 327.5L580.0 328.0L580.0 328.0L583.0 328.5L586.0 328.9L589.0 329.3L592.0 329.5L595.0 329.7L598.0 329.8L601.0 330.0L604.0 330.2L607.0 330.6L609.2 331.0L610.0 331.1L613.0 331.7L616.0 332.4L619.0 333.1L622.0 333.6L625.0 334.0L625.7 334.0L628.0 334.0L628.4 334.0L631.0 333.7L634.0 332.9L637.0 331.9L639.6 331.0L640.0 330.9L643.0 330.1L646.0 329.7L649.0 329.9L651.7 331.0L652.0 331.2L655.0 333.6L655.4 334.0L658.0 336.6L658.4 337.0L661.0 339.5L661.5 340.0L664.0 342.3L664.9 343.0L667.0 344.6L669.1 346.0L670.0 346.6L673.0 348.2L674.7 349.0L676.0 349.6L679.0 350.8L682.0 351.9L682.3 352.0L685.0 353.0L688.0 354.2L689.9 355.0L691.0 355.5L694.0 357.4L694.8 358.0L697.0 359.9L698.1 361.0L700.0 362.8L701.2 364.0L703.0 365.6L704.7 367.0L706.0 367.9L709.0 369.6L710.2 370.0L712.0 370.6L715.0 371.2L718.0 371.5L721.0 371.4L724.0 371.0L727.0 370.4L728.7 370.0L730.0 369.7L733.0 368.8L736.0 367.5L737.1 367.0L739.0 365.9L741.7 364.0L742.0 363.8L744.9 361.0L745.0 360.9L747.5 358.0L748.0 357.4L750.2 355.0L751.0 354.2L754.0 352.5L755.4 352.0L757.0 351.5L760.0 351.0L763.0 350.8L766.0 350.7L769.0 350.8L772.0 351.4L773.3 352.0L775.0 353.1L776.7 355.0L778.0 356.5L779.0 358.0L781.0 360.3L781.6 361.0L784.0 363.0L785.4 364.0L787.0 365.0L790.0 366.3L792.0 367.0L793.0 367.3L796.0 368.1L799.0 368.7L802.0 369.3L805.0 369.9L805.2 370.0L808.0 370.6L811.0 371.3L814.0 372.1L817.0 373.0L817.2 373.0L820.0 373.9L820.0 376.0L820.0 379.0L820.0 382.0L820.0 385.0L820.0 388.0L820.0 391.0L820.0 391.6L818.4 391.0L817.0 390.5L814.0 389.3L811.0 388.3L810.0 388.0L808.0 387.3L805.0 386.4L802.0 385.6L799.7 385.0L799.0 384.8L796.0 384.1L793.0 383.5L790.0 382.9L787.0 382.3L785.1 382.0L784.0 381.8L781.0 381.3L778.0 380.9L775.0 380.5L772.0 380.2L769.0 379.7L766.0 379.2L765.0 379.0L763.0 378.6L760.0 378.1L757.0 377.9L754.0 378.0L751.0 378.2L748.0 378.6L745.0 378.9L744.4 379.0L742.0 379.2L739.0 379.5L736.0 379.6L733.0 379.8L730.0 380.2L727.0 381.0L724.0 381.9L723.6 382.0L721.0 382.9L718.0 383.8L715.0 384.6L713.3 385.0L712.0 385.3L709.0 386.0L706.0 386.6L703.0 386.8L700.0 386.3L697.0 385.1L696.9 385.0L694.0 383.0L692.7 382.0L691.0 380.7L688.0 379.1L687.6 379.0L685.0 378.3L682.0 377.8L679.0 377.6L676.0 377.7L673.0 378.1L670.0 378.7L668.5 379.0L667.0 379.3L664.0 380.0L661.0 380.7L658.0 381.3L655.0 381.5L652.0 380.9L649.9 379.0L649.9 376.0L650.1 373.0L650.0 370.0L649.1 367.0L649.0 366.9L647.5 364.0L646.0 362.1L645.0 361.0L643.0 359.0L641.6 358.0L640.0 356.9L637.0 355.7L634.0 355.3L631.0 355.5L628.0 355.9L625.0 356.4L622.0 356.9L619.0 357.1L616.0 357.1L613.0 356.7L610.0 355.9L607.7 355.0L607.0 354.8L604.0 353.5L601.0 352.1L600.9 352.0L598.0 350.6L595.0 349.0L595.0 349.0L592.0 347.6L589.0 346.2L588.4 346.0L586.0 345.3L583.0 345.2L580.0 345.6L578.5 346.0L577.0 346.5L574.0 347.5L571.0 348.8L570.5 349.0L568.0 350.2L565.0 351.8L564.7 352.0L562.0 353.6L559.7 355.0L559.0 355.4L556.0 357.2L554.6 358.0L553.0 358.8L550.0 359.9L547.0 360.3L544.0 360.4L541.0 360.4L538.0 360.5L535.0 360.7L533.5 361.0L532.0 361.3L529.0 362.4L526.6 364.0L526.0 364.4L523.5 367.0L523.0 367.5L521.0 370.0L520.0 371.1L518.6 373.0L517.0 375.2L516.5 376.0L514.7 379.0L514.0 380.7L513.4 382.0L512.2 385.0L511.0 388.0L511.0 388.1L509.0 391.0L508.0 392.1L505.6 394.0L505.0 394.5L502.0 396.2L499.9 397.0L499.0 397.4L496.0 398.0L493.0 398.4L490.0 398.4L487.0 398.2L484.0 397.9L481.0 397.5L478.0 397.0L477.7 397.0L475.0 396.6L472.0 396.1L469.0 395.8L466.0 395.4L463.0 395.2L460.0 395.0L457.0 394.9L454.0 394.9L451.0 394.9L448.0 395.0L445.0 395.2L442.0 395.4L439.0 395.7L436.0 395.9L433.0 396.2L430.0 396.6L427.0 396.9L426.0 397.0L424.0 397.2L421.0 397.5L418.0 397.8L415.0 398.0L412.0 398.1L409.0 398.0L406.0 397.8L403.0 397.6L400.0 397.4L397.0 397.4L394.0 397.6L391.0 398.0L388.0 398.6L385.0 399.5L383.7 400.0L382.0 400.6L379.0 402.2L377.7 403.0L376.0 404.1L373.7 406.0L373.0 406.6L370.7 409.0L370.0 409.8L368.4 412.0L367.0 414.2L366.5 415.0L365.0 418.0L364.0 420.5L363.8 421.0L362.8 424.0L362.1 427.0L361.5 430.0L361.0 432.4L360.9 433.0L360.0 436.0L358.5 439.0L358.0 439.7L356.4 442.0L355.0 443.6L353.8 445.0L352.0 447.1L351.2 448.0L349.0 450.7L348.8 451.0L346.4 454.0L346.0 454.5L344.0 457.0L343.0 458.2L341.6 460.0L340.0 461.8L339.0 463.0L337.0 465.0L336.0 466.0L334.0 467.9L332.7 469.0L331.0 470.3L328.7 472.0L328.0 472.5L325.0 474.1L323.4 475.0L322.0 475.6L319.0 476.9L316.8 478.0L316.0 478.3L313.0 480.0L311.7 481.0L310.0 482.1L307.9 484.0L307.0 484.8L305.0 487.0L304.0 488.1L302.4 490.0L301.0 491.6L299.6 493.0L298.0 494.5L295.8 496.0L295.0 496.5L292.0 497.6L289.0 497.9L286.0 497.5L283.0 496.1L282.8 496.0L280.0 493.7L279.3 493.0L277.0 490.1L276.9 490.0L275.1 487.0L274.1 484.0L274.0 483.6L273.5 481.0L273.4 478.0L273.6 475.0L274.0 472.0L274.0 471.9L274.6 469.0L275.4 466.0L276.3 463.0L277.0 461.1L277.4 460.0L278.6 457.0L279.8 454.0L280.0 453.3L280.9 451.0L281.8 448.0L282.6 445.0L283.0 443.0L283.2 442.0L283.6 439.0L283.9 436.0L283.9 433.0L283.6 430.0L283.1 427.0L283.0 426.8L282.1 424.0L280.6 421.0L280.0 420.1L278.1 418.0L277.0 417.0L274.0 415.0L274.0 415.0L271.0 413.6L268.0 412.5L266.1 412.0L265.0 411.7L262.0 411.2L259.0 410.9L256.0 410.7L253.0 410.7L250.0 410.9L247.0 411.2L244.0 411.7L242.5 412.0L241.0 412.3L238.0 413.1L235.0 413.9L232.0 415.0L231.9 415.0L229.0 416.1L226.0 417.4L224.6 418.0L223.0 418.7L220.0 419.9L217.4 421.0L217.0 421.1L214.0 422.4L211.0 423.8L210.6 424.0L208.0 425.3L205.2 427.0L205.0 427.1L202.0 429.0L200.5 430.0L199.0 431.0L196.2 433.0L196.0 433.1L193.0 435.3L192.1 436.0L190.0 437.6L188.0 439.0L187.0 439.7L184.0 441.9L183.9 442.0L181.0 444.2L180.1 445.0L178.0 447.2L177.2 448.0L175.0 450.5L174.5 451.0L172.0 453.3L171.1 454.0L169.0 455.4L166.0 456.9L165.6 457.0L163.0 457.6L160.0 457.7L157.0 457.5L154.0 457.2L152.0 457.0L151.0 456.9L148.0 456.5L145.0 456.3L142.0 456.1L139.0 455.9L136.0 455.8L133.0 455.8L130.0 455.9L127.0 456.0L124.0 456.1L121.0 456.3L118.0 456.5L115.0 456.8L112.0 457.0L112.0 457.0L109.0 457.2L106.0 457.5L103.0 457.7L100.0 458.0L97.0 458.2L94.0 458.4L91.0 458.7L88.0 458.9L85.0 459.1L82.0 459.2L79.0 459.4L76.0 459.6L76.0 457.0L76.0 454.0L76.0 451.0L76.0 448.0L76.0 445.0L76.0 442.0L76.0 439.0L76.0 436.0L76.0 433.0L76.0 430.0L76.0 429.6L77.6 430.0L79.0 430.4L82.0 431.1L85.0 431.9L88.0 432.5L90.1 433.0L91.0 433.2L94.0 433.7L97.0 434.2L100.0 434.6L103.0 435.0L106.0 435.3L109.0 435.5L112.0 435.6L115.0 435.7L118.0 435.7L121.0 435.6L124.0 435.4L127.0 435.1L130.0 434.8L133.0 434.4L136.0 433.9L139.0 433.5L142.0 433.0L142.1 433.0L145.0 432.6L148.0 432.2L151.0 432.1L154.0 432.0L157.0 431.9L160.0 431.7L163.0 431.3L166.0 430.8L169.0 430.1L169.2 430.0L172.0 429.2L175.0 428.3L178.0 427.1L178.3 427.0L181.0 425.8L184.0 424.3L184.5 424.0L187.0 422.5L189.2 421.0L190.0 420.4L192.9 418.0L193.0 417.9L195.9 415.0L196.0 414.8L198.2 412.0L199.0 410.8L200.1 409.0L201.6 406.0L202.0 404.9L202.8 403.0L204.0 400.0L205.0 397.8L205.5 397.0L208.0 394.2L208.2 394.0L211.0 392.0L212.8 391.0L214.0 390.4L217.0 389.1L220.0 388.1L220.5 388.0L223.0 387.4L226.0 386.7L229.0 386.3L232.0 386.1L235.0 386.1L238.0 386.3L241.0 386.6L244.0 387.1L247.0 387.7L248.3 388.0L250.0 388.4L253.0 389.0L256.0 389.6L259.0 390.1L262.0 390.6L264.9 391.0L265.0 391.0L268.0 391.5L271.0 392.0L274.0 392.5L277.0 393.2L280.0 394.0L280.0 394.0L283.0 395.0L286.0 396.1L287.9 397.0L289.0 397.5L292.0 399.3L293.1 400.0L295.0 401.4L296.9 403.0L298.0 404.2L299.6 406.0L301.0 408.0L301.6 409.0L303.1 412.0L304.0 414.7L304.1 415.0L304.7 418.0L305.0 421.0L304.9 424.0L304.5 427.0L304.0 429.2L303.8 430.0L303.0 433.0L301.8 436.0L301.0 437.5L300.3 439.0L298.7 442.0L298.0 443.0L296.9 445.0L295.0 447.6L294.8 448.0L292.7 451.0L292.0 451.8L290.5 454.0L289.0 455.9L288.3 457.0L286.2 460.0L286.0 460.2L284.3 463.0L283.0 465.1L282.5 466.0L281.1 469.0L280.0 471.6L279.8 472.0L278.9 475.0L278.4 478.0L278.3 481.0L278.7 484.0L279.9 487.0L280.0 487.2L281.9 490.0L283.0 491.1L285.8 493.0L286.0 493.1L289.0 493.9L292.0 493.6L293.5 493.0L295.0 492.4L298.0 490.0L298.0 490.0L300.6 487.0L301.0 486.5L302.8 484.0L304.0 482.3L305.0 481.0L307.0 478.3L307.3 478.0L309.8 475.0L310.0 474.7L312.6 472.0L313.0 471.5L315.6 469.0L316.0 468.6L318.7 466.0L319.0 465.6L321.6 463.0L322.0 462.5L324.2 460.0L325.0 459.0L326.6 457.0L328.0 455.0L328.8 454.0L330.9 451.0L331.0 450.8L332.8 448.0L334.0 446.2L334.8 445.0L336.7 442.0L337.0 441.5L338.5 439.0L340.0 436.5L340.3 436.0L341.8 433.0L343.0 430.5L343.2 430.0L344.3 427.0L345.3 424.0L346.0 422.0L346.3 421.0L347.2 418.0L348.2 415.0L349.0 413.2L349.4 412.0L350.8 409.0L352.0 406.9L352.5 406.0L354.5 403.0L355.0 402.4L356.9 400.0L358.0 398.8L359.8 397.0L361.0 395.9L363.1 394.0L364.0 393.3L367.0 391.0L367.1 391.0L370.0 389.1L371.8 388.0L373.0 387.3L376.0 385.8L377.8 385.0L379.0 384.4L382.0 383.2L385.0 382.1L385.4 382.0L388.0 381.1L391.0 380.2L394.0 379.4L395.4 379.0L397.0 378.5L400.0 377.8L403.0 377.0L406.0 376.3L407.8 376.0L409.0 375.8L412.0 375.4L415.0 375.4L418.0 375.4L421.0 375.6L424.0 375.9L425.2 376.0L427.0 376.2L430.0 376.5L433.0 376.8L436.0 377.1L439.0 377.5L442.0 377.8L445.0 378.1L448.0 378.3L451.0 378.6L454.0 378.9L455.0 379.0L457.0 379.2L460.0 379.5L463.0 379.8L466.0 380.2L469.0 380.6L472.0 381.0L475.0 381.4L478.0 381.8L480.2 382.0L481.0 382.1L484.0 382.3L487.0 382.4L490.0 382.2L491.3 382.0L493.0 381.7L496.0 380.6L498.8 379.0L499.0 378.9L502.0 376.1L502.1 376.0L504.6 373.0L505.0 372.5L506.8 370.0L508.0 368.4L508.8 367.0L510.1 364.0L510.5 361.0L510.6 358.0L510.8 355.0L511.0 354.4L511.6 352.0L513.4 349.0L514.0 348.4L517.0 346.2L517.4 346.0L520.0 344.7L523.0 343.5L524.1 343.0L526.0 342.1L529.0 340.5L529.9 340.0L532.0 338.5L534.1 337.0L535.0 336.2L537.5 334.0L538.0 333.5L540.6 331.0L541.0 330.6L544.0 328.0L544.0 328.0L547.0 326.0L550.0 325.0ZM130.8 349.0L133.0 347.6L136.0 346.6L139.0 346.3L142.0 346.8L145.0 348.1L146.2 349.0L148.0 350.3L149.4 352.0L151.0 353.9L151.6 355.0L153.3 358.0L154.0 359.3L154.7 361.0L155.9 364.0L157.0 366.3L157.3 367.0L158.4 370.0L159.3 373.0L159.6 376.0L159.6 379.0L159.2 382.0L158.5 385.0L157.7 388.0L157.0 390.7L156.9 391.0L156.1 394.0L155.4 397.0L154.8 400.0L154.0 402.6L153.8 403.0L152.0 406.0L151.0 407.5L148.2 409.0L148.0 409.1L146.9 409.0L145.0 408.8L142.0 406.4L141.7 406.0L139.7 403.0L139.0 401.8L138.2 400.0L136.9 397.0L136.0 394.8L135.7 394.0L134.8 391.0L134.0 388.0L133.2 385.0L133.0 384.3L132.1 382.0L130.8 379.0L130.0 377.2L129.3 376.0L128.0 373.0L127.0 370.2L126.9 370.0L126.0 367.0L125.5 364.0L125.3 361.0L125.6 358.0L126.4 355.0L127.0 353.6L127.9 352.0L130.0 349.6Z"/><path fill="#ffa226" d="M578.5 346.0L580.0 345.6L583.0 345.2L586.0 345.3L588.4 346.0L589.0 346.2L592.0 347.6L595.0 349.0L595.0 349.0L598.0 350.6L600.9 352.0L601.0 352.1L604.0 353.5L607.0 354.8L607.7 355.0L610.0 355.9L613.0 356.7L616.0 357.1L619.0 357.1L622.0 356.9L625.0 356.4L628.0 355.9L631.0 355.5L634.0 355.3L637.0 355.7L640.0 356.9L641.6 358.0L643.0 359.0L645.0 361.0L646.0 362.1L647.5 364.0L649.0 366.9L649.1 367.0L650.0 370.0L650.1 373.0L649.9 376.0L649.9 379.0L652.0 380.9L655.0 381.5L658.0 381.3L661.0 380.7L664.0 380.0L667.0 379.3L668.5 379.0L670.0 378.7L673.0 378.1L676.0 377.7L679.0 377.6L682.0 377.8L685.0 378.3L687.6 379.0L688.0 379.1L691.0 380.7L692.7 382.0L694.0 383.0L696.9 385.0L697.0 385.1L700.0 386.3L703.0 386.8L706.0 386.6L709.0 386.0L712.0 385.3L713.3 385.0L715.0 384.6L718.0 383.8L721.0 382.9L723.6 382.0L724.0 381.9L727.0 381.0L730.0 380.2L733.0 379.8L736.0 379.6L739.0 379.5L742.0 379.2L744.4 379.0L745.0 378.9L748.0 378.6L751.0 378.2L754.0 378.0L757.0 377.9L760.0 378.1L763.0 378.6L765.0 379.0L766.0 379.2L769.0 379.7L772.0 380.2L775.0 380.5L778.0 380.9L781.0 381.3L784.0 381.8L785.1 382.0L787.0 382.3L790.0 382.9L793.0 383.5L796.0 384.1L799.0 384.8L799.7 385.0L802.0 385.6L805.0 386.4L808.0 387.3L810.0 388.0L811.0 388.3L814.0 389.3L817.0 390.5L818.4 391.0L820.0 391.6L820.0 394.0L820.0 397.0L820.0 400.0L820.0 403.0L820.0 406.0L820.0 409.0L820.0 410.4L817.5 409.0L817.0 408.7L814.0 407.1L812.0 406.0L811.0 405.5L808.0 403.9L806.4 403.0L805.0 402.3L802.0 400.9L799.9 400.0L799.0 399.7L796.0 398.7L793.0 397.8L790.0 397.1L789.6 397.0L787.0 396.4L784.0 395.9L781.0 395.5L778.0 395.1L775.0 395.0L772.0 394.9L769.0 395.1L766.0 395.5L763.0 396.2L761.0 397.0L760.0 397.4L757.0 399.0L755.7 400.0L754.0 401.4L752.2 403.0L751.0 404.0L748.0 405.7L745.9 406.0L745.0 406.1L743.7 406.0L742.0 405.8L739.0 404.9L736.0 403.5L734.9 403.0L733.0 402.0L730.0 400.6L728.4 400.0L727.0 399.5L724.0 398.7L721.0 398.2L718.0 398.0L715.0 398.0L712.0 398.1L709.0 398.4L706.0 398.9L703.0 399.4L700.0 399.9L697.0 399.4L694.0 398.7L691.0 398.2L688.0 397.9L685.0 397.8L682.0 397.9L679.0 398.3L676.0 398.9L673.0 399.6L671.2 400.0L670.0 400.3L667.0 400.9L664.0 401.3L661.0 401.4L658.0 401.3L655.0 400.9L652.0 400.4L650.4 400.0L649.0 399.6L646.0 398.7L643.0 398.1L640.0 398.1L637.0 398.6L634.0 399.8L633.7 400.0L631.0 401.4L628.3 403.0L628.0 403.2L625.0 404.5L622.0 405.3L619.0 405.6L616.0 405.6L613.0 405.2L610.0 404.5L607.0 403.4L606.0 403.0L604.0 401.9L601.0 400.0L601.0 400.0L598.0 397.4L597.6 397.0L595.2 394.0L595.0 393.8L593.2 391.0L592.0 388.8L591.5 388.0L589.8 385.0L589.0 383.8L587.7 382.0L586.0 380.2L584.6 379.0L583.0 377.9L580.0 376.6L577.6 376.0L577.0 375.9L574.0 375.7L571.7 376.0L571.0 376.1L568.0 377.0L565.0 378.3L563.7 379.0L562.0 380.0L559.0 381.8L558.6 382.0L556.0 383.4L553.0 384.5L550.0 385.0L547.0 384.7L544.0 384.1L541.0 383.4L538.0 382.8L535.0 382.5L532.0 382.7L529.0 383.4L526.0 385.0L526.0 385.0L523.0 387.9L522.9 388.0L520.6 391.0L520.0 391.7L518.3 394.0L517.0 395.6L516.0 397.0L514.0 399.8L513.8 400.0L511.8 403.0L511.0 404.1L509.4 406.0L508.0 407.5L505.9 409.0L505.0 409.5L502.0 410.5L499.0 411.1L496.0 411.2L493.0 411.2L490.0 411.0L487.0 410.7L484.0 410.2L481.0 409.8L478.0 409.3L476.3 409.0L475.0 408.8L472.0 408.4L469.0 408.1L466.0 408.0L463.0 408.0L460.0 408.1L457.0 408.3L454.0 408.6L451.2 409.0L451.0 409.0L448.0 409.5L445.0 410.1L442.0 410.6L439.0 411.2L436.0 411.7L434.1 412.0L433.0 412.2L430.0 412.5L427.0 412.7L424.0 412.7L421.0 412.6L418.0 412.4L415.0 412.1L414.2 412.0L412.0 411.7L409.0 411.3L406.0 410.9L403.0 410.6L400.0 410.4L397.0 410.3L394.0 410.4L391.0 410.7L388.0 411.4L386.4 412.0L385.0 412.5L382.0 414.0L380.6 415.0L379.0 416.2L377.1 418.0L376.0 419.2L374.6 421.0L373.0 423.7L372.8 424.0L371.5 427.0L370.7 430.0L370.3 433.0L370.2 436.0L370.1 439.0L370.0 439.3L369.0 442.0L367.0 445.0L367.0 445.0L364.2 448.0L364.0 448.2L361.2 451.0L361.0 451.3L358.5 454.0L358.0 454.7L356.1 457.0L355.0 458.6L353.9 460.0L352.0 462.7L351.8 463.0L349.4 466.0L349.0 466.5L346.7 469.0L346.0 469.6L343.3 472.0L343.0 472.2L340.0 474.5L339.4 475.0L337.0 476.7L335.2 478.0L334.0 478.8L331.0 480.6L330.1 481.0L328.0 481.8L325.0 482.5L322.0 482.9L319.0 483.5L317.3 484.0L316.0 484.3L313.0 485.5L310.4 487.0L310.0 487.2L307.0 489.7L306.8 490.0L304.2 493.0L304.0 493.2L301.6 496.0L301.0 496.6L298.2 499.0L298.0 499.1L295.0 500.9L292.0 501.9L291.4 502.0L289.0 502.4L286.0 502.2L285.0 502.0L283.0 501.5L280.0 500.0L278.7 499.0L277.0 497.5L275.6 496.0L274.0 494.1L272.9 493.0L271.0 490.5L270.6 490.0L269.1 487.0L268.3 484.0L268.0 481.4L267.9 481.0L267.8 478.0L267.8 475.0L267.8 472.0L267.9 469.0L268.0 467.0L268.0 466.0L268.2 463.0L268.5 460.0L268.9 457.0L269.4 454.0L269.8 451.0L269.6 448.0L268.6 445.0L268.0 443.9L266.4 442.0L265.0 440.7L262.0 439.4L259.0 439.2L256.0 439.8L253.0 441.1L251.6 442.0L250.0 443.0L247.5 445.0L247.0 445.4L244.0 447.7L243.6 448.0L241.0 449.4L238.0 450.0L235.0 449.7L232.0 449.0L229.0 448.1L228.7 448.0L226.0 447.0L223.0 446.0L220.0 445.1L219.4 445.0L217.0 444.5L214.0 444.3L211.0 444.7L210.4 445.0L208.0 446.7L206.7 448.0L205.0 450.3L204.5 451.0L202.8 454.0L202.0 455.5L201.2 457.0L199.4 460.0L199.0 460.5L197.0 463.0L196.0 463.9L193.0 465.8L192.5 466.0L190.0 466.6L187.0 467.0L184.0 467.4L181.0 467.7L178.0 468.1L175.0 468.5L172.0 468.9L171.1 469.0L169.0 469.2L166.0 469.4L163.0 469.5L160.0 469.3L157.0 469.2L154.0 469.0L153.6 469.0L151.0 468.9L148.0 468.9L145.0 468.9L143.9 469.0L142.0 469.1L139.0 469.3L136.0 469.7L133.0 470.1L130.0 470.5L127.0 471.1L124.0 471.7L122.6 472.0L121.0 472.3L118.0 473.0L115.0 473.8L112.0 474.5L110.2 475.0L109.0 475.3L106.0 476.1L103.0 477.0L100.0 477.8L99.3 478.0L97.0 478.7L94.0 479.5L91.0 480.4L88.7 481.0L88.0 481.2L85.0 482.1L82.0 482.9L79.0 483.8L78.2 484.0L76.0 484.6L76.0 484.0L76.0 481.0L76.0 478.0L76.0 475.0L76.0 472.0L76.0 469.0L76.0 466.0L76.0 463.0L76.0 460.0L76.0 459.6L79.0 459.4L82.0 459.2L85.0 459.1L88.0 458.9L91.0 458.7L94.0 458.4L97.0 458.2L100.0 458.0L103.0 457.7L106.0 457.5L109.0 457.2L112.0 457.0L112.0 457.0L115.0 456.8L118.0 456.5L121.0 456.3L124.0 456.1L127.0 456.0L130.0 455.9L133.0 455.8L136.0 455.8L139.0 455.9L142.0 456.1L145.0 456.3L148.0 456.5L151.0 456.9L152.0 457.0L154.0 457.2L157.0 457.5L160.0 457.7L163.0 457.6L165.6 457.0L166.0 456.9L169.0 455.4L171.1 454.0L172.0 453.3L174.5 451.0L175.0 450.5L177.2 448.0L178.0 447.2L180.1 445.0L181.0 444.2L183.9 442.0L184.0 441.9L187.0 439.7L188.0 439.0L190.0 437.6L192.1 436.0L193.0 435.3L196.0 433.1L196.2 433.0L199.0 431.0L200.5 430.0L202.0 429.0L205.0 427.1L205.2 427.0L208.0 425.3L210.6 424.0L211.0 423.8L214.0 422.4L217.0 421.1L217.4 421.0L220.0 419.9L223.0 418.7L224.6 418.0L226.0 417.4L229.0 416.1L231.9 415.0L232.0 415.0L235.0 413.9L238.0 413.1L241.0 412.3L242.5 412.0L244.0 411.7L247.0 411.2L250.0 410.9L253.0 410.7L256.0 410.7L259.0 410.9L262.0 411.2L265.0 411.7L266.1 412.0L268.0 412.5L271.0 413.6L274.0 415.0L274.0 415.0L277.0 417.0L278.1 418.0L280.0 420.1L280.6 421.0L282.1 424.0L283.0 426.8L283.1 427.0L283.6 430.0L283.9 433.0L283.9 436.0L283.6 439.0L283.2 442.0L283.0 443.0L282.6 445.0L281.8 448.0L280.9 451.0L280.0 453.3L279.8 454.0L278.6 457.0L277.4 460.0L277.0 461.1L276.3 463.0L275.4 466.0L274.6 469.0L274.0 471.9L274.0 472.0L273.6 475.0L273.4 478.0L273.5 481.0L274.0 483.6L274.1 484.0L275.1 487.0L276.9 490.0L277.0 490.1L279.3 493.0L280.0 493.7L282.8 496.0L283.0 496.1L286.0 497.5L289.0 497.9L292.0 497.6L295.0 496.5L295.8 496.0L298.0 494.5L299.6 493.0L301.0 491.6L302.4 490.0L304.0 488.1L305.0 487.0L307.0 484.8L307.9 484.0L310.0 482.1L311.7 481.0L313.0 480.0L316.0 478.3L316.8 478.0L319.0 476.9L322.0 475.6L323.4 475.0L325.0 474.1L328.0 472.5L328.7 472.0L331.0 470.3L332.7 469.0L334.0 467.9L336.0 466.0L337.0 465.0L339.0 463.0L340.0 461.8L341.6 460.0L343.0 458.2L344.0 457.0L346.0 454.5L346.4 454.0L348.8 451.0L349.0 450.7L351.2 448.0L352.0 447.1L353.8 445.0L355.0 443.6L356.4 442.0L358.0 439.7L358.5 439.0L360.0 436.0L360.9 433.0L361.0 432.4L361.5 430.0L362.1 427.0L362.8 424.0L363.8 421.0L364.0 420.5L365.0 418.0L366.5 415.0L367.0 414.2L368.4 412.0L370.0 409.8L370.7 409.0L373.0 406.6L373.7 406.0L376.0 404.1L377.7 403.0L379.0 402.2L382.0 400.6L383.7 400.0L385.0 399.5L388.0 398.6L391.0 398.0L394.0 397.6L397.0 397.4L400.0 397.4L403.0 397.6L406.0 397.8L409.0 398.0L412.0 398.1L415.0 398.0L418.0 397.8L421.0 397.5L424.0 397.2L426.0 397.0L427.0 396.9L430.0 396.6L433.0 396.2L436.0 395.9L439.0 395.7L442.0 395.4L445.0 395.2L448.0 395.0L451.0 394.9L454.0 394.9L457.0 394.9L460.0 395.0L463.0 395.2L466.0 395.4L469.0 395.8L472.0 396.1L475.0 396.6L477.7 397.0L478.0 397.0L481.0 397.5L484.0 397.9L487.0 398.2L490.0 398.4L493.0 398.4L496.0 398.0L499.0 397.4L499.9 397.0L502.0 396.2L505.0 394.5L505.6 394.0L508.0 392.1L509.0 391.0L511.0 388.1L511.0 388.0L512.2 385.0L513.4 382.0L514.0 380.7L514.7 379.0L516.5 376.0L517.0 375.2L518.6 373.0L520.0 371.1L521.0 370.0L523.0 367.5L523.5 367.0L526.0 364.4L526.6 364.0L529.0 362.4L532.0 361.3L533.5 361.0L535.0 360.7L538.0 360.5L541.0 360.4L544.0 360.4L547.0 360.3L550.0 359.9L553.0 358.8L554.6 358.0L556.0 357.2L559.0 355.4L559.7 355.0L562.0 353.6L564.7 352.0L565.0 351.8L568.0 350.2L570.5 349.0L571.0 348.8L574.0 347.5L577.0 346.5Z"/><path fill="#ff9419" d="M571.7 376.0L574.0 375.7L577.0 375.9L577.6 376.0L580.0 376.6L583.0 377.9L584.6 379.0L586.0 380.2L587.7 382.0L589.0 383.8L589.8 385.0L591.5 388.0L592.0 388.8L593.2 391.0L595.0 393.8L595.2 394.0L597.6 397.0L598.0 397.4L601.0 400.0L601.0 400.0L604.0 401.9L606.0 403.0L607.0 403.4L610.0 404.5L613.0 405.2L616.0 405.6L619.0 405.6L622.0 405.3L625.0 404.5L628.0 403.2L628.3 403.0L631.0 401.4L633.7 400.0L634.0 399.8L637.0 398.6L640.0 398.1L643.0 398.1L646.0 398.7L649.0 399.6L650.4 400.0L652.0 400.4L655.0 400.9L658.0 401.3L661.0 401.4L664.0 401.3L667.0 400.9L670.0 400.3L671.2 400.0L673.0 399.6L676.0 398.9L679.0 398.3L682.0 397.9L685.0 397.8L688.0 397.9L691.0 398.2L694.0 398.7L697.0 399.4L700.0 399.9L703.0 399.4L706.0 398.9L709.0 398.4L712.0 398.1L715.0 398.0L718.0 398.0L721.0 398.2L724.0 398.7L727.0 399.5L728.4 400.0L730.0 400.6L733.0 402.0L734.9 403.0L736.0 403.5L739.0 404.9L742.0 405.8L743.7 406.0L745.0 406.1L745.9 406.0L748.0 405.7L751.0 404.0L752.2 403.0L754.0 401.4L755.7 400.0L757.0 399.0L760.0 397.4L761.0 397.0L763.0 396.2L766.0 395.5L769.0 395.1L772.0 394.9L775.0 395.0L778.0 395.1L781.0 395.5L784.0 395.9L787.0 396.4L789.6 397.0L790.0 397.1L793.0 397.8L796.0 398.7L799.0 399.7L799.9 400.0L802.0 400.9L805.0 402.3L806.4 403.0L808.0 403.9L811.0 405.5L812.0 406.0L814.0 407.1L817.0 408.7L817.5 409.0L820.0 410.4L820.0 412.0L820.0 415.0L820.0 418.0L820.0 421.0L820.0 424.0L820.0 427.0L820.0 430.0L820.0 432.5L817.0 430.4L816.5 430.0L814.0 428.4L811.8 427.0L811.0 426.5L808.0 424.7L806.9 424.0L805.0 422.9L802.0 421.2L801.7 421.0L799.0 419.3L797.1 418.0L796.0 417.2L793.0 415.2L792.6 415.0L790.0 413.5L787.1 412.0L787.0 411.9L784.0 410.7L781.0 409.6L778.7 409.0L778.0 408.8L775.0 408.3L772.0 407.9L769.0 407.8L766.0 408.1L763.0 408.7L762.4 409.0L760.0 410.2L758.0 412.0L757.0 413.1L755.2 415.0L754.0 416.3L752.1 418.0L751.0 419.0L748.1 421.0L748.0 421.1L745.0 422.3L742.0 422.7L739.0 422.5L736.0 421.7L734.1 421.0L733.0 420.6L730.0 419.1L728.2 418.0L727.0 417.2L724.0 415.1L723.8 415.0L721.0 412.9L720.0 412.0L718.0 410.6L715.7 409.0L715.0 408.6L712.0 407.1L709.3 406.0L709.0 405.9L706.0 405.2L703.0 404.8L700.0 404.7L697.0 404.8L694.0 405.2L691.0 405.9L690.8 406.0L688.0 407.2L685.0 408.8L684.6 409.0L682.0 410.9L680.4 412.0L679.0 413.2L676.5 415.0L676.0 415.4L673.0 417.4L671.8 418.0L670.0 419.0L667.0 420.3L664.0 421.0L661.0 420.8L658.0 419.3L657.0 418.0L655.0 416.0L654.3 415.0L652.0 412.6L651.6 412.0L649.0 409.8L648.1 409.0L646.0 407.8L643.0 406.4L640.0 406.0L640.0 406.0L640.0 406.0L637.0 406.6L634.0 407.9L632.0 409.0L631.0 409.6L628.0 411.3L626.4 412.0L625.0 412.7L622.0 413.8L619.0 414.7L617.5 415.0L616.0 415.3L613.0 415.8L610.0 416.1L607.0 416.3L604.0 416.3L601.0 416.3L598.0 416.1L595.0 415.9L592.0 415.7L589.0 415.4L586.0 415.1L584.6 415.0L583.0 414.9L580.0 414.7L577.0 414.5L574.0 414.3L571.0 414.2L568.0 414.0L565.0 413.7L562.0 413.3L559.0 412.8L556.0 412.3L554.1 412.0L553.0 411.8L550.0 411.2L547.0 410.5L544.0 409.6L542.0 409.0L541.0 408.6L538.0 407.7L535.0 407.0L532.0 406.8L529.0 407.3L526.0 408.9L525.9 409.0L523.0 411.6L522.7 412.0L520.0 414.7L519.7 415.0L517.0 417.3L516.1 418.0L514.0 419.3L511.0 420.7L510.1 421.0L508.0 421.7L505.0 422.2L502.0 422.6L499.0 422.7L496.0 422.8L493.0 422.7L490.0 422.6L487.0 422.3L484.0 422.0L481.0 421.7L478.0 421.2L476.9 421.0L475.0 420.7L472.0 420.2L469.0 420.0L466.0 420.1L463.0 420.4L460.0 420.8L459.0 421.0L457.0 421.4L454.0 422.1L451.0 422.8L448.0 423.7L447.2 424.0L445.0 424.7L442.0 425.7L439.0 426.8L438.3 427.0L436.0 427.8L433.0 428.6L430.0 429.1L427.0 429.1L424.0 428.8L421.0 428.2L418.0 427.5L416.1 427.0L415.0 426.7L412.0 425.8L409.0 424.9L406.0 424.0L405.9 424.0L403.0 423.3L400.0 422.6L397.0 422.1L394.0 422.0L391.0 422.1L388.0 422.7L385.0 423.8L384.7 424.0L382.0 425.6L380.6 427.0L379.0 428.7L378.2 430.0L377.0 433.0L376.4 436.0L376.4 439.0L376.2 442.0L376.0 442.8L375.5 445.0L374.2 448.0L373.0 449.8L372.1 451.0L370.0 453.3L369.3 454.0L367.0 456.4L366.5 457.0L364.3 460.0L364.0 460.6L362.6 463.0L361.0 465.7L360.8 466.0L358.9 469.0L358.0 470.1L356.4 472.0L355.0 473.3L353.1 475.0L352.0 475.7L349.0 477.7L348.5 478.0L346.0 479.4L343.4 481.0L343.0 481.2L340.0 483.0L338.3 484.0L337.0 484.8L334.0 486.5L332.8 487.0L331.0 487.8L328.0 488.5L325.0 488.8L322.0 489.0L319.0 489.2L316.0 489.7L314.8 490.0L313.0 490.5L310.0 492.2L309.2 493.0L307.0 495.6L306.7 496.0L304.3 499.0L304.0 499.3L301.3 502.0L301.0 502.2L298.0 504.4L296.8 505.0L295.0 506.0L292.0 507.0L289.0 507.6L286.0 507.8L283.0 507.7L280.0 507.3L277.0 506.7L274.0 505.9L271.0 505.2L268.0 505.0L265.0 505.5L262.0 506.8L260.2 508.0L259.0 508.5L256.0 509.5L253.0 508.9L251.4 508.0L250.0 505.8L249.5 505.0L249.9 502.0L250.0 501.8L252.2 499.0L253.0 498.2L255.2 496.0L256.0 495.1L257.2 493.0L258.2 490.0L258.9 487.0L259.0 486.2L259.3 484.0L259.6 481.0L259.8 478.0L259.8 475.0L259.1 472.0L259.0 471.7L257.3 469.0L256.0 467.3L253.8 466.0L253.0 465.6L250.0 465.2L247.0 465.4L244.0 465.9L243.6 466.0L241.0 466.6L238.0 467.4L235.0 468.3L232.7 469.0L232.0 469.2L229.0 470.5L226.1 472.0L226.0 472.0L223.0 473.9L221.4 475.0L220.0 475.9L217.0 477.8L216.6 478.0L214.0 479.3L211.0 480.5L209.4 481.0L208.0 481.4L205.0 481.9L202.0 482.2L199.0 482.3L196.0 482.1L193.0 481.7L190.0 481.2L189.4 481.0L187.0 480.5L184.0 479.7L181.0 479.0L178.0 478.4L176.0 478.0L175.0 477.8L172.0 477.4L169.0 477.2L166.0 477.1L163.0 477.1L160.0 477.2L157.0 477.4L154.0 477.7L152.0 478.0L151.0 478.2L148.0 478.8L145.0 479.5L142.0 480.3L139.9 481.0L139.0 481.3L136.0 482.4L133.0 483.5L131.8 484.0L130.0 484.8L127.0 486.1L124.9 487.0L124.0 487.4L121.0 488.9L118.7 490.0L118.0 490.3L115.0 491.9L112.7 493.0L112.0 493.4L109.0 495.0L107.0 496.0L106.0 496.6L103.0 498.2L101.4 499.0L100.0 499.8L97.0 501.4L95.9 502.0L94.0 503.0L91.0 504.7L90.4 505.0L88.0 506.3L85.0 507.9L84.9 508.0L82.0 509.6L79.4 511.0L79.0 511.2L76.0 512.8L76.0 511.0L76.0 508.0L76.0 505.0L76.0 502.0L76.0 499.0L76.0 496.0L76.0 493.0L76.0 490.0L76.0 487.0L76.0 484.6L78.2 484.0L79.0 483.8L82.0 482.9L85.0 482.1L88.0 481.2L88.7 481.0L91.0 480.4L94.0 479.5L97.0 478.7L99.3 478.0L100.0 477.8L103.0 477.0L106.0 476.1L109.0 475.3L110.2 475.0L112.0 474.5L115.0 473.8L118.0 473.0L121.0 472.3L122.6 472.0L124.0 471.7L127.0 471.1L130.0 470.5L133.0 470.1L136.0 469.7L139.0 469.3L142.0 469.1L143.9 469.0L145.0 468.9L148.0 468.9L151.0 468.9L153.6 469.0L154.0 469.0L157.0 469.2L160.0 469.3L163.0 469.5L166.0 469.4L169.0 469.2L171.1 469.0L172.0 468.9L175.0 468.5L178.0 468.1L181.0 467.7L184.0 467.4L187.0 467.0L190.0 466.6L192.5 466.0L193.0 465.8L196.0 463.9L197.0 463.0L199.0 460.5L199.4 460.0L201.2 457.0L202.0 455.5L202.8 454.0L204.5 451.0L205.0 450.3L206.7 448.0L208.0 446.7L210.4 445.0L211.0 444.7L214.0 444.3L217.0 444.5L219.4 445.0L220.0 445.1L223.0 446.0L226.0 447.0L228.7 448.0L229.0 448.1L232.0 449.0L235.0 449.7L238.0 450.0L241.0 449.4L243.6 448.0L244.0 447.7L247.0 445.4L247.5 445.0L250.0 443.0L251.6 442.0L253.0 441.1L256.0 439.8L259.0 439.2L262.0 439.4L265.0 440.7L266.4 442.0L268.0 443.9L268.6 445.0L269.6 448.0L269.8 451.0L269.4 454.0L268.9 457.0L268.5 460.0L268.2 463.0L268.0 466.0L268.0 467.0L267.9 469.0L267.8 472.0L267.8 475.0L267.8 478.0L267.9 481.0L268.0 481.4L268.3 484.0L269.1 487.0L270.6 490.0L271.0 490.5L272.9 493.0L274.0 494.1L275.6 496.0L277.0 497.5L278.7 499.0L280.0 500.0L283.0 501.5L285.0 502.0L286.0 502.2L289.0 502.4L291.4 502.0L292.0 501.9L295.0 500.9L298.0 499.1L298.2 499.0L301.0 496.6L301.6 496.0L304.0 493.2L304.2 493.0L306.8 490.0L307.0 489.7L310.0 487.2L310.4 487.0L313.0 485.5L316.0 484.3L317.3 484.0L319.0 483.5L322.0 482.9L325.0 482.5L328.0 481.8L330.1 481.0L331.0 480.6L334.0 478.8L335.2 478.0L337.0 476.7L339.4 475.0L340.0 474.5L343.0 472.2L343.3 472.0L346.0 469.6L346.7 469.0L349.0 466.5L349.4 466.0L351.8 463.0L352.0 462.7L353.9 460.0L355.0 458.6L356.1 457.0L358.0 454.7L358.5 454.0L361.0 451.3L361.2 451.0L364.0 448.2L364.2 448.0L367.0 445.0L367.0 445.0L369.0 442.0L370.0 439.3L370.1 439.0L370.2 436.0L370.3 433.0L370.7 430.0L371.5 427.0L372.8 424.0L373.0 423.7L374.6 421.0L376.0 419.2L377.1 418.0L379.0 416.2L380.6 415.0L382.0 414.0L385.0 412.5L386.4 412.0L388.0 411.4L391.0 410.7L394.0 410.4L397.0 410.3L400.0 410.4L403.0 410.6L406.0 410.9L409.0 411.3L412.0 411.7L414.2 412.0L415.0 412.1L418.0 412.4L421.0 412.6L424.0 412.7L427.0 412.7L430.0 412.5L433.0 412.2L434.1 412.0L436.0 411.7L439.0 411.2L442.0 410.6L445.0 410.1L448.0 409.5L451.0 409.0L451.2 409.0L454.0 408.6L457.0 408.3L460.0 408.1L463.0 408.0L466.0 408.0L469.0 408.1L472.0 408.4L475.0 408.8L476.3 409.0L478.0 409.3L481.0 409.8L484.0 410.2L487.0 410.7L490.0 411.0L493.0 411.2L496.0 411.2L499.0 411.1L502.0 410.5L505.0 409.5L505.9 409.0L508.0 407.5L509.4 406.0L511.0 404.1L511.8 403.0L513.8 400.0L514.0 399.8L516.0 397.0L517.0 395.6L518.3 394.0L520.0 391.7L520.6 391.0L522.9 388.0L523.0 387.9L526.0 385.0L526.0 385.0L529.0 383.4L532.0 382.7L535.0 382.5L538.0 382.8L541.0 383.4L544.0 384.1L547.0 384.7L550.0 385.0L553.0 384.5L556.0 383.4L558.6 382.0L559.0 381.8L562.0 380.0L563.7 379.0L565.0 378.3L568.0 377.0L571.0 376.1Z"/><path fill="#ff8405" d="M640.0 406.0L640.0 406.0L640.0 406.0L643.0 406.4L646.0 407.8L648.1 409.0L649.0 409.8L651.6 412.0L652.0 412.6L654.3 415.0L655.0 416.0L657.0 418.0L658.0 419.3L661.0 420.8L664.0 421.0L667.0 420.3L670.0 419.0L671.8 418.0L673.0 417.4L676.0 415.4L676.5 415.0L679.0 413.2L680.4 412.0L682.0 410.9L684.6 409.0L685.0 408.8L688.0 407.2L690.8 406.0L691.0 405.9L694.0 405.2L697.0 404.8L700.0 404.7L703.0 404.8L706.0 405.2L709.0 405.9L709.3 406.0L712.0 407.1L715.0 408.6L715.7 409.0L718.0 410.6L720.0 412.0L721.0 412.9L723.8 415.0L724.0 415.1L727.0 417.2L728.2 418.0L730.0 419.1L733.0 420.6L734.1 421.0L736.0 421.7L739.0 422.5L742.0 422.7L745.0 422.3L748.0 421.1L748.1 421.0L751.0 419.0L752.1 418.0L754.0 416.3L755.2 415.0L757.0 413.1L758.0 412.0L760.0 410.2L762.4 409.0L763.0 408.7L766.0 408.1L769.0 407.8L772.0 407.9L775.0 408.3L778.0 408.8L778.7 409.0L781.0 409.6L784.0 410.7L787.0 411.9L787.1 412.0L790.0 413.5L792.6 415.0L793.0 415.2L796.0 417.2L797.1 418.0L799.0 419.3L801.7 421.0L802.0 421.2L805.0 422.9L806.9 424.0L808.0 424.7L811.0 426.5L811.8 427.0L814.0 428.4L816.5 430.0L817.0 430.4L820.0 432.5L820.0 433.0L820.0 436.0L820.0 439.0L820.0 442.0L820.0 445.0L820.0 448.0L820.0 451.0L820.0 454.0L820.0 457.0L820.0 460.0L820.0 463.0L820.0 466.0L820.0 469.0L820.0 469.5L819.8 469.0L818.3 466.0L817.0 463.5L816.8 463.0L815.0 460.0L814.0 458.3L813.2 457.0L811.1 454.0L811.0 453.9L808.8 451.0L808.0 450.0L806.3 448.0L805.0 446.7L803.4 445.0L802.0 443.7L800.2 442.0L799.0 441.0L796.6 439.0L796.0 438.5L793.0 436.2L792.8 436.0L790.0 434.0L788.6 433.0L787.0 431.9L784.0 430.0L783.9 430.0L781.0 428.5L778.0 427.2L777.3 427.0L775.0 426.4L772.0 426.1L769.0 426.3L766.8 427.0L766.0 427.2L763.0 428.8L761.2 430.0L760.0 430.8L757.1 433.0L757.0 433.1L754.0 435.4L753.0 436.0L751.0 437.4L748.0 439.0L747.9 439.0L745.0 440.0L742.0 440.4L739.0 440.2L736.0 439.5L734.4 439.0L733.0 438.5L730.0 437.2L727.5 436.0L727.0 435.7L724.0 434.2L721.5 433.0L721.0 432.8L718.0 431.6L715.0 430.9L712.0 430.7L709.0 431.0L706.0 431.6L703.0 432.2L700.0 432.6L697.0 432.4L694.0 432.0L691.0 431.8L688.0 432.0L685.0 432.8L684.6 433.0L682.0 434.2L679.1 436.0L679.0 436.0L676.0 438.3L675.0 439.0L673.0 440.5L670.7 442.0L670.0 442.5L667.0 443.9L664.0 444.8L661.0 445.0L658.0 444.3L655.0 442.7L654.3 442.0L652.0 440.0L651.3 439.0L649.0 436.6L648.6 436.0L646.2 433.0L646.0 432.7L644.2 430.0L643.0 427.6L642.6 427.0L641.0 424.0L640.0 422.2L638.5 421.0L637.0 420.0L634.0 420.0L631.0 420.8L630.3 421.0L628.0 421.8L625.0 422.8L622.0 423.9L621.6 424.0L619.0 424.9L616.0 425.9L613.0 426.8L612.4 427.0L610.0 427.8L607.0 428.6L604.0 429.4L601.8 430.0L601.0 430.2L598.0 431.0L595.0 431.6L592.0 432.2L589.0 432.8L587.7 433.0L586.0 433.3L583.0 433.7L580.0 434.0L577.0 434.2L574.0 434.3L571.0 434.3L568.0 434.2L565.0 434.0L562.0 433.7L559.0 433.4L556.8 433.0L556.0 432.9L553.0 432.3L550.0 431.8L547.0 431.1L544.0 430.5L541.4 430.0L541.0 429.9L538.0 429.4L535.0 429.1L532.0 428.9L529.0 428.9L526.0 429.1L523.0 429.4L520.1 430.0L520.0 430.0L517.0 430.9L514.0 431.7L511.0 432.4L508.0 432.9L507.3 433.0L505.0 433.3L502.0 433.5L499.0 433.7L496.0 433.7L493.0 433.8L490.0 434.0L487.0 434.2L484.0 434.6L481.0 434.9L478.0 435.0L475.0 434.8L472.0 434.7L469.0 434.6L466.0 434.6L463.0 434.8L460.0 435.1L457.0 435.6L455.2 436.0L454.0 436.3L451.0 437.1L448.0 438.2L446.2 439.0L445.0 439.5L442.0 441.0L439.8 442.0L439.0 442.4L436.0 443.7L433.0 444.7L431.2 445.0L430.0 445.2L427.0 445.5L424.0 445.4L421.0 445.1L418.0 445.1L415.0 445.4L412.0 445.8L409.0 446.5L406.0 447.3L404.1 448.0L403.0 448.5L400.0 449.6L397.0 449.6L394.0 449.6L392.6 451.0L391.0 452.3L390.1 454.0L388.0 456.9L388.0 457.0L386.1 460.0L385.0 461.6L384.2 463.0L382.5 466.0L382.0 466.8L380.6 469.0L379.0 470.5L377.1 472.0L376.0 472.6L373.0 474.8L372.8 475.0L370.0 476.9L368.5 478.0L367.0 478.8L364.0 480.4L362.8 481.0L361.0 481.7L358.0 482.8L355.0 483.9L354.6 484.0L352.0 484.9L349.0 485.9L346.1 487.0L346.0 487.0L343.0 488.4L340.0 489.9L339.8 490.0L337.0 491.5L334.0 492.9L333.8 493.0L331.0 494.1L328.0 494.8L325.0 495.2L322.0 495.5L319.0 495.8L317.7 496.0L316.0 496.4L313.0 497.8L311.7 499.0L310.0 500.6L308.8 502.0L307.0 503.8L305.8 505.0L304.0 506.6L302.2 508.0L301.0 508.9L298.0 510.7L297.2 511.0L295.0 512.1L292.0 513.1L289.0 513.9L288.2 514.0L286.0 514.4L283.0 514.8L280.0 515.2L277.0 515.5L274.0 515.9L271.0 516.4L268.3 517.0L268.0 517.1L265.0 517.7L262.0 518.3L259.0 518.7L256.0 518.8L253.0 518.7L250.0 518.4L247.0 517.9L244.0 517.3L242.7 517.0L241.0 516.6L238.0 515.8L235.0 515.0L232.0 514.1L231.8 514.0L229.0 512.9L226.0 511.5L225.1 511.0L223.0 509.7L220.6 508.0L220.0 507.6L217.0 505.3L216.6 505.0L214.0 503.2L212.1 502.0L211.0 501.3L208.0 499.9L205.8 499.0L205.0 498.7L202.0 497.8L199.0 497.0L196.0 496.4L194.5 496.0L193.0 495.6L190.0 494.8L187.0 493.8L185.1 493.0L184.0 492.6L181.0 491.1L179.2 490.0L178.0 489.4L175.0 487.8L173.5 487.0L172.0 486.4L169.0 485.4L166.0 484.9L163.0 484.9L160.0 485.4L157.0 486.3L155.1 487.0L154.0 487.6L151.0 489.2L149.5 490.0L148.0 491.1L145.2 493.0L145.0 493.2L142.0 495.6L141.4 496.0L139.0 498.1L137.9 499.0L136.0 500.7L134.5 502.0L133.0 503.4L131.1 505.0L130.0 506.0L127.8 508.0L127.0 508.7L124.4 511.0L124.0 511.4L121.0 514.0L121.0 514.0L118.0 516.7L117.6 517.0L115.0 519.4L114.3 520.0L112.0 522.1L110.9 523.0L109.0 524.7L107.6 526.0L106.0 527.4L104.3 529.0L103.0 530.2L101.0 532.0L100.0 532.9L97.7 535.0L97.0 535.7L94.5 538.0L94.0 538.4L91.3 541.0L91.0 541.3L88.1 544.0L88.0 544.1L85.0 546.9L84.9 547.0L82.0 549.8L81.8 550.0L79.0 552.7L78.6 553.0L76.0 555.5L76.0 553.0L76.0 550.0L76.0 547.0L76.0 544.0L76.0 541.0L76.0 538.0L76.0 535.0L76.0 532.0L76.0 529.0L76.0 526.0L76.0 523.0L76.0 520.0L76.0 517.0L76.0 514.0L76.0 512.8L79.0 511.2L79.4 511.0L82.0 509.6L84.9 508.0L85.0 507.9L88.0 506.3L90.4 505.0L91.0 504.7L94.0 503.0L95.9 502.0L97.0 501.4L100.0 499.8L101.4 499.0L103.0 498.2L106.0 496.6L107.0 496.0L109.0 495.0L112.0 493.4L112.7 493.0L115.0 491.9L118.0 490.3L118.7 490.0L121.0 488.9L124.0 487.4L124.9 487.0L127.0 486.1L130.0 484.8L131.8 484.0L133.0 483.5L136.0 482.4L139.0 481.3L139.9 481.0L142.0 480.3L145.0 479.5L148.0 478.8L151.0 478.2L152.0 478.0L154.0 477.7L157.0 477.4L160.0 477.2L163.0 477.1L166.0 477.1L169.0 477.2L172.0 477.4L175.0 477.8L176.0 478.0L178.0 478.4L181.0 479.0L184.0 479.7L187.0 480.5L189.4 481.0L190.0 481.2L193.0 481.7L196.0 482.1L199.0 482.3L202.0 482.2L205.0 481.9L208.0 481.4L209.4 481.0L211.0 480.5L214.0 479.3L216.6 478.0L217.0 477.8L220.0 475.9L221.4 475.0L223.0 473.9L226.0 472.0L226.1 472.0L229.0 470.5L232.0 469.2L232.7 469.0L235.0 468.3L238.0 467.4L241.0 466.6L243.6 466.0L244.0 465.9L247.0 465.4L250.0 465.2L253.0 465.6L253.8 466.0L256.0 467.3L257.3 469.0L259.0 471.7L259.1 472.0L259.8 475.0L259.8 478.0L259.6 481.0L259.3 484.0L259.0 486.2L258.9 487.0L258.2 490.0L257.2 493.0L256.0 495.1L255.2 496.0L253.0 498.2L252.2 499.0L250.0 501.8L249.9 502.0L249.5 505.0L250.0 505.8L251.4 508.0L253.0 508.9L256.0 509.5L259.0 508.5L260.2 508.0L262.0 506.8L265.0 505.5L268.0 505.0L271.0 505.2L274.0 505.9L277.0 506.7L280.0 507.3L283.0 507.7L286.0 507.8L289.0 507.6L292.0 507.0L295.0 506.0L296.8 505.0L298.0 504.4L301.0 502.2L301.3 502.0L304.0 499.3L304.3 499.0L306.7 496.0L307.0 495.6L309.2 493.0L310.0 492.2L313.0 490.5L314.8 490.0L316.0 489.7L319.0 489.2L322.0 489.0L325.0 488.8L328.0 488.5L331.0 487.8L332.8 487.0L334.0 486.5L337.0 484.8L338.3 484.0L340.0 483.0L343.0 481.2L343.4 481.0L346.0 479.4L348.5 478.0L349.0 477.7L352.0 475.7L353.1 475.0L355.0 473.3L356.4 472.0L358.0 470.1L358.9 469.0L360.8 466.0L361.0 465.7L362.6 463.0L364.0 460.6L364.3 460.0L366.5 457.0L367.0 456.4L369.3 454.0L370.0 453.3L372.1 451.0L373.0 449.8L374.2 448.0L375.5 445.0L376.0 442.8L376.2 442.0L376.4 439.0L376.4 436.0L377.0 433.0L378.2 430.0L379.0 428.7L380.6 427.0L382.0 425.6L384.7 424.0L385.0 423.8L388.0 422.7L391.0 422.1L394.0 422.0L397.0 422.1L400.0 422.6L403.0 423.3L405.9 424.0L406.0 424.0L409.0 424.9L412.0 425.8L415.0 426.7L416.1 427.0L418.0 427.5L421.0 428.2L424.0 428.8L427.0 429.1L430.0 429.1L433.0 428.6L436.0 427.8L438.3 427.0L439.0 426.8L442.0 425.7L445.0 424.7L447.2 424.0L448.0 423.7L451.0 422.8L454.0 422.1L457.0 421.4L459.0 421.0L460.0 420.8L463.0 420.4L466.0 420.1L469.0 420.0L472.0 420.2L475.0 420.7L476.9 421.0L478.0 421.2L481.0 421.7L484.0 422.0L487.0 422.3L490.0 422.6L493.0 422.7L496.0 422.8L499.0 422.7L502.0 422.6L505.0 422.2L508.0 421.7L510.1 421.0L511.0 420.7L514.0 419.3L516.1 418.0L517.0 417.3L519.7 415.0L520.0 414.7L522.7 412.0L523.0 411.6L525.9 409.0L526.0 408.9L529.0 407.3L532.0 406.8L535.0 407.0L538.0 407.7L541.0 408.6L542.0 409.0L544.0 409.6L547.0 410.5L550.0 411.2L553.0 411.8L554.1 412.0L556.0 412.3L559.0 412.8L562.0 413.3L565.0 413.7L568.0 414.0L571.0 414.2L574.0 414.3L577.0 414.5L580.0 414.7L583.0 414.9L584.6 415.0L586.0 415.1L589.0 415.4L592.0 415.7L595.0 415.9L598.0 416.1L601.0 416.3L604.0 416.3L607.0 416.3L610.0 416.1L613.0 415.8L616.0 415.3L617.5 415.0L619.0 414.7L622.0 413.8L625.0 412.7L626.4 412.0L628.0 411.3L631.0 409.6L632.0 409.0L634.0 407.9L637.0 406.6ZM700.0 410.9L697.8 412.0L698.8 415.0L700.0 415.5L701.4 415.0L702.4 412.0Z"/><path fill="#f57300" d="M697.8 412.0L700.0 410.9L702.4 412.0L701.4 415.0L700.0 415.5L698.8 415.0ZM630.3 421.0L631.0 420.8L634.0 420.0L637.0 420.0L638.5 421.0L640.0 422.2L641.0 424.0L642.6 427.0L643.0 427.6L644.2 430.0L646.0 432.7L646.2 433.0L648.6 436.0L649.0 436.6L651.3 439.0L652.0 440.0L654.3 442.0L655.0 442.7L658.0 444.3L661.0 445.0L664.0 444.8L667.0 443.9L670.0 442.5L670.7 442.0L673.0 440.5L675.0 439.0L676.0 438.3L679.0 436.0L679.1 436.0L682.0 434.2L684.6 433.0L685.0 432.8L688.0 432.0L691.0 431.8L694.0 432.0L697.0 432.4L700.0 432.6L703.0 432.2L706.0 431.6L709.0 431.0L712.0 430.7L715.0 430.9L718.0 431.6L721.0 432.8L721.5 433.0L724.0 434.2L727.0 435.7L727.5 436.0L730.0 437.2L733.0 438.5L734.4 439.0L736.0 439.5L739.0 440.2L742.0 440.4L745.0 440.0L747.9 439.0L748.0 439.0L751.0 437.4L753.0 436.0L754.0 435.4L757.0 433.1L757.1 433.0L760.0 430.8L761.2 430.0L763.0 428.8L766.0 427.2L766.8 427.0L769.0 426.3L772.0 426.1L775.0 426.4L777.3 427.0L778.0 427.2L781.0 428.5L783.9 430.0L784.0 430.0L787.0 431.9L788.6 433.0L790.0 434.0L792.8 436.0L793.0 436.2L796.0 438.5L796.6 439.0L799.0 441.0L800.2 442.0L802.0 443.7L803.4 445.0L805.0 446.7L806.3 448.0L808.0 450.0L808.8 451.0L811.0 453.9L811.1 454.0L813.2 457.0L814.0 458.3L815.0 460.0L816.8 463.0L817.0 463.5L818.3 466.0L819.8 469.0L820.0 469.5L820.0 472.0L820.0 475.0L820.0 478.0L820.0 481.0L820.0 484.0L820.0 487.0L820.0 490.0L820.0 493.0L820.0 496.0L820.0 499.0L820.0 502.0L820.0 505.0L820.0 508.0L820.0 511.0L820.0 514.0L820.0 517.0L820.0 520.0L820.0 523.0L820.0 526.0L820.0 529.0L820.0 532.0L820.0 535.0L820.0 538.0L820.0 541.0L820.0 544.0L820.0 547.0L820.0 549.8L817.0 548.8L814.0 547.9L811.0 547.1L810.5 547.0L808.0 546.5L805.0 545.9L802.0 545.5L799.0 545.1L796.0 544.8L793.0 544.4L790.0 544.1L789.2 544.0L787.0 543.7L784.0 543.3L781.0 542.8L778.0 542.3L775.0 541.7L772.2 541.0L772.0 540.9L769.0 540.1L766.0 539.1L763.0 538.0L762.9 538.0L760.0 536.7L757.0 535.3L756.4 535.0L754.0 533.6L751.3 532.0L751.0 531.8L748.0 529.6L747.2 529.0L745.0 527.0L744.0 526.0L742.0 523.6L741.6 523.0L740.1 520.0L739.7 517.0L740.1 514.0L740.9 511.0L742.0 508.3L742.1 508.0L743.7 505.0L745.0 502.8L745.5 502.0L747.5 499.0L748.0 498.2L749.6 496.0L751.0 494.0L751.7 493.0L753.9 490.0L754.0 489.9L756.1 487.0L757.0 485.5L758.0 484.0L759.6 481.0L760.0 478.2L760.0 478.0L760.0 477.9L757.0 475.1L756.8 475.0L754.0 474.5L751.0 473.9L748.0 473.3L745.0 472.4L744.2 472.0L742.0 471.3L739.0 470.0L737.1 469.0L736.0 468.5L733.0 466.9L731.6 466.0L730.0 465.1L727.0 463.1L726.8 463.0L724.0 461.1L722.3 460.0L721.0 459.0L718.3 457.0L718.0 456.7L715.1 454.0L715.0 453.8L713.4 451.0L712.7 448.0L712.0 446.1L711.7 445.0L710.1 442.0L709.0 441.1L706.7 439.0L706.0 438.7L703.0 437.6L700.0 437.2L697.0 437.8L694.4 439.0L694.0 439.4L691.7 442.0L691.0 444.4L690.8 445.0L691.0 447.0L691.2 448.0L694.0 450.7L697.0 450.8L700.0 450.5L701.6 451.0L703.0 452.7L704.3 454.0L703.0 456.2L702.2 457.0L700.0 457.8L697.0 458.2L694.0 458.5L691.0 459.2L689.5 460.0L688.0 460.6L685.0 462.3L683.8 463.0L682.0 464.0L679.0 465.7L678.4 466.0L676.0 467.2L673.0 468.4L670.6 469.0L670.0 469.2L667.0 469.6L664.0 469.6L661.0 469.2L660.4 469.0L658.0 468.4L655.0 467.1L653.1 466.0L652.0 465.4L649.1 463.0L649.0 462.9L646.4 460.0L646.0 459.4L644.6 457.0L643.3 454.0L643.0 452.8L642.5 451.0L642.0 448.0L641.5 445.0L640.7 442.0L640.0 440.5L638.7 439.0L637.0 437.7L634.0 436.4L631.5 436.0L631.0 435.9L630.2 436.0L628.0 436.2L625.0 437.0L622.0 438.2L620.2 439.0L619.0 439.6L616.0 441.2L614.5 442.0L613.0 442.9L610.0 444.7L609.4 445.0L607.0 446.5L604.5 448.0L604.0 448.3L601.0 450.2L599.4 451.0L598.0 451.9L595.0 453.5L593.9 454.0L592.0 455.0L589.0 456.3L587.1 457.0L586.0 457.4L583.0 458.3L580.0 459.0L577.0 459.4L574.0 459.6L571.0 459.6L568.0 459.4L565.0 459.1L562.0 458.6L559.0 458.0L556.0 457.3L554.8 457.0L553.0 456.5L550.0 455.7L547.0 454.8L544.5 454.0L544.0 453.8L541.0 452.9L538.0 452.0L535.0 451.2L534.4 451.0L532.0 450.4L529.0 449.7L526.0 449.2L523.0 448.7L520.0 448.4L517.0 448.2L514.0 448.1L511.0 448.1L508.3 448.0L508.0 448.0L505.0 447.9L502.0 447.9L499.0 447.8L496.0 447.8L493.0 447.9L491.4 448.0L490.0 448.1L487.0 448.5L484.0 449.0L481.0 449.4L478.0 449.9L475.0 450.2L472.0 450.5L469.0 450.8L467.1 451.0L466.0 451.1L463.0 451.5L460.0 452.0L457.0 452.7L454.0 453.6L452.8 454.0L451.0 454.7L448.0 456.1L446.2 457.0L445.0 457.6L442.0 459.2L440.5 460.0L439.0 460.8L436.0 462.3L434.7 463.0L433.0 463.9L430.0 465.5L429.0 466.0L427.0 467.1L424.0 468.9L423.8 469.0L421.0 470.7L419.1 472.0L418.0 472.7L415.0 474.8L414.7 475.0L412.0 476.8L410.3 478.0L409.0 478.9L406.0 480.9L405.9 481.0L403.0 482.8L401.1 484.0L400.0 484.7L397.0 486.3L395.7 487.0L394.0 487.9L391.0 489.2L389.0 490.0L388.0 490.4L385.0 491.3L382.0 492.1L379.0 492.8L377.6 493.0L376.0 493.3L373.0 493.6L370.0 493.8L367.0 493.9L364.0 494.0L361.0 494.0L358.0 493.9L355.0 493.9L352.0 494.0L349.0 494.3L346.0 494.9L343.2 496.0L343.0 496.1L340.0 498.1L338.4 499.0L337.0 499.9L334.0 501.5L332.7 502.0L331.0 502.7L328.0 503.7L325.0 504.3L322.0 504.9L321.8 505.0L319.0 505.8L316.0 507.2L314.7 508.0L313.0 509.0L310.2 511.0L310.0 511.1L307.0 513.2L305.8 514.0L304.0 515.2L301.0 516.8L300.6 517.0L298.0 518.3L295.0 519.5L293.4 520.0L292.0 520.5L289.0 521.4L286.0 522.1L283.0 522.8L281.9 523.0L280.0 523.4L277.0 524.0L274.0 524.6L271.0 525.2L268.0 525.7L265.7 526.0L265.0 526.1L262.0 526.3L259.0 526.4L256.0 526.2L253.0 526.0L252.7 526.0L250.0 525.8L247.0 525.8L244.0 525.8L241.0 525.9L238.0 525.9L235.0 525.8L232.0 525.5L229.0 525.1L226.0 524.5L223.0 523.7L220.8 523.0L220.0 522.7L217.0 521.7L214.0 520.5L212.9 520.0L211.0 519.2L208.0 517.9L205.7 517.0L205.0 516.7L202.0 515.7L199.0 514.9L196.0 514.5L193.0 514.5L190.0 514.9L187.0 515.7L184.0 517.0L183.9 517.0L181.0 518.6L178.7 520.0L178.0 520.5L175.0 522.4L174.0 523.0L172.0 524.4L169.3 526.0L169.0 526.2L166.0 528.0L164.3 529.0L163.0 529.8L160.0 531.7L159.5 532.0L157.0 533.7L155.1 535.0L154.0 535.8L151.2 538.0L151.0 538.1L148.0 540.7L147.7 541.0L145.0 543.5L144.5 544.0L142.0 546.5L141.5 547.0L139.0 549.7L138.8 550.0L136.2 553.0L136.0 553.2L133.7 556.0L133.0 557.0L131.5 559.0L130.0 561.0L129.3 562.0L127.3 565.0L127.0 565.5L125.4 568.0L124.0 570.5L123.7 571.0L122.1 574.0L121.0 576.4L120.7 577.0L119.4 580.0L118.3 583.0L118.0 583.8L117.2 586.0L116.4 589.0L115.6 592.0L115.1 595.0L115.0 595.5L114.6 598.0L114.4 601.0L114.3 604.0L114.3 607.0L114.6 610.0L115.0 612.9L115.0 613.0L115.7 616.0L116.6 619.0L117.7 622.0L118.0 622.6L119.2 625.0L121.0 627.9L121.0 628.0L123.3 631.0L124.0 631.8L126.0 634.0L127.0 635.0L129.3 637.0L130.0 637.6L133.0 639.9L133.1 640.0L136.0 642.1L137.3 643.0L139.0 644.2L141.6 646.0L142.0 646.3L145.0 648.7L145.3 649.0L148.0 651.7L148.2 652.0L149.8 655.0L150.1 658.0L150.0 661.0L150.1 664.0L150.2 667.0L150.4 670.0L150.5 673.0L150.7 676.0L151.0 679.0L151.0 679.6L151.2 682.0L151.3 685.0L151.4 688.0L151.3 691.0L151.0 693.4L150.9 694.0L149.5 697.0L148.0 698.7L145.5 700.0L145.0 700.2L142.0 700.4L140.7 700.0L139.0 699.4L136.0 697.5L135.4 697.0L133.0 695.0L131.9 694.0L130.0 692.3L128.5 691.0L127.0 689.8L124.8 688.0L124.0 687.3L121.0 685.1L120.9 685.0L118.0 682.9L116.5 682.0L115.0 681.0L112.0 679.3L111.4 679.0L109.0 677.7L106.0 676.3L105.1 676.0L103.0 675.2L100.0 674.2L97.0 673.4L94.7 673.0L94.0 672.9L91.0 672.5L88.0 672.3L85.0 672.2L82.0 672.4L79.0 672.7L76.7 673.0L76.0 673.1L76.0 673.0L76.0 670.0L76.0 667.0L76.0 664.0L76.0 661.0L76.0 658.0L76.0 655.0L76.0 652.0L76.0 649.0L76.0 646.0L76.0 643.0L76.0 640.0L76.0 637.0L76.0 634.0L76.0 631.0L76.0 628.0L76.0 625.0L76.0 622.0L76.0 619.0L76.0 616.0L76.0 613.0L76.0 610.0L76.0 607.0L76.0 604.0L76.0 601.0L76.0 598.0L76.0 595.0L76.0 592.0L76.0 589.0L76.0 586.0L76.0 583.0L76.0 580.0L76.0 577.0L76.0 574.0L76.0 571.0L76.0 568.0L76.0 565.0L76.0 562.0L76.0 559.0L76.0 556.0L76.0 555.5L78.6 553.0L79.0 552.7L81.8 550.0L82.0 549.8L84.9 547.0L85.0 546.9L88.0 544.1L88.1 544.0L91.0 541.3L91.3 541.0L94.0 538.4L94.5 538.0L97.0 535.7L97.7 535.0L100.0 532.9L101.0 532.0L103.0 530.2L104.3 529.0L106.0 527.4L107.6 526.0L109.0 524.7L110.9 523.0L112.0 522.1L114.3 520.0L115.0 519.4L117.6 517.0L118.0 516.7L121.0 514.0L121.0 514.0L124.0 511.4L124.4 511.0L127.0 508.7L127.8 508.0L130.0 506.0L131.1 505.0L133.0 503.4L134.5 502.0L136.0 500.7L137.9 499.0L139.0 498.1L141.4 496.0L142.0 495.6L145.0 493.2L145.2 493.0L148.0 491.1L149.5 490.0L151.0 489.2L154.0 487.6L155.1 487.0L157.0 486.3L160.0 485.4L163.0 484.9L166.0 484.9L169.0 485.4L172.0 486.4L173.5 487.0L175.0 487.8L178.0 489.4L179.2 490.0L181.0 491.1L184.0 492.6L185.1 493.0L187.0 493.8L190.0 494.8L193.0 495.6L194.5 496.0L196.0 496.4L199.0 497.0L202.0 497.8L205.0 498.7L205.8 499.0L208.0 499.9L211.0 501.3L212.1 502.0L214.0 503.2L216.6 505.0L217.0 505.3L220.0 507.6L220.6 508.0L223.0 509.7L225.1 511.0L226.0 511.5L229.0 512.9L231.8 514.0L232.0 514.1L235.0 515.0L238.0 515.8L241.0 516.6L242.7 517.0L244.0 517.3L247.0 517.9L250.0 518.4L253.0 518.7L256.0 518.8L259.0 518.7L262.0 518.3L265.0 517.7L268.0 517.1L268.3 517.0L271.0 516.4L274.0 515.9L277.0 515.5L280.0 515.2L283.0 514.8L286.0 514.4L288.2 514.0L289.0 513.9L292.0 513.1L295.0 512.1L297.2 511.0L298.0 510.7L301.0 508.9L302.2 508.0L304.0 506.6L305.8 505.0L307.0 503.8L308.8 502.0L310.0 500.6L311.7 499.0L313.0 497.8L316.0 496.4L317.7 496.0L319.0 495.8L322.0 495.5L325.0 495.2L328.0 494.8L331.0 494.1L333.8 493.0L334.0 492.9L337.0 491.5L339.8 490.0L340.0 489.9L343.0 488.4L346.0 487.0L346.1 487.0L349.0 485.9L352.0 484.9L354.6 484.0L355.0 483.9L358.0 482.8L361.0 481.7L362.8 481.0L364.0 480.4L367.0 478.8L368.5 478.0L370.0 476.9L372.8 475.0L373.0 474.8L376.0 472.6L377.1 472.0L379.0 470.5L380.6 469.0L382.0 466.8L382.5 466.0L384.2 463.0L385.0 461.6L386.1 460.0L388.0 457.0L388.0 456.9L390.1 454.0L391.0 452.3L392.6 451.0L394.0 449.6L397.0 449.6L400.0 449.6L403.0 448.5L404.1 448.0L406.0 447.3L409.0 446.5L412.0 445.8L415.0 445.4L418.0 445.1L421.0 445.1L424.0 445.4L427.0 445.5L430.0 445.2L431.2 445.0L433.0 444.7L436.0 443.7L439.0 442.4L439.8 442.0L442.0 441.0L445.0 439.5L446.2 439.0L448.0 438.2L451.0 437.1L454.0 436.3L455.2 436.0L457.0 435.6L460.0 435.1L463.0 434.8L466.0 434.6L469.0 434.6L472.0 434.7L475.0 434.8L478.0 435.0L481.0 434.9L484.0 434.6L487.0 434.2L490.0 434.0L493.0 433.8L496.0 433.7L499.0 433.7L502.0 433.5L505.0 433.3L507.3 433.0L508.0 432.9L511.0 432.4L514.0 431.7L517.0 430.9L520.0 430.0L520.1 430.0L523.0 429.4L526.0 429.1L529.0 428.9L532.0 428.9L535.0 429.1L538.0 429.4L541.0 429.9L541.4 430.0L544.0 430.5L547.0 431.1L550.0 431.8L553.0 432.3L556.0 432.9L556.8 433.0L559.0 433.4L562.0 433.7L565.0 434.0L568.0 434.2L571.0 434.3L574.0 434.3L577.0 434.2L580.0 434.0L583.0 433.7L586.0 433.3L587.7 433.0L589.0 432.8L592.0 432.2L595.0 431.6L598.0 431.0L601.0 430.2L601.8 430.0L604.0 429.4L607.0 428.6L610.0 427.8L612.4 427.0L613.0 426.8L616.0 425.9L619.0 424.9L621.6 424.0L622.0 423.9L625.0 422.8L628.0 421.8Z"/><path fill="#e66400" d="M630.2 436.0L631.0 435.9L631.5 436.0L634.0 436.4L637.0 437.7L638.7 439.0L640.0 440.5L640.7 442.0L641.5 445.0L642.0 448.0L642.5 451.0L643.0 452.8L643.3 454.0L644.6 457.0L646.0 459.4L646.4 460.0L649.0 462.9L649.1 463.0L652.0 465.4L653.1 466.0L655.0 467.1L658.0 468.4L660.4 469.0L661.0 469.2L664.0 469.6L667.0 469.6L670.0 469.2L670.6 469.0L673.0 468.4L676.0 467.2L678.4 466.0L679.0 465.7L682.0 464.0L683.8 463.0L685.0 462.3L688.0 460.6L689.5 460.0L691.0 459.2L694.0 458.5L697.0 458.2L700.0 457.8L702.2 457.0L703.0 456.2L704.3 454.0L703.0 452.7L701.6 451.0L700.0 450.5L697.0 450.8L694.0 450.7L691.2 448.0L691.0 447.0L690.8 445.0L691.0 444.4L691.7 442.0L694.0 439.4L694.4 439.0L697.0 437.8L700.0 437.2L703.0 437.6L706.0 438.7L706.7 439.0L709.0 441.1L710.1 442.0L711.7 445.0L712.0 446.1L712.7 448.0L713.4 451.0L715.0 453.8L715.1 454.0L718.0 456.7L718.3 457.0L721.0 459.0L722.3 460.0L724.0 461.1L726.8 463.0L727.0 463.1L730.0 465.1L731.6 466.0L733.0 466.9L736.0 468.5L737.1 469.0L739.0 470.0L742.0 471.3L744.2 472.0L745.0 472.4L748.0 473.3L751.0 473.9L754.0 474.5L756.8 475.0L757.0 475.1L760.0 477.9L760.0 478.0L760.0 478.2L759.6 481.0L758.0 484.0L757.0 485.5L756.1 487.0L754.0 489.9L753.9 490.0L751.7 493.0L751.0 494.0L749.6 496.0L748.0 498.2L747.5 499.0L745.5 502.0L745.0 502.8L743.7 505.0L742.1 508.0L742.0 508.3L740.9 511.0L740.1 514.0L739.7 517.0L740.1 520.0L741.6 523.0L742.0 523.6L744.0 526.0L745.0 527.0L747.2 529.0L748.0 529.6L751.0 531.8L751.3 532.0L754.0 533.6L756.4 535.0L757.0 535.3L760.0 536.7L762.9 538.0L763.0 538.0L766.0 539.1L769.0 540.1L772.0 540.9L772.2 541.0L775.0 541.7L778.0 542.3L781.0 542.8L784.0 543.3L787.0 543.7L789.2 544.0L790.0 544.1L793.0 544.4L796.0 544.8L799.0 545.1L802.0 545.5L805.0 545.9L808.0 546.5L810.5 547.0L811.0 547.1L814.0 547.9L817.0 548.8L820.0 549.8L820.0 550.0L820.0 553.0L820.0 556.0L820.0 559.0L820.0 562.0L820.0 565.0L820.0 568.0L820.0 571.0L820.0 574.0L820.0 577.0L820.0 580.0L820.0 583.0L820.0 586.0L820.0 589.0L820.0 592.0L820.0 595.0L820.0 598.0L820.0 601.0L820.0 604.0L820.0 607.0L820.0 610.0L820.0 613.0L820.0 616.0L820.0 619.0L820.0 619.5L817.0 619.3L814.0 619.3L811.0 619.3L808.0 619.3L805.0 619.3L802.0 619.2L800.1 619.0L799.0 618.9L796.0 618.3L793.0 617.5L790.0 616.7L787.0 616.0L787.0 616.0L784.0 615.3L781.0 614.6L778.0 614.2L775.0 613.8L772.0 613.6L769.0 613.4L766.0 613.3L763.0 613.3L760.0 613.3L757.0 613.2L754.0 613.0L753.7 613.0L751.0 612.7L748.0 612.0L745.0 611.2L742.0 610.2L741.4 610.0L739.0 609.0L736.0 607.7L734.4 607.0L733.0 606.2L730.0 604.6L729.0 604.0L727.0 602.6L724.9 601.0L724.0 600.2L721.6 598.0L721.0 597.3L719.1 595.0L718.0 593.5L717.1 592.0L715.5 589.0L715.0 587.9L714.2 586.0L713.2 583.0L712.4 580.0L712.0 578.1L711.8 577.0L711.2 574.0L710.6 571.0L710.1 568.0L709.4 565.0L709.0 563.3L708.7 562.0L707.8 559.0L706.8 556.0L706.0 554.0L705.6 553.0L704.2 550.0L703.0 547.8L702.5 547.0L700.6 544.0L700.0 543.3L698.1 541.0L697.0 539.8L695.1 538.0L694.0 537.0L691.2 535.0L691.0 534.8L688.0 533.1L685.9 532.0L685.0 531.6L682.0 530.3L679.0 529.0L678.9 529.0L676.0 527.8L673.0 526.6L671.6 526.0L670.0 525.2L667.0 523.7L665.6 523.0L664.0 522.0L661.0 520.2L660.7 520.0L658.0 518.1L656.3 517.0L655.0 516.0L652.2 514.0L652.0 513.9L649.0 511.8L647.6 511.0L646.0 510.0L643.0 508.5L641.4 508.0L640.0 507.5L637.0 507.2L634.0 507.6L633.3 508.0L631.0 509.3L629.5 511.0L628.0 513.2L627.6 514.0L626.0 517.0L625.0 518.4L624.0 520.0L622.0 522.6L621.7 523.0L619.0 525.8L618.8 526.0L616.0 528.4L615.1 529.0L613.0 530.5L610.2 532.0L610.0 532.1L607.0 533.4L604.0 534.4L601.5 535.0L601.0 535.1L598.0 535.5L595.0 535.7L592.0 535.6L589.0 535.3L587.1 535.0L586.0 534.8L583.0 534.1L580.0 533.2L577.0 532.2L576.6 532.0L574.0 530.9L571.0 529.5L570.1 529.0L568.0 527.9L565.0 526.1L564.8 526.0L562.0 524.2L560.3 523.0L559.0 522.1L556.1 520.0L556.0 519.9L553.0 517.5L552.3 517.0L550.0 515.1L548.7 514.0L547.0 512.4L545.4 511.0L544.0 509.7L542.2 508.0L541.0 506.9L539.0 505.0L538.0 504.0L536.0 502.0L535.0 501.1L532.8 499.0L532.0 498.2L529.6 496.0L529.0 495.5L526.2 493.0L526.0 492.9L523.0 490.5L522.4 490.0L520.0 488.3L518.1 487.0L517.0 486.3L514.0 484.6L512.8 484.0L511.0 483.1L508.0 481.9L505.6 481.0L505.0 480.8L502.0 480.0L499.0 479.3L496.0 478.9L493.0 478.6L490.0 478.5L487.0 478.5L484.0 478.7L481.0 479.1L478.0 479.6L475.0 480.2L472.0 480.9L471.7 481.0L469.0 481.8L466.0 482.9L463.0 484.0L463.0 484.0L460.0 485.3L457.0 486.7L456.4 487.0L454.0 488.2L451.0 489.7L450.4 490.0L448.0 491.3L445.0 492.8L444.6 493.0L442.0 494.4L439.0 495.8L438.7 496.0L436.0 497.3L433.0 498.7L432.5 499.0L430.0 500.2L427.0 501.5L426.0 502.0L424.0 502.9L421.0 504.3L419.4 505.0L418.0 505.6L415.0 507.0L413.0 508.0L412.0 508.5L409.0 509.9L406.7 511.0L406.0 511.4L403.0 512.9L400.6 514.0L400.0 514.3L397.0 515.8L394.2 517.0L394.0 517.1L391.0 518.4L388.0 519.6L386.7 520.0L385.0 520.6L382.0 521.5L379.0 522.1L376.0 522.4L373.0 522.4L370.0 522.1L367.0 521.4L364.0 520.5L362.7 520.0L361.0 519.5L358.0 518.5L355.0 517.4L353.7 517.0L352.0 516.5L349.0 515.9L346.0 515.7L343.0 515.9L340.0 516.4L337.0 516.9L336.7 517.0L334.0 517.5L331.0 518.0L328.0 518.3L325.0 518.7L322.0 519.1L319.0 519.7L318.1 520.0L316.0 520.6L313.0 521.7L310.0 522.8L309.7 523.0L307.0 524.1L304.0 525.4L302.5 526.0L301.0 526.6L298.0 527.8L295.0 528.9L294.6 529.0L292.0 529.9L289.0 530.8L286.0 531.6L284.4 532.0L283.0 532.4L280.0 533.2L277.0 534.0L274.0 534.7L272.9 535.0L271.0 535.5L268.0 536.2L265.0 536.7L262.0 537.0L259.0 537.1L256.0 537.0L253.0 536.9L250.0 537.0L247.0 537.4L244.0 538.0L243.9 538.0L241.0 538.9L238.0 539.7L235.0 540.6L233.5 541.0L232.0 541.6L229.0 542.7L226.0 544.0L225.9 544.0L223.0 546.2L222.1 547.0L220.3 550.0L220.0 550.7L219.3 553.0L218.8 556.0L218.5 559.0L218.2 562.0L218.0 565.0L217.6 568.0L217.1 571.0L217.0 571.5L216.4 574.0L215.4 577.0L214.0 579.9L213.9 580.0L211.9 583.0L211.0 584.1L208.9 586.0L208.0 586.7L205.0 588.4L203.5 589.0L202.0 589.5L199.0 590.1L196.0 590.2L193.0 590.3L190.0 590.5L187.0 590.7L184.0 591.2L181.0 591.9L180.7 592.0L178.0 593.0L175.0 594.6L174.5 595.0L172.0 597.2L171.3 598.0L169.3 601.0L169.0 601.8L168.3 604.0L167.8 607.0L168.0 610.0L168.7 613.0L169.0 613.6L170.1 616.0L172.0 618.7L172.2 619.0L175.0 621.6L175.6 622.0L178.0 623.4L181.0 624.7L182.4 625.0L184.0 625.4L187.0 625.7L190.0 625.8L193.0 625.6L196.0 625.4L199.0 625.2L202.0 625.1L205.0 625.1L208.0 625.4L211.0 626.0L214.0 627.1L215.8 628.0L217.0 628.7L220.0 630.8L220.2 631.0L223.0 633.8L223.2 634.0L225.4 637.0L226.0 638.1L227.0 640.0L228.1 643.0L228.8 646.0L228.9 649.0L228.5 652.0L227.6 655.0L226.0 657.9L225.9 658.0L223.5 661.0L223.0 661.5L220.0 664.0L220.0 664.0L217.0 665.9L214.9 667.0L214.0 667.4L211.0 668.6L208.0 669.8L207.4 670.0L205.0 671.0L202.0 672.4L200.9 673.0L199.0 674.3L197.1 676.0L196.0 677.4L195.0 679.0L193.9 682.0L193.5 685.0L193.8 688.0L194.7 691.0L196.0 693.5L196.2 694.0L198.4 697.0L199.0 697.7L200.9 700.0L202.0 701.4L203.1 703.0L204.4 706.0L204.6 709.0L203.8 712.0L202.0 714.8L201.8 715.0L199.5 718.0L199.0 718.9L197.6 721.0L196.3 724.0L196.0 725.4L195.6 727.0L195.3 730.0L195.6 733.0L196.0 734.3L196.6 736.0L198.5 739.0L199.0 739.6L201.8 742.0L202.0 742.1L205.0 743.7L208.0 744.8L208.8 745.0L211.0 745.5L214.0 746.0L217.0 746.4L220.0 746.6L223.0 746.8L226.0 746.8L229.0 746.8L232.0 746.6L235.0 746.3L238.0 745.9L241.0 745.2L241.6 745.0L244.0 744.3L247.0 743.2L249.8 742.0L250.0 741.9L253.0 740.5L256.0 739.0L256.0 739.0L259.0 737.5L262.0 736.0L262.0 736.0L265.0 734.6L268.0 733.3L268.8 733.0L271.0 732.1L274.0 731.1L277.0 730.2L277.7 730.0L280.0 729.4L283.0 728.9L286.0 728.5L289.0 728.4L292.0 728.4L295.0 728.7L298.0 729.4L299.8 730.0L301.0 730.6L304.0 732.7L304.3 733.0L307.0 735.9L307.1 736.0L309.2 739.0L310.0 740.6L310.7 742.0L311.9 745.0L312.8 748.0L313.0 748.6L313.8 751.0L314.9 754.0L316.0 756.6L316.3 757.0L319.0 759.5L322.0 759.2L324.4 757.0L325.0 756.2L326.1 754.0L327.6 751.0L328.0 750.2L328.9 748.0L330.6 745.0L331.0 744.5L332.7 742.0L334.0 740.5L335.4 739.0L337.0 737.6L338.9 736.0L340.0 735.2L343.0 733.3L343.5 733.0L346.0 731.7L349.0 730.4L350.2 730.0L352.0 729.5L355.0 728.8L358.0 728.3L361.0 727.8L364.0 727.5L367.0 727.1L367.9 727.0L370.0 726.7L373.0 726.3L376.0 725.8L379.0 725.0L381.9 724.0L382.0 723.9L385.0 722.4L387.1 721.0L388.0 720.3L390.5 718.0L391.0 717.5L393.0 715.0L394.0 713.7L395.2 712.0L397.0 709.1L397.0 709.0L398.7 706.0L400.0 703.4L400.2 703.0L401.7 700.0L403.0 697.3L403.1 697.0L404.7 694.0L406.0 691.8L406.5 691.0L408.5 688.0L409.0 687.4L411.0 685.0L412.0 683.9L414.0 682.0L415.0 681.1L417.8 679.0L418.0 678.9L421.0 677.0L422.9 676.0L424.0 675.5L427.0 674.2L430.0 673.0L430.0 673.0L433.0 672.0L436.0 671.1L439.0 670.3L440.0 670.0L442.0 669.4L445.0 668.6L448.0 667.8L450.6 667.0L451.0 666.9L454.0 666.0L457.0 665.1L460.0 664.2L460.6 664.0L463.0 663.3L466.0 662.3L469.0 661.3L469.7 661.0L472.0 660.3L475.0 659.3L478.0 658.3L479.1 658.0L481.0 657.4L484.0 656.6L487.0 655.9L490.0 655.2L490.9 655.0L493.0 654.6L496.0 654.1L499.0 653.6L502.0 653.2L505.0 652.8L508.0 652.4L510.5 652.0L511.0 651.9L514.0 651.5L517.0 651.0L520.0 650.5L523.0 650.0L526.0 649.5L528.7 649.0L529.0 649.0L532.0 648.5L535.0 648.0L538.0 647.7L541.0 647.5L544.0 647.5L547.0 647.7L550.0 648.1L553.0 648.9L553.2 649.0L556.0 650.1L559.0 651.7L559.4 652.0L562.0 653.9L563.3 655.0L565.0 656.7L566.2 658.0L568.0 660.1L568.7 661.0L571.0 664.0L571.0 664.0L573.1 667.0L574.0 668.2L575.3 670.0L577.0 672.1L577.7 673.0L580.0 675.6L580.4 676.0L583.0 678.5L583.5 679.0L586.0 681.1L587.2 682.0L589.0 683.3L591.8 685.0L592.0 685.1L595.0 686.6L598.0 687.9L598.4 688.0L601.0 688.9L604.0 689.6L607.0 690.1L610.0 690.4L613.0 690.5L616.0 690.4L619.0 690.3L622.0 690.1L625.0 689.9L628.0 689.9L631.0 690.1L634.0 690.7L635.0 691.0L637.0 691.7L640.0 693.5L640.6 694.0L643.0 696.3L643.6 697.0L645.8 700.0L646.0 700.4L647.4 703.0L648.8 706.0L649.0 706.4L650.0 709.0L651.1 712.0L652.0 714.9L652.0 715.0L652.9 718.0L653.7 721.0L654.5 724.0L655.0 725.9L655.3 727.0L656.1 730.0L657.0 733.0L657.9 736.0L658.0 736.3L659.0 739.0L660.2 742.0L661.0 743.9L661.5 745.0L663.0 748.0L664.0 749.7L664.8 751.0L666.8 754.0L667.0 754.3L669.0 757.0L670.0 758.3L671.4 760.0L673.0 761.9L674.0 763.0L676.0 765.2L676.7 766.0L679.0 768.7L679.2 769.0L681.2 772.0L682.0 773.4L682.8 775.0L684.2 778.0L685.0 780.2L685.3 781.0L686.2 784.0L687.0 787.0L687.7 790.0L688.0 792.0L688.2 793.0L688.6 796.0L688.9 799.0L689.2 802.0L689.3 805.0L688.0 805.0L685.0 805.0L682.0 805.0L679.0 805.0L676.0 805.0L673.0 805.0L670.0 805.0L667.0 805.0L664.0 805.0L661.0 805.0L658.0 805.0L655.0 805.0L652.0 805.0L649.0 805.0L646.0 805.0L643.0 805.0L640.0 805.0L637.0 805.0L634.0 805.0L631.0 805.0L628.0 805.0L625.0 805.0L622.0 805.0L619.0 805.0L616.0 805.0L613.0 805.0L610.0 805.0L607.0 805.0L604.0 805.0L601.0 805.0L598.0 805.0L595.0 805.0L592.0 805.0L589.0 805.0L586.0 805.0L583.0 805.0L580.0 805.0L577.0 805.0L574.0 805.0L571.0 805.0L568.0 805.0L565.0 805.0L562.0 805.0L559.0 805.0L556.0 805.0L553.0 805.0L550.0 805.0L547.0 805.0L544.0 805.0L541.0 805.0L538.0 805.0L535.0 805.0L532.0 805.0L529.0 805.0L526.0 805.0L523.0 805.0L520.0 805.0L517.0 805.0L514.0 805.0L511.0 805.0L508.0 805.0L505.0 805.0L502.0 805.0L499.0 805.0L496.0 805.0L493.0 805.0L490.0 805.0L487.0 805.0L484.0 805.0L481.0 805.0L478.0 805.0L475.0 805.0L472.0 805.0L469.0 805.0L466.0 805.0L463.0 805.0L460.0 805.0L457.0 805.0L454.0 805.0L451.0 805.0L448.0 805.0L445.0 805.0L442.0 805.0L439.0 805.0L436.0 805.0L433.0 805.0L430.0 805.0L427.0 805.0L424.0 805.0L421.0 805.0L418.0 805.0L415.0 805.0L412.0 805.0L409.0 805.0L406.0 805.0L403.0 805.0L400.0 805.0L397.0 805.0L394.0 805.0L391.0 805.0L388.0 805.0L385.0 805.0L382.0 805.0L379.0 805.0L376.0 805.0L373.0 805.0L370.0 805.0L367.0 805.0L364.0 805.0L361.0 805.0L358.0 805.0L355.0 805.0L352.0 805.0L349.0 805.0L346.0 805.0L343.0 805.0L340.0 805.0L337.0 805.0L334.0 805.0L331.0 805.0L328.0 805.0L325.0 805.0L322.0 805.0L319.0 805.0L316.0 805.0L313.0 805.0L310.0 805.0L307.0 805.0L304.0 805.0L301.0 805.0L298.0 805.0L295.0 805.0L292.0 805.0L289.0 805.0L286.0 805.0L283.0 805.0L280.0 805.0L277.0 805.0L274.0 805.0L271.0 805.0L268.0 805.0L265.0 805.0L262.0 805.0L259.0 805.0L257.8 805.0L257.5 802.0L256.9 799.0L256.0 796.0L256.0 796.0L254.2 793.0L253.0 791.8L250.0 790.1L247.0 791.3L245.1 793.0L244.0 794.4L243.0 796.0L241.5 799.0L241.0 800.2L240.4 802.0L239.5 805.0L238.0 805.0L235.0 805.0L232.0 805.0L229.0 805.0L226.0 805.0L223.0 805.0L220.0 805.0L217.0 805.0L214.0 805.0L211.0 805.0L208.0 805.0L205.0 805.0L202.0 805.0L199.0 805.0L196.0 805.0L193.0 805.0L190.0 805.0L187.0 805.0L184.0 805.0L181.0 805.0L178.0 805.0L175.0 805.0L172.0 805.0L169.0 805.0L166.0 805.0L163.0 805.0L160.0 805.0L157.0 805.0L154.0 805.0L151.0 805.0L148.0 805.0L145.0 805.0L142.0 805.0L139.0 805.0L136.0 805.0L133.0 805.0L130.0 805.0L127.0 805.0L124.0 805.0L121.0 805.0L118.0 805.0L115.0 805.0L112.0 805.0L109.0 805.0L106.0 805.0L103.0 805.0L100.0 805.0L97.0 805.0L94.0 805.0L91.0 805.0L88.0 805.0L85.0 805.0L82.0 805.0L79.0 805.0L76.0 805.0L76.0 802.0L76.0 799.0L76.0 796.0L76.0 793.0L76.0 790.0L76.0 787.0L76.0 784.0L76.0 781.0L76.0 778.0L76.0 775.0L76.0 772.0L76.0 769.0L76.0 766.0L76.0 763.0L76.0 760.0L76.0 757.0L76.0 754.0L76.0 751.0L76.0 748.0L76.0 745.0L76.0 742.0L76.0 739.0L76.0 736.0L76.0 733.0L76.0 730.0L76.0 727.0L76.0 724.0L76.0 721.0L76.0 718.0L76.0 715.0L76.0 712.0L76.0 709.0L76.0 706.0L76.0 703.0L76.0 700.0L76.0 697.0L76.0 694.0L76.0 691.0L76.0 688.0L76.0 685.0L76.0 682.0L76.0 679.0L76.0 676.0L76.0 673.1L76.7 673.0L79.0 672.7L82.0 672.4L85.0 672.2L88.0 672.3L91.0 672.5L94.0 672.9L94.7 673.0L97.0 673.4L100.0 674.2L103.0 675.2L105.1 676.0L106.0 676.3L109.0 677.7L111.4 679.0L112.0 679.3L115.0 681.0L116.5 682.0L118.0 682.9L120.9 685.0L121.0 685.1L124.0 687.3L124.8 688.0L127.0 689.8L128.5 691.0L130.0 692.3L131.9 694.0L133.0 695.0L135.4 697.0L136.0 697.5L139.0 699.4L140.7 700.0L142.0 700.4L145.0 700.2L145.5 700.0L148.0 698.7L149.5 697.0L150.9 694.0L151.0 693.4L151.3 691.0L151.4 688.0L151.3 685.0L151.2 682.0L151.0 679.6L151.0 679.0L150.7 676.0L150.5 673.0L150.4 670.0L150.2 667.0L150.1 664.0L150.0 661.0L150.1 658.0L149.8 655.0L148.2 652.0L148.0 651.7L145.3 649.0L145.0 648.7L142.0 646.3L141.6 646.0L139.0 644.2L137.3 643.0L136.0 642.1L133.1 640.0L133.0 639.9L130.0 637.6L129.3 637.0L127.0 635.0L126.0 634.0L124.0 631.8L123.3 631.0L121.0 628.0L121.0 627.9L119.2 625.0L118.0 622.6L117.7 622.0L116.6 619.0L115.7 616.0L115.0 613.0L115.0 612.9L114.6 610.0L114.3 607.0L114.3 604.0L114.4 601.0L114.6 598.0L115.0 595.5L115.1 595.0L115.6 592.0L116.4 589.0L117.2 586.0L118.0 583.8L118.3 583.0L119.4 580.0L120.7 577.0L121.0 576.4L122.1 574.0L123.7 571.0L124.0 570.5L125.4 568.0L127.0 565.5L127.3 565.0L129.3 562.0L130.0 561.0L131.5 559.0L133.0 557.0L133.7 556.0L136.0 553.2L136.2 553.0L138.8 550.0L139.0 549.7L141.5 547.0L142.0 546.5L144.5 544.0L145.0 543.5L147.7 541.0L148.0 540.7L151.0 538.1L151.2 538.0L154.0 535.8L155.1 535.0L157.0 533.7L159.5 532.0L160.0 531.7L163.0 529.8L164.3 529.0L166.0 528.0L169.0 526.2L169.3 526.0L172.0 524.4L174.0 523.0L175.0 522.4L178.0 520.5L178.7 520.0L181.0 518.6L183.9 517.0L184.0 517.0L187.0 515.7L190.0 514.9L193.0 514.5L196.0 514.5L199.0 514.9L202.0 515.7L205.0 516.7L205.7 517.0L208.0 517.9L211.0 519.2L212.9 520.0L214.0 520.5L217.0 521.7L220.0 522.7L220.8 523.0L223.0 523.7L226.0 524.5L229.0 525.1L232.0 525.5L235.0 525.8L238.0 525.9L241.0 525.9L244.0 525.8L247.0 525.8L250.0 525.8L252.7 526.0L253.0 526.0L256.0 526.2L259.0 526.4L262.0 526.3L265.0 526.1L265.7 526.0L268.0 525.7L271.0 525.2L274.0 524.6L277.0 524.0L280.0 523.4L281.9 523.0L283.0 522.8L286.0 522.1L289.0 521.4L292.0 520.5L293.4 520.0L295.0 519.5L298.0 518.3L300.6 517.0L301.0 516.8L304.0 515.2L305.8 514.0L307.0 513.2L310.0 511.1L310.2 511.0L313.0 509.0L314.7 508.0L316.0 507.2L319.0 505.8L321.8 505.0L322.0 504.9L325.0 504.3L328.0 503.7L331.0 502.7L332.7 502.0L334.0 501.5L337.0 499.9L338.4 499.0L340.0 498.1L343.0 496.1L343.2 496.0L346.0 494.9L349.0 494.3L352.0 494.0L355.0 493.9L358.0 493.9L361.0 494.0L364.0 494.0L367.0 493.9L370.0 493.8L373.0 493.6L376.0 493.3L377.6 493.0L379.0 492.8L382.0 492.1L385.0 491.3L388.0 490.4L389.0 490.0L391.0 489.2L394.0 487.9L395.7 487.0L397.0 486.3L400.0 484.7L401.1 484.0L403.0 482.8L405.9 481.0L406.0 480.9L409.0 478.9L410.3 478.0L412.0 476.8L414.7 475.0L415.0 474.8L418.0 472.7L419.1 472.0L421.0 470.7L423.8 469.0L424.0 468.9L427.0 467.1L429.0 466.0L430.0 465.5L433.0 463.9L434.7 463.0L436.0 462.3L439.0 460.8L440.5 460.0L442.0 459.2L445.0 457.6L446.2 457.0L448.0 456.1L451.0 454.7L452.8 454.0L454.0 453.6L457.0 452.7L460.0 452.0L463.0 451.5L466.0 451.1L467.1 451.0L469.0 450.8L472.0 450.5L475.0 450.2L478.0 449.9L481.0 449.4L484.0 449.0L487.0 448.5L490.0 448.1L491.4 448.0L493.0 447.9L496.0 447.8L499.0 447.8L502.0 447.9L505.0 447.9L508.0 448.0L508.3 448.0L511.0 448.1L514.0 448.1L517.0 448.2L520.0 448.4L523.0 448.7L526.0 449.2L529.0 449.7L532.0 450.4L534.4 451.0L535.0 451.2L538.0 452.0L541.0 452.9L544.0 453.8L544.5 454.0L547.0 454.8L550.0 455.7L553.0 456.5L554.8 457.0L556.0 457.3L559.0 458.0L562.0 458.6L565.0 459.1L568.0 459.4L571.0 459.6L574.0 459.6L577.0 459.4L580.0 459.0L583.0 458.3L586.0 457.4L587.1 457.0L589.0 456.3L592.0 455.0L593.9 454.0L595.0 453.5L598.0 451.9L599.4 451.0L601.0 450.2L604.0 448.3L604.5 448.0L607.0 446.5L609.4 445.0L610.0 444.7L613.0 442.9L614.5 442.0L616.0 441.2L619.0 439.6L620.2 439.0L622.0 438.2L625.0 437.0L628.0 436.2ZM351.1 559.0L352.0 558.0L355.0 556.6L358.0 557.0L359.4 559.0L358.7 562.0L358.0 562.7L355.0 564.3L352.0 563.8L350.6 562.0Z"/><path fill="#d45400" d="M471.7 481.0L472.0 480.9L475.0 480.2L478.0 479.6L481.0 479.1L484.0 478.7L487.0 478.5L490.0 478.5L493.0 478.6L496.0 478.9L499.0 479.3L502.0 480.0L505.0 480.8L505.6 481.0L508.0 481.9L511.0 483.1L512.8 484.0L514.0 484.6L517.0 486.3L518.1 487.0L520.0 488.3L522.4 490.0L523.0 490.5L526.0 492.9L526.2 493.0L529.0 495.5L529.6 496.0L532.0 498.2L532.8 499.0L535.0 501.1L536.0 502.0L538.0 504.0L539.0 505.0L541.0 506.9L542.2 508.0L544.0 509.7L545.4 511.0L547.0 512.4L548.7 514.0L550.0 515.1L552.3 517.0L553.0 517.5L556.0 519.9L556.1 520.0L559.0 522.1L560.3 523.0L562.0 524.2L564.8 526.0L565.0 526.1L568.0 527.9L570.1 529.0L571.0 529.5L574.0 530.9L576.6 532.0L577.0 532.2L580.0 533.2L583.0 534.1L586.0 534.8L587.1 535.0L589.0 535.3L592.0 535.6L595.0 535.7L598.0 535.5L601.0 535.1L601.5 535.0L604.0 534.4L607.0 533.4L610.0 532.1L610.2 532.0L613.0 530.5L615.1 529.0L616.0 528.4L618.8 526.0L619.0 525.8L621.7 523.0L622.0 522.6L624.0 520.0L625.0 518.4L626.0 517.0L627.6 514.0L628.0 513.2L629.5 511.0L631.0 509.3L633.3 508.0L634.0 507.6L637.0 507.2L640.0 507.5L641.4 508.0L643.0 508.5L646.0 510.0L647.6 511.0L649.0 511.8L652.0 513.9L652.2 514.0L655.0 516.0L656.3 517.0L658.0 518.1L660.7 520.0L661.0 520.2L664.0 522.0L665.6 523.0L667.0 523.7L670.0 525.2L671.6 526.0L673.0 526.6L676.0 527.8L678.9 529.0L679.0 529.0L682.0 530.3L685.0 531.6L685.9 532.0L688.0 533.1L691.0 534.8L691.2 535.0L694.0 537.0L695.1 538.0L697.0 539.8L698.1 541.0L700.0 543.3L700.6 544.0L702.5 547.0L703.0 547.8L704.2 550.0L705.6 553.0L706.0 554.0L706.8 556.0L707.8 559.0L708.7 562.0L709.0 563.3L709.4 565.0L710.1 568.0L710.6 571.0L711.2 574.0L711.8 577.0L712.0 578.1L712.4 580.0L713.2 583.0L714.2 586.0L715.0 587.9L715.5 589.0L717.1 592.0L718.0 593.5L719.1 595.0L721.0 597.3L721.6 598.0L724.0 600.2L724.9 601.0L727.0 602.6L729.0 604.0L730.0 604.6L733.0 606.2L734.4 607.0L736.0 607.7L739.0 609.0L741.4 610.0L742.0 610.2L745.0 611.2L748.0 612.0L751.0 612.7L753.7 613.0L754.0 613.0L757.0 613.2L760.0 613.3L763.0 613.3L766.0 613.3L769.0 613.4L772.0 613.6L775.0 613.8L778.0 614.2L781.0 614.6L784.0 615.3L787.0 616.0L787.0 616.0L790.0 616.7L793.0 617.5L796.0 618.3L799.0 618.9L800.1 619.0L802.0 619.2L805.0 619.3L808.0 619.3L811.0 619.3L814.0 619.3L817.0 619.3L820.0 619.5L820.0 622.0L820.0 625.0L820.0 628.0L820.0 631.0L820.0 634.0L820.0 637.0L820.0 640.0L820.0 643.0L820.0 646.0L820.0 649.0L820.0 652.0L820.0 655.0L820.0 658.0L820.0 659.3L818.6 658.0L817.0 656.7L814.6 655.0L814.0 654.6L811.0 652.9L809.2 652.0L808.0 651.5L805.0 650.2L802.0 649.1L801.7 649.0L799.0 648.2L796.0 647.3L793.0 646.5L790.7 646.0L790.0 645.8L787.0 645.2L784.0 644.6L781.0 644.1L778.0 643.6L775.0 643.2L773.3 643.0L772.0 642.8L769.0 642.5L766.0 642.3L763.0 642.0L760.0 641.8L757.0 641.5L754.0 641.2L751.0 640.9L748.0 640.6L745.0 640.3L742.0 640.0L742.0 640.0L739.0 639.8L736.0 639.6L733.0 639.6L730.0 639.7L727.9 640.0L727.0 640.1L724.0 640.8L721.0 641.7L718.3 643.0L718.0 643.1L715.0 645.2L714.0 646.0L712.0 648.2L711.3 649.0L709.5 652.0L709.0 653.1L708.2 655.0L707.4 658.0L706.9 661.0L706.7 664.0L706.8 667.0L707.3 670.0L708.0 673.0L709.0 675.5L709.2 676.0L711.0 679.0L712.0 680.3L713.6 682.0L715.0 683.3L717.7 685.0L718.0 685.2L721.0 686.5L724.0 687.4L727.0 688.0L727.0 688.0L730.0 688.4L733.0 688.8L736.0 689.2L739.0 689.8L742.0 691.0L742.0 691.0L745.0 693.0L746.4 694.0L748.0 695.3L750.1 697.0L751.0 697.7L753.8 700.0L754.0 700.2L757.0 702.5L757.6 703.0L760.0 704.7L762.1 706.0L763.0 706.6L766.0 708.2L767.8 709.0L769.0 709.5L772.0 710.5L775.0 711.2L778.0 711.6L781.0 711.8L784.0 711.7L787.0 711.4L790.0 710.9L793.0 710.3L796.0 709.6L798.2 709.0L799.0 708.8L802.0 707.9L805.0 707.0L807.8 706.0L808.0 705.9L811.0 704.7L814.0 703.2L814.4 703.0L817.0 701.5L819.1 700.0L820.0 699.3L820.0 700.0L820.0 703.0L820.0 706.0L820.0 709.0L820.0 712.0L820.0 715.0L820.0 718.0L820.0 721.0L820.0 724.0L820.0 727.0L820.0 730.0L820.0 733.0L820.0 736.0L820.0 739.0L820.0 742.0L820.0 745.0L820.0 748.0L820.0 751.0L820.0 754.0L820.0 757.0L820.0 760.0L820.0 763.0L820.0 766.0L820.0 769.0L820.0 772.0L820.0 775.0L820.0 778.0L820.0 781.0L820.0 784.0L820.0 787.0L820.0 790.0L820.0 793.0L820.0 796.0L820.0 799.0L820.0 802.0L820.0 805.0L817.0 805.0L814.0 805.0L811.0 805.0L808.0 805.0L805.0 805.0L802.0 805.0L799.0 805.0L796.0 805.0L793.0 805.0L790.0 805.0L787.0 805.0L784.0 805.0L781.0 805.0L778.0 805.0L775.0 805.0L772.0 805.0L769.0 805.0L766.0 805.0L763.0 805.0L760.0 805.0L757.0 805.0L754.0 805.0L751.0 805.0L748.0 805.0L745.0 805.0L742.0 805.0L739.0 805.0L736.0 805.0L733.0 805.0L730.0 805.0L727.0 805.0L724.0 805.0L721.0 805.0L718.0 805.0L715.0 805.0L712.0 805.0L709.0 805.0L706.0 805.0L703.0 805.0L700.0 805.0L697.0 805.0L694.0 805.0L691.0 805.0L689.3 805.0L689.2 802.0L688.9 799.0L688.6 796.0L688.2 793.0L688.0 792.0L687.7 790.0L687.0 787.0L686.2 784.0L685.3 781.0L685.0 780.2L684.2 778.0L682.8 775.0L682.0 773.4L681.2 772.0L679.2 769.0L679.0 768.7L676.7 766.0L676.0 765.2L674.0 763.0L673.0 761.9L671.4 760.0L670.0 758.3L669.0 757.0L667.0 754.3L666.8 754.0L664.8 751.0L664.0 749.7L663.0 748.0L661.5 745.0L661.0 743.9L660.2 742.0L659.0 739.0L658.0 736.3L657.9 736.0L657.0 733.0L656.1 730.0L655.3 727.0L655.0 725.9L654.5 724.0L653.7 721.0L652.9 718.0L652.0 715.0L652.0 714.9L651.1 712.0L650.0 709.0L649.0 706.4L648.8 706.0L647.4 703.0L646.0 700.4L645.8 700.0L643.6 697.0L643.0 696.3L640.6 694.0L640.0 693.5L637.0 691.7L635.0 691.0L634.0 690.7L631.0 690.1L628.0 689.9L625.0 689.9L622.0 690.1L619.0 690.3L616.0 690.4L613.0 690.5L610.0 690.4L607.0 690.1L604.0 689.6L601.0 688.9L598.4 688.0L598.0 687.9L595.0 686.6L592.0 685.1L591.8 685.0L589.0 683.3L587.2 682.0L586.0 681.1L583.5 679.0L583.0 678.5L580.4 676.0L580.0 675.6L577.7 673.0L577.0 672.1L575.3 670.0L574.0 668.2L573.1 667.0L571.0 664.0L571.0 664.0L568.7 661.0L568.0 660.1L566.2 658.0L565.0 656.7L563.3 655.0L562.0 653.9L559.4 652.0L559.0 651.7L556.0 650.1L553.2 649.0L553.0 648.9L550.0 648.1L547.0 647.7L544.0 647.5L541.0 647.5L538.0 647.7L535.0 648.0L532.0 648.5L529.0 649.0L528.7 649.0L526.0 649.5L523.0 650.0L520.0 650.5L517.0 651.0L514.0 651.5L511.0 651.9L510.5 652.0L508.0 652.4L505.0 652.8L502.0 653.2L499.0 653.6L496.0 654.1L493.0 654.6L490.9 655.0L490.0 655.2L487.0 655.9L484.0 656.6L481.0 657.4L479.1 658.0L478.0 658.3L475.0 659.3L472.0 660.3L469.7 661.0L469.0 661.3L466.0 662.3L463.0 663.3L460.6 664.0L460.0 664.2L457.0 665.1L454.0 666.0L451.0 666.9L450.6 667.0L448.0 667.8L445.0 668.6L442.0 669.4L440.0 670.0L439.0 670.3L436.0 671.1L433.0 672.0L430.0 673.0L430.0 673.0L427.0 674.2L424.0 675.5L422.9 676.0L421.0 677.0L418.0 678.9L417.8 679.0L415.0 681.1L414.0 682.0L412.0 683.9L411.0 685.0L409.0 687.4L408.5 688.0L406.5 691.0L406.0 691.8L404.7 694.0L403.1 697.0L403.0 697.3L401.7 700.0L400.2 703.0L400.0 703.4L398.7 706.0L397.0 709.0L397.0 709.1L395.2 712.0L394.0 713.7L393.0 715.0L391.0 717.5L390.5 718.0L388.0 720.3L387.1 721.0L385.0 722.4L382.0 723.9L381.9 724.0L379.0 725.0L376.0 725.8L373.0 726.3L370.0 726.7L367.9 727.0L367.0 727.1L364.0 727.5L361.0 727.8L358.0 728.3L355.0 728.8L352.0 729.5L350.2 730.0L349.0 730.4L346.0 731.7L343.5 733.0L343.0 733.3L340.0 735.2L338.9 736.0L337.0 737.6L335.4 739.0L334.0 740.5L332.7 742.0L331.0 744.5L330.6 745.0L328.9 748.0L328.0 750.2L327.6 751.0L326.1 754.0L325.0 756.2L324.4 757.0L322.0 759.2L319.0 759.5L316.3 757.0L316.0 756.6L314.9 754.0L313.8 751.0L313.0 748.6L312.8 748.0L311.9 745.0L310.7 742.0L310.0 740.6L309.2 739.0L307.1 736.0L307.0 735.9L304.3 733.0L304.0 732.7L301.0 730.6L299.8 730.0L298.0 729.4L295.0 728.7L292.0 728.4L289.0 728.4L286.0 728.5L283.0 728.9L280.0 729.4L277.7 730.0L277.0 730.2L274.0 731.1L271.0 732.1L268.8 733.0L268.0 733.3L265.0 734.6L262.0 736.0L262.0 736.0L259.0 737.5L256.0 739.0L256.0 739.0L253.0 740.5L250.0 741.9L249.8 742.0L247.0 743.2L244.0 744.3L241.6 745.0L241.0 745.2L238.0 745.9L235.0 746.3L232.0 746.6L229.0 746.8L226.0 746.8L223.0 746.8L220.0 746.6L217.0 746.4L214.0 746.0L211.0 745.5L208.8 745.0L208.0 744.8L205.0 743.7L202.0 742.1L201.8 742.0L199.0 739.6L198.5 739.0L196.6 736.0L196.0 734.3L195.6 733.0L195.3 730.0L195.6 727.0L196.0 725.4L196.3 724.0L197.6 721.0L199.0 718.9L199.5 718.0L201.8 715.0L202.0 714.8L203.8 712.0L204.6 709.0L204.4 706.0L203.1 703.0L202.0 701.4L200.9 700.0L199.0 697.7L198.4 697.0L196.2 694.0L196.0 693.5L194.7 691.0L193.8 688.0L193.5 685.0L193.9 682.0L195.0 679.0L196.0 677.4L197.1 676.0L199.0 674.3L200.9 673.0L202.0 672.4L205.0 671.0L207.4 670.0L208.0 669.8L211.0 668.6L214.0 667.4L214.9 667.0L217.0 665.9L220.0 664.0L220.0 664.0L223.0 661.5L223.5 661.0L225.9 658.0L226.0 657.9L227.6 655.0L228.5 652.0L228.9 649.0L228.8 646.0L228.1 643.0L227.0 640.0L226.0 638.1L225.4 637.0L223.2 634.0L223.0 633.8L220.2 631.0L220.0 630.8L217.0 628.7L215.8 628.0L214.0 627.1L211.0 626.0L208.0 625.4L205.0 625.1L202.0 625.1L199.0 625.2L196.0 625.4L193.0 625.6L190.0 625.8L187.0 625.7L184.0 625.4L182.4 625.0L181.0 624.7L178.0 623.4L175.6 622.0L175.0 621.6L172.2 619.0L172.0 618.7L170.1 616.0L169.0 613.6L168.7 613.0L168.0 610.0L167.8 607.0L168.3 604.0L169.0 601.8L169.3 601.0L171.3 598.0L172.0 597.2L174.5 595.0L175.0 594.6L178.0 593.0L180.7 592.0L181.0 591.9L184.0 591.2L187.0 590.7L190.0 590.5L193.0 590.3L196.0 590.2L199.0 590.1L202.0 589.5L203.5 589.0L205.0 588.4L208.0 586.7L208.9 586.0L211.0 584.1L211.9 583.0L213.9 580.0L214.0 579.9L215.4 577.0L216.4 574.0L217.0 571.5L217.1 571.0L217.6 568.0L218.0 565.0L218.2 562.0L218.5 559.0L218.8 556.0L219.3 553.0L220.0 550.7L220.3 550.0L222.1 547.0L223.0 546.2L225.9 544.0L226.0 544.0L229.0 542.7L232.0 541.6L233.5 541.0L235.0 540.6L238.0 539.7L241.0 538.9L243.9 538.0L244.0 538.0L247.0 537.4L250.0 537.0L253.0 536.9L256.0 537.0L259.0 537.1L262.0 537.0L265.0 536.7L268.0 536.2L271.0 535.5L272.9 535.0L274.0 534.7L277.0 534.0L280.0 533.2L283.0 532.4L284.4 532.0L286.0 531.6L289.0 530.8L292.0 529.9L294.6 529.0L295.0 528.9L298.0 527.8L301.0 526.6L302.5 526.0L304.0 525.4L307.0 524.1L309.7 523.0L310.0 522.8L313.0 521.7L316.0 520.6L318.1 520.0L319.0 519.7L322.0 519.1L325.0 518.7L328.0 518.3L331.0 518.0L334.0 517.5L336.7 517.0L337.0 516.9L340.0 516.4L343.0 515.9L346.0 515.7L349.0 515.9L352.0 516.5L353.7 517.0L355.0 517.4L358.0 518.5L361.0 519.5L362.7 520.0L364.0 520.5L367.0 521.4L370.0 522.1L373.0 522.4L376.0 522.4L379.0 522.1L382.0 521.5L385.0 520.6L386.7 520.0L388.0 519.6L391.0 518.4L394.0 517.1L394.2 517.0L397.0 515.8L400.0 514.3L400.6 514.0L403.0 512.9L406.0 511.4L406.7 511.0L409.0 509.9L412.0 508.5L413.0 508.0L415.0 507.0L418.0 505.6L419.4 505.0L421.0 504.3L424.0 502.9L426.0 502.0L427.0 501.5L430.0 500.2L432.5 499.0L433.0 498.7L436.0 497.3L438.7 496.0L439.0 495.8L442.0 494.4L444.6 493.0L445.0 492.8L448.0 491.3L450.4 490.0L451.0 489.7L454.0 488.2L456.4 487.0L457.0 486.7L460.0 485.3L463.0 484.0L463.0 484.0L466.0 482.9L469.0 481.8ZM592.0 582.5L590.4 583.0L589.0 583.5L586.0 585.2L584.9 586.0L583.0 587.9L582.1 589.0L580.3 592.0L580.0 592.7L579.1 595.0L578.5 598.0L578.2 601.0L578.3 604.0L578.6 607.0L579.4 610.0L580.0 611.8L580.4 613.0L581.8 616.0L583.0 618.0L583.6 619.0L585.7 622.0L586.0 622.4L588.2 625.0L589.0 625.9L591.1 628.0L592.0 628.9L594.3 631.0L595.0 631.6L598.0 633.8L598.3 634.0L601.0 635.6L604.0 636.9L604.4 637.0L607.0 637.7L610.0 638.0L613.0 638.0L616.0 637.8L619.0 637.4L622.0 637.0L622.4 637.0L625.0 636.7L628.0 636.4L631.0 636.3L634.0 636.3L637.0 636.4L640.0 636.5L643.0 636.6L646.0 636.6L649.0 636.4L652.0 636.0L655.0 635.3L658.0 634.3L658.6 634.0L661.0 632.8L663.6 631.0L664.0 630.7L666.8 628.0L667.0 627.7L668.8 625.0L670.0 622.1L670.1 622.0L670.7 619.0L670.7 616.0L670.2 613.0L670.0 612.5L669.2 610.0L667.5 607.0L667.0 606.3L665.1 604.0L664.0 603.0L661.1 601.0L661.0 600.9L658.0 599.6L655.0 598.9L652.0 598.8L649.0 598.9L646.0 599.3L643.0 599.9L640.0 600.4L637.0 600.8L634.0 600.9L631.0 600.6L628.0 599.9L625.0 598.6L623.9 598.0L622.0 596.9L619.5 595.0L619.0 594.6L616.0 592.0L616.0 592.0L613.0 589.3L612.6 589.0L610.0 586.9L608.5 586.0L607.0 585.0L604.0 583.5L602.3 583.0L601.0 582.6L598.0 582.1L595.0 582.1ZM310.0 540.3L307.0 541.0L307.0 541.0L304.0 542.8L301.9 544.0L301.0 544.7L298.0 546.9L297.8 547.0L295.0 549.7L294.7 550.0L292.7 553.0L292.0 555.4L291.8 556.0L292.0 559.0L292.0 559.2L292.9 562.0L292.1 565.0L292.0 565.1L289.8 568.0L289.0 568.7L287.5 571.0L286.0 572.9L285.4 574.0L283.6 577.0L283.0 577.9L281.9 580.0L280.5 583.0L280.0 584.0L279.2 586.0L278.1 589.0L277.2 592.0L277.0 592.7L276.5 595.0L276.2 598.0L276.5 601.0L277.0 602.3L277.6 604.0L280.0 606.9L280.1 607.0L283.0 608.9L285.4 610.0L286.0 610.2L289.0 611.0L292.0 611.5L295.0 611.9L298.0 612.4L300.5 613.0L301.0 613.1L304.0 614.0L307.0 615.1L309.4 616.0L310.0 616.2L313.0 617.3L316.0 618.1L319.0 618.6L322.0 618.6L325.0 618.2L328.0 617.0L329.7 616.0L331.0 614.7L332.4 613.0L333.2 610.0L332.9 607.0L331.7 604.0L331.0 602.9L329.9 601.0L328.0 598.0L328.0 598.0L326.1 595.0L325.0 593.2L324.2 592.0L322.3 589.0L322.0 588.4L320.5 586.0L319.0 583.6L318.6 583.0L316.7 580.0L316.0 578.9L314.5 577.0L313.0 574.7L312.3 574.0L310.1 571.0L310.0 570.9L307.5 568.0L307.0 566.4L305.5 565.0L307.0 563.6L307.7 562.0L310.0 559.8L310.5 559.0L312.9 556.0L313.0 555.9L314.8 553.0L316.0 550.9L316.4 550.0L317.1 547.0L316.8 544.0L316.0 542.8L314.1 541.0L313.0 540.5ZM352.0 558.0L351.1 559.0L350.6 562.0L352.0 563.8L355.0 564.3L358.0 562.7L358.7 562.0L359.4 559.0L358.0 557.0L355.0 556.6ZM418.0 576.7L417.4 577.0L415.0 578.0L412.0 579.5L411.2 580.0L409.0 581.4L406.7 583.0L406.0 583.5L403.0 586.0L402.9 586.0L400.0 588.7L399.6 589.0L397.0 591.6L396.6 592.0L394.0 594.8L393.8 595.0L391.4 598.0L391.0 598.6L389.5 601.0L388.2 604.0L388.0 604.6L387.3 607.0L386.9 610.0L386.9 613.0L387.3 616.0L388.0 618.1L388.3 619.0L389.9 622.0L391.0 623.6L392.2 625.0L394.0 626.6L395.9 628.0L397.0 628.6L400.0 629.9L403.0 630.6L406.0 631.0L406.2 631.0L409.0 631.1L412.0 631.2L415.0 631.2L418.0 631.1L421.0 631.0L421.4 631.0L424.0 630.9L427.0 630.8L430.0 630.6L433.0 630.4L436.0 630.2L439.0 630.1L442.0 630.0L445.0 630.1L448.0 630.1L451.0 630.2L454.0 630.3L457.0 630.4L460.0 630.5L463.0 630.5L466.0 630.6L469.0 630.6L472.0 630.5L475.0 630.4L478.0 630.1L481.0 629.6L484.0 629.0L487.0 628.3L488.2 628.0L490.0 627.5L493.0 626.5L496.0 625.5L497.2 625.0L499.0 624.2L502.0 622.7L503.3 622.0L505.0 620.8L507.3 619.0L508.0 618.3L510.0 616.0L511.0 614.3L511.7 613.0L512.6 610.0L512.9 607.0L512.6 604.0L511.8 601.0L511.0 599.2L510.4 598.0L508.2 595.0L508.0 594.7L505.0 592.0L505.0 592.0L502.0 590.1L499.9 589.0L499.0 588.6L496.0 587.5L493.0 586.6L490.5 586.0L490.0 585.9L487.0 585.3L484.0 584.9L481.0 584.5L478.0 584.2L475.0 583.9L472.0 583.7L469.0 583.4L466.0 583.0L465.8 583.0L463.0 582.6L460.0 582.2L457.0 581.6L454.0 581.0L451.0 580.3L450.0 580.0L448.0 579.5L445.0 578.7L442.0 577.8L439.0 577.0L439.0 577.0L436.0 576.3L433.0 575.7L430.0 575.3L427.0 575.2L424.0 575.4L421.0 575.9ZM245.1 793.0L247.0 791.3L250.0 790.1L253.0 791.8L254.2 793.0L256.0 796.0L256.0 796.0L256.9 799.0L257.5 802.0L257.8 805.0L256.0 805.0L253.0 805.0L250.0 805.0L247.0 805.0L244.0 805.0L241.0 805.0L239.5 805.0L240.4 802.0L241.0 800.2L241.5 799.0L243.0 796.0L244.0 794.4Z"/><path fill="#c24200" d="M307.0 541.0L310.0 540.3L313.0 540.5L314.1 541.0L316.0 542.8L316.8 544.0L317.1 547.0L316.4 550.0L316.0 550.9L314.8 553.0L313.0 555.9L312.9 556.0L310.5 559.0L310.0 559.8L307.7 562.0L307.0 563.6L305.5 565.0L307.0 566.4L307.5 568.0L310.0 570.9L310.1 571.0L312.3 574.0L313.0 574.7L314.5 577.0L316.0 578.9L316.7 580.0L318.6 583.0L319.0 583.6L320.5 586.0L322.0 588.4L322.3 589.0L324.2 592.0L325.0 593.2L326.1 595.0L328.0 598.0L328.0 598.0L329.9 601.0L331.0 602.9L331.7 604.0L332.9 607.0L333.2 610.0L332.4 613.0L331.0 614.7L329.7 616.0L328.0 617.0L325.0 618.2L322.0 618.6L319.0 618.6L316.0 618.1L313.0 617.3L310.0 616.2L309.4 616.0L307.0 615.1L304.0 614.0L301.0 613.1L300.5 613.0L298.0 612.4L295.0 611.9L292.0 611.5L289.0 611.0L286.0 610.2L285.4 610.0L283.0 608.9L280.1 607.0L280.0 606.9L277.6 604.0L277.0 602.3L276.5 601.0L276.2 598.0L276.5 595.0L277.0 592.7L277.2 592.0L278.1 589.0L279.2 586.0L280.0 584.0L280.5 583.0L281.9 580.0L283.0 577.9L283.6 577.0L285.4 574.0L286.0 572.9L287.5 571.0L289.0 568.7L289.8 568.0L292.0 565.1L292.1 565.0L292.9 562.0L292.0 559.2L292.0 559.0L291.8 556.0L292.0 555.4L292.7 553.0L294.7 550.0L295.0 549.7L297.8 547.0L298.0 546.9L301.0 544.7L301.9 544.0L304.0 542.8L307.0 541.0ZM417.4 577.0L418.0 576.7L421.0 575.9L424.0 575.4L427.0 575.2L430.0 575.3L433.0 575.7L436.0 576.3L439.0 577.0L439.0 577.0L442.0 577.8L445.0 578.7L448.0 579.5L450.0 580.0L451.0 580.3L454.0 581.0L457.0 581.6L460.0 582.2L463.0 582.6L465.8 583.0L466.0 583.0L469.0 583.4L472.0 583.7L475.0 583.9L478.0 584.2L481.0 584.5L484.0 584.9L487.0 585.3L490.0 585.9L490.5 586.0L493.0 586.6L496.0 587.5L499.0 588.6L499.9 589.0L502.0 590.1L505.0 592.0L505.0 592.0L508.0 594.7L508.2 595.0L510.4 598.0L511.0 599.2L511.8 601.0L512.6 604.0L512.9 607.0L512.6 610.0L511.7 613.0L511.0 614.3L510.0 616.0L508.0 618.3L507.3 619.0L505.0 620.8L503.3 622.0L502.0 622.7L499.0 624.2L497.2 625.0L496.0 625.5L493.0 626.5L490.0 627.5L488.2 628.0L487.0 628.3L484.0 629.0L481.0 629.6L478.0 630.1L475.0 630.4L472.0 630.5L469.0 630.6L466.0 630.6L463.0 630.5L460.0 630.5L457.0 630.4L454.0 630.3L451.0 630.2L448.0 630.1L445.0 630.1L442.0 630.0L439.0 630.1L436.0 630.2L433.0 630.4L430.0 630.6L427.0 630.8L424.0 630.9L421.4 631.0L421.0 631.0L418.0 631.1L415.0 631.2L412.0 631.2L409.0 631.1L406.2 631.0L406.0 631.0L403.0 630.6L400.0 629.9L397.0 628.6L395.9 628.0L394.0 626.6L392.2 625.0L391.0 623.6L389.9 622.0L388.3 619.0L388.0 618.1L387.3 616.0L386.9 613.0L386.9 610.0L387.3 607.0L388.0 604.6L388.2 604.0L389.5 601.0L391.0 598.6L391.4 598.0L393.8 595.0L394.0 594.8L396.6 592.0L397.0 591.6L399.6 589.0L400.0 588.7L402.9 586.0L403.0 586.0L406.0 583.5L406.7 583.0L409.0 581.4L411.2 580.0L412.0 579.5L415.0 578.0ZM590.4 583.0L592.0 582.5L595.0 582.1L598.0 582.1L601.0 582.6L602.3 583.0L604.0 583.5L607.0 585.0L608.5 586.0L610.0 586.9L612.6 589.0L613.0 589.3L616.0 592.0L616.0 592.0L619.0 594.6L619.5 595.0L622.0 596.9L623.9 598.0L625.0 598.6L628.0 599.9L631.0 600.6L634.0 600.9L637.0 600.8L640.0 600.4L643.0 599.9L646.0 599.3L649.0 598.9L652.0 598.8L655.0 598.9L658.0 599.6L661.0 600.9L661.1 601.0L664.0 603.0L665.1 604.0L667.0 606.3L667.5 607.0L669.2 610.0L670.0 612.5L670.2 613.0L670.7 616.0L670.7 619.0L670.1 622.0L670.0 622.1L668.8 625.0L667.0 627.7L666.8 628.0L664.0 630.7L663.6 631.0L661.0 632.8L658.6 634.0L658.0 634.3L655.0 635.3L652.0 636.0L649.0 636.4L646.0 636.6L643.0 636.6L640.0 636.5L637.0 636.4L634.0 636.3L631.0 636.3L628.0 636.4L625.0 636.7L622.4 637.0L622.0 637.0L619.0 637.4L616.0 637.8L613.0 638.0L610.0 638.0L607.0 637.7L604.4 637.0L604.0 636.9L601.0 635.6L598.3 634.0L598.0 633.8L595.0 631.6L594.3 631.0L592.0 628.9L591.1 628.0L589.0 625.9L588.2 625.0L586.0 622.4L585.7 622.0L583.6 619.0L583.0 618.0L581.8 616.0L580.4 613.0L580.0 611.8L579.4 610.0L578.6 607.0L578.3 604.0L578.2 601.0L578.5 598.0L579.1 595.0L580.0 592.7L580.3 592.0L582.1 589.0L583.0 587.9L584.9 586.0L586.0 585.2L589.0 583.5ZM727.9 640.0L730.0 639.7L733.0 639.6L736.0 639.6L739.0 639.8L742.0 640.0L742.0 640.0L745.0 640.3L748.0 640.6L751.0 640.9L754.0 641.2L757.0 641.5L760.0 641.8L763.0 642.0L766.0 642.3L769.0 642.5L772.0 642.8L773.3 643.0L775.0 643.2L778.0 643.6L781.0 644.1L784.0 644.6L787.0 645.2L790.0 645.8L790.7 646.0L793.0 646.5L796.0 647.3L799.0 648.2L801.7 649.0L802.0 649.1L805.0 650.2L808.0 651.5L809.2 652.0L811.0 652.9L814.0 654.6L814.6 655.0L817.0 656.7L818.6 658.0L820.0 659.3L820.0 661.0L820.0 664.0L820.0 667.0L820.0 670.0L820.0 673.0L820.0 676.0L820.0 679.0L820.0 682.0L820.0 685.0L820.0 688.0L820.0 691.0L820.0 694.0L820.0 697.0L820.0 699.3L819.1 700.0L817.0 701.5L814.4 703.0L814.0 703.2L811.0 704.7L808.0 705.9L807.8 706.0L805.0 707.0L802.0 707.9L799.0 708.8L798.2 709.0L796.0 709.6L793.0 710.3L790.0 710.9L787.0 711.4L784.0 711.7L781.0 711.8L778.0 711.6L775.0 711.2L772.0 710.5L769.0 709.5L767.8 709.0L766.0 708.2L763.0 706.6L762.1 706.0L760.0 704.7L757.6 703.0L757.0 702.5L754.0 700.2L753.8 700.0L751.0 697.7L750.1 697.0L748.0 695.3L746.4 694.0L745.0 693.0L742.0 691.0L742.0 691.0L739.0 689.8L736.0 689.2L733.0 688.8L730.0 688.4L727.0 688.0L727.0 688.0L724.0 687.4L721.0 686.5L718.0 685.2L717.7 685.0L715.0 683.3L713.6 682.0L712.0 680.3L711.0 679.0L709.2 676.0L709.0 675.5L708.0 673.0L707.3 670.0L706.8 667.0L706.7 664.0L706.9 661.0L707.4 658.0L708.2 655.0L709.0 653.1L709.5 652.0L711.3 649.0L712.0 648.2L714.0 646.0L715.0 645.2L718.0 643.1L718.3 643.0L721.0 641.7L724.0 640.8L727.0 640.1Z"/>
</g>
<g clip-path="url(#mc)" fill="#000">
<path d="M80.0 64.0 L614.8 64.0 L614.8 67.6 L620.9 73.6 L618.6 79.7 L623.9 84.2 L625.5 90.3 L620.9 93.3 L612.6 99.4 L608.8 105.5 L605.8 114.5 L604.2 123.6 L604.2 135.8 L602.7 147.9 L601.6 154.9 L597.5 163.1 L595.8 169.6 L586.1 176.1 L579.5 182.6 L573.0 190.8 L563.2 199.0 L558.3 207.1 L551.8 215.3 L546.9 221.8 L537.1 230.0 L525.7 238.1 L515.9 246.3 L507.7 254.4 L498.0 262.6 L494.8 267.6 L489.2 275.1 L478.0 280.7 L466.8 286.3 L451.9 291.9 L437.0 295.6 L427.6 293.8 L422.0 291.9 L420.2 283.5 L410.9 290.0 L412.7 282.6 L409.0 284.4 L399.7 293.8 L386.6 297.5 L381.0 304.9 L371.7 312.4 L364.2 319.9 L364.2 329.2 L364.4 336.1 L353.9 340.5 L345.2 347.5 L338.2 352.7 L327.7 356.2 L319.0 361.5 L316.3 366.7 L313.7 372.0 L320.7 375.5 L329.4 380.7 L336.4 387.7 L341.7 396.4 L346.9 403.4 L353.9 412.2 L357.4 419.2 L358.3 427.9 L359.2 438.4 L360.0 445.4 L357.4 455.9 L353.0 464.0 L345.0 468.7 L337.0 470.3 L330.6 472.0 L322.6 473.5 L317.8 478.3 L310.0 480.0 L302.0 483.0 L294.0 484.7 L286.0 483.0 L281.0 478.3 L279.6 472.0 L285.7 464.6 L289.2 455.9 L292.7 445.4 L289.7 436.1 L285.2 427.0 L286.7 420.9 L291.2 416.4 L294.2 410.3 L289.7 405.8 L282.1 404.2 L273.0 401.2 L260.9 399.7 L254.8 396.7 L259.4 387.6 L263.9 380.0 L268.5 370.9 L263.9 366.4 L251.8 363.3 L242.7 359.5 L223.0 361.8 L207.9 367.9 L200.3 372.4 L189.7 378.5 L179.1 383.0 L173.9 381.7 L179.5 366.4 L182.3 359.4 L190.7 351.0 L199.1 344.0 L193.5 338.4 L187.9 336.3 L175.3 336.3 L168.3 342.6 L162.7 348.2 L155.7 353.1 L145.9 355.9 L136.2 360.8 L133.4 366.4 L126.4 372.0 L118.0 376.2 L111.0 374.8 L104.0 374.8 L98.4 377.6 L95.6 386.0 L99.8 392.9 L108.2 395.7 L118.0 397.1 L125.0 399.9 L126.4 408.3 L129.2 415.3 L139.0 418.1 L146.0 413.9 L152.9 409.7 L162.7 404.1 L168.3 401.0 L173.9 405.5 L187.9 408.3 L199.1 411.1 L206.1 413.9 L208.9 418.0 L204.8 422.0 L201.9 425.1 L190.7 426.5 L179.5 430.7 L168.3 436.3 L160.0 441.9 L151.5 446.1 L147.6 450.5 L138.3 455.2 L133.6 466.9 L140.0 477.0 L154.0 481.2 L161.0 495.2 L163.8 505.0 L169.4 517.6 L176.4 524.5 L186.2 531.5 L191.7 538.5 L190.3 548.3 L189.0 556.7 L180.6 562.3 L168.0 567.9 L163.5 571.0 L170.0 574.0 L183.0 572.8 L192.3 577.5 L197.0 582.0 L192.0 586.0 L194.0 593.0 L188.0 598.5 L186.0 606.6 L183.0 612.4 L176.0 617.1 L170.1 625.3 L165.5 632.3 L159.4 640.0 L151.0 647.5 L149.0 652.0 L147.0 657.0 L143.0 662.0 L141.7 670.8 L139.8 677.3 L130.5 681.0 L125.8 688.5 L119.3 694.1 L110.0 699.7 L103.4 703.4 L96.0 710.9 L89.5 717.4 L84.0 721.5 L80.0 723.0 Z M634.5 64.0 L634.5 67.6 L632.3 76.7 L629.2 85.0 L628.5 90.3 L633.0 94.8 L639.8 103.9 L642.1 110.0 L638.3 117.6 L639.8 128.2 L639.1 144.8 L635.3 158.5 L639.8 169.0 L641.4 179.1 L636.9 185.4 L636.5 191.0 L638.3 198.0 L633.4 209.2 L635.5 219.0 L639.0 224.5 L642.5 219.0 L646.7 210.6 L650.9 207.1 L654.4 209.2 L664.2 209.9 L667.7 213.4 L668.7 221.7 L673.3 214.8 L669.8 204.3 L664.2 203.6 L661.4 200.8 L659.3 193.1 L653.0 189.6 L649.5 184.0 L650.2 174.2 L654.2 166.0 L658.8 153.9 L666.4 149.4 L678.5 150.2 L686.1 153.2 L692.9 158.5 L696.7 163.0 L688.3 152.4 L686.1 141.8 L678.5 126.7 L675.5 116.0 L669.4 102.4 L663.3 85.8 L664.8 79.7 L667.1 67.6 L667.1 64.0 Z M628.5 236.0 L636.0 233.8 L643.6 239.0 L652.7 246.7 L661.8 254.2 L670.9 260.3 L680.0 263.3 L692.0 266.4 L699.0 266.7 L706.7 263.6 L712.0 259.8 L709.7 265.0 L706.7 271.2 L709.7 277.3 L714.2 281.8 L717.3 282.6 L708.2 284.8 L703.6 287.9 L699.0 290.2 L690.0 290.5 L685.8 291.0 L675.2 295.2 L667.6 305.8 L665.0 312.0 L660.0 309.4 L649.9 306.6 L640.6 302.9 L634.1 299.2 L626.6 298.2 L619.2 301.0 L613.6 303.8 L608.0 300.1 L602.4 300.1 L600.5 303.8 L604.2 306.6 L610.8 309.4 L617.3 313.1 L619.2 316.0 L612.6 316.0 L607.0 317.8 L600.5 323.4 L595.0 324.3 L593.0 319.7 L595.9 315.0 L593.0 310.3 L588.4 305.7 L588.9 302.0 L590.3 297.3 L596.8 293.6 L604.2 288.9 L600.5 285.2 L601.4 281.9 L608.0 282.4 L619.2 285.2 L623.8 281.4 L622.9 273.0 L628.5 268.4 L629.4 260.0 L631.5 246.7 Z M599.6 330.0 L601.4 328.0 L608.0 329.0 L609.8 327.1 L610.8 324.3 L615.4 325.3 L622.0 324.3 L624.8 325.3 L624.1 330.0 L625.3 341.7 L632.3 348.6 L636.9 359.1 L638.1 367.3 L634.6 374.3 L629.9 380.1 L627.6 387.1 L625.3 393.0 L618.3 394.1 L614.8 399.9 L616.7 409.1 L615.2 422.7 L609.1 431.8 L606.1 439.4 L609.1 445.5 L612.9 450.8 L606.1 452.3 L603.0 457.6 L601.5 462.1 L597.0 465.2 L589.4 468.2 L589.4 462.1 L592.4 457.6 L593.9 453.0 L589.4 454.5 L586.4 459.1 L586.4 463.6 L583.3 466.7 L578.8 460.6 L574.2 462.1 L571.2 469.7 L569.7 474.2 L566.7 472.7 L565.2 465.2 L560.6 466.7 L556.1 471.2 L548.5 474.2 L536.4 474.2 L528.8 472.7 L524.2 468.2 L518.2 469.7 L516.7 474.2 L524.2 478.8 L521.2 483.3 L510.6 487.9 L504.5 497.0 L500.0 501.5 L493.6 498.7 L489.7 494.9 L483.3 492.3 L479.5 488.5 L483.3 482.1 L489.7 476.0 L482.0 474.4 L476.9 476.9 L471.8 474.4 L464.1 475.6 L456.4 478.2 L448.7 479.5 L438.5 482.1 L430.8 482.1 L424.0 483.0 L417.0 488.0 L410.0 489.0 L403.0 489.0 L396.0 488.8 L391.1 488.0 L390.4 484.6 L392.5 479.7 L394.5 474.7 L402.9 472.6 L407.7 471.0 L417.9 466.7 L425.6 461.5 L430.8 456.4 L442.3 454.5 L451.3 455.1 L461.5 453.8 L471.8 452.6 L484.6 451.3 L489.7 451.3 L494.9 453.8 L502.6 451.3 L505.1 443.6 L509.1 437.9 L518.2 430.3 L520.5 424.2 L519.7 418.2 L522.7 414.4 L530.3 411.4 L534.8 411.4 L531.8 415.2 L527.3 418.2 L527.3 425.8 L531.8 427.3 L536.4 423.5 L550.0 418.2 L560.6 412.1 L566.7 404.5 L572.8 400.0 L580.4 395.3 L582.1 389.4 L588.0 382.4 L590.3 374.3 L592.6 367.3 L592.6 360.3 L588.0 356.8 L593.2 349.8 L590.9 345.2 L591.5 340.5 L599.6 335.8 Z M423.9 494.6 L430.2 489.4 L440.7 485.2 L453.3 485.2 L463.8 481.0 L474.3 478.9 L476.4 487.3 L482.6 491.5 L486.8 497.8 L474.3 499.9 L465.9 504.0 L461.7 500.9 L453.3 502.0 L447.0 504.0 L440.7 510.3 L438.6 516.6 L432.3 512.4 L428.1 508.2 L423.9 504.0 L415.5 505.1 L409.2 504.0 L419.7 500.9 L425.0 497.8 Z M390.0 485.0 L394.0 488.8 L395.3 495.0 L399.5 497.9 L407.9 497.9 L409.3 501.4 L405.0 504.9 L411.4 508.4 L414.2 514.0 L409.2 522.9 L405.0 531.3 L402.9 539.7 L398.7 546.0 L392.4 548.1 L390.3 553.4 L386.1 554.4 L385.1 548.1 L387.2 543.9 L384.0 539.7 L382.0 546.0 L377.8 548.1 L374.6 546.0 L376.7 537.6 L374.6 529.2 L371.5 527.1 L374.6 520.8 L379.9 518.7 L382.0 512.4 L376.7 510.3 L371.5 514.5 L367.3 512.4 L363.1 508.2 L361.0 502.0 L358.9 499.9 L363.1 497.8 L369.4 499.9 L371.5 495.7 L379.9 494.6 L382.0 491.6 L387.0 486.5 Z M183.1 682.2 L188.9 685.1 L192.4 688.6 L190.0 693.3 L188.9 700.3 L186.6 707.3 L184.2 716.6 L181.9 725.9 L179.6 731.7 L174.9 738.7 L171.4 743.3 L169.1 750.3 L167.9 756.1 L165.0 756.7 L163.9 750.3 L161.0 746.8 L155.1 741.0 L152.8 735.2 L150.5 730.5 L152.8 718.9 L156.3 713.1 L162.1 701.4 L169.1 692.1 L173.8 687.5 L178.4 685.1 Z M713.5 272.7 L714.5 269.2 L720.3 264.2 L727.5 256.6 L730.9 255.3 L738.5 257.3 L736.0 259.6 L729.4 262.0 L722.5 269.2 L717.0 274.7 Z M744.5 256.0 L750.0 250.5 L757.5 245.0 L761.0 242.0 L767.5 235.0 L770.5 236.5 L775.0 237.0 L782.0 233.5 L787.0 231.0 L790.5 233.5 L789.5 237.0 L782.0 240.5 L775.5 243.0 L769.5 245.5 L763.0 249.0 L756.0 253.5 L748.0 259.0 Z M801.5 232.5 L806.0 227.5 L813.5 222.0 L816.0 220.5 L816.0 226.5 L809.0 230.8 L803.5 233.8 Z M357.5 473.2 L360.3 474.5 L358.8 480.0 L356.0 487.0 L352.5 486.5 L353.5 480.0 Z M334.3 648.1 L332.0 652.0 L326.0 657.0 L321.0 663.8 L318.6 663.0 L322.0 656.0 L328.0 651.0 Z M364.7 611.4 L363.0 614.0 L356.0 618.0 L352.2 620.8 L353.0 617.0 L358.0 613.0 Z"/>
<ellipse cx="295.0" cy="503.0" rx="8.8" ry="3.4" transform="rotate(-8 295.0 503.0)"/><ellipse cx="557.5" cy="398.5" rx="3.0" ry="6.2" transform="rotate(25 557.5 398.5)"/><ellipse cx="743.5" cy="271.0" rx="3.5" ry="1.6" transform="rotate(-10 743.5 271.0)"/><ellipse cx="392.5" cy="564.0" rx="1.8" ry="5.5" transform="rotate(15 392.5 564.0)"/><ellipse cx="382.5" cy="570.0" rx="3.3" ry="3.0" transform="rotate(0 382.5 570.0)"/><ellipse cx="347.5" cy="627.0" rx="1.6" ry="2.0" transform="rotate(0 347.5 627.0)"/><ellipse cx="340.0" cy="635.5" rx="1.6" ry="1.0" transform="rotate(0 340.0 635.5)"/><ellipse cx="298.7" cy="658.6" rx="1.3" ry="1.0" transform="rotate(0 298.7 658.6)"/><ellipse cx="311.3" cy="662.4" rx="1.5" ry="1.0" transform="rotate(0 311.3 662.4)"/><ellipse cx="266.5" cy="693.5" rx="3.2" ry="1.8" transform="rotate(20 266.5 693.5)"/><ellipse cx="233.0" cy="702.5" rx="3.8" ry="2.2" transform="rotate(0 233.0 702.5)"/><ellipse cx="243.0" cy="700.5" rx="2.8" ry="2.0" transform="rotate(-30 243.0 700.5)"/><ellipse cx="582.0" cy="307.5" rx="2.0" ry="2.5" transform="rotate(0 582.0 307.5)"/><ellipse cx="615.5" cy="235.5" rx="1.8" ry="1.8" transform="rotate(0 615.5 235.5)"/><ellipse cx="621.0" cy="241.0" rx="2.5" ry="2.5" transform="rotate(0 621.0 241.0)"/><ellipse cx="390.3" cy="411.3" rx="1.4" ry="1.4" transform="rotate(0 390.3 411.3)"/><ellipse cx="443.6" cy="439.1" rx="2.0" ry="2.0" transform="rotate(0 443.6 439.1)"/><ellipse cx="438.5" cy="443.0" rx="1.6" ry="1.2" transform="rotate(0 438.5 443.0)"/><ellipse cx="342.0" cy="515.0" rx="3.2" ry="4.5" transform="rotate(40 342.0 515.0)"/><ellipse cx="348.0" cy="509.0" rx="2.5" ry="3.5" transform="rotate(40 348.0 509.0)"/><ellipse cx="351.5" cy="505.5" rx="1.5" ry="2.0" transform="rotate(40 351.5 505.5)"/><ellipse cx="365.0" cy="493.7" rx="2.3" ry="2.3" transform="rotate(0 365.0 493.7)"/><ellipse cx="367.0" cy="539.0" rx="3.5" ry="1.3" transform="rotate(-40 367.0 539.0)"/><ellipse cx="300.0" cy="486.5" rx="2.0" ry="1.5" transform="rotate(0 300.0 486.5)"/><ellipse cx="312.0" cy="483.0" rx="2.0" ry="1.3" transform="rotate(0 312.0 483.0)"/><ellipse cx="326.0" cy="477.0" rx="2.0" ry="1.3" transform="rotate(0 326.0 477.0)"/><ellipse cx="189.2" cy="783.6" rx="1.2" ry="2.0" transform="rotate(0 189.2 783.6)"/><ellipse cx="192.0" cy="791.0" rx="1.2" ry="1.5" transform="rotate(0 192.0 791.0)"/><ellipse cx="139.5" cy="720.0" rx="1.5" ry="2.0" transform="rotate(0 139.5 720.0)"/><ellipse cx="620.0" cy="217.0" rx="1.0" ry="1.0" transform="rotate(0 620.0 217.0)"/>
</g>
<g stroke="#000" stroke-width="1"><line x1="82.5" x2="82.5" y1="67" y2="800.5"/><line x1="815" x2="815" y1="67" y2="800.5"/><line x1="82" x2="815.5" y1="67.5" y2="67.5"/><line x1="82" x2="815.5" y1="800" y2="800"/></g>
<g stroke="#000" stroke-width="1"><line x1="149.0" x2="149.0" y1="800.0" y2="820.0"/><line x1="149.0" x2="149.0" y1="67.0" y2="47.5"/><line x1="371.0" x2="371.0" y1="800.0" y2="820.0"/><line x1="371.0" x2="371.0" y1="67.0" y2="47.5"/><line x1="593.0" x2="593.0" y1="800.0" y2="820.0"/><line x1="593.0" x2="593.0" y1="67.0" y2="47.5"/><line x1="815.0" x2="815.0" y1="800.0" y2="820.0"/><line x1="815.0" x2="815.0" y1="67.0" y2="47.5"/><line x1="82.0" x2="62.5" y1="134.0" y2="134.0"/><line x1="815.0" x2="834.5" y1="134.0" y2="134.0"/><line x1="82.0" x2="62.5" y1="356.0" y2="356.0"/><line x1="815.0" x2="834.5" y1="356.0" y2="356.0"/><line x1="82.0" x2="62.5" y1="578.0" y2="578.0"/><line x1="815.0" x2="834.5" y1="578.0" y2="578.0"/><line x1="82.0" x2="62.5" y1="800.0" y2="800.0"/><line x1="815.0" x2="834.5" y1="800.0" y2="800.0"/></g>
<g><rect x="872.50" y="67.50" width="28.00" height="18.43" fill="#800000"/><rect x="872.50" y="85.63" width="28.00" height="18.43" fill="#8f0f00"/><rect x="872.50" y="103.75" width="28.00" height="18.43" fill="#a01e00"/><rect x="872.50" y="121.88" width="28.00" height="18.43" fill="#b03000"/><rect x="872.50" y="140.01" width="28.00" height="18.43" fill="#c24200"/><rect x="872.50" y="158.14" width="28.00" height="18.43" fill="#d45400"/><rect x="872.50" y="176.27" width="28.00" height="18.43" fill="#e66400"/><rect x="872.50" y="194.39" width="28.00" height="18.43" fill="#f57300"/><rect x="872.50" y="212.52" width="28.00" height="18.43" fill="#ff8405"/><rect x="872.50" y="230.65" width="28.00" height="18.43" fill="#ff9419"/><rect x="872.50" y="248.78" width="28.00" height="18.43" fill="#ffa226"/><rect x="872.50" y="266.90" width="28.00" height="18.43" fill="#ffb035"/><rect x="872.50" y="285.03" width="28.00" height="18.43" fill="#ffbe45"/><rect x="872.50" y="303.16" width="28.00" height="18.43" fill="#ffcd55"/><rect x="872.50" y="321.29" width="28.00" height="18.43" fill="#ffde64"/><rect x="872.50" y="339.41" width="28.00" height="18.43" fill="#fff070"/><rect x="872.50" y="357.54" width="28.00" height="18.43" fill="#f0fa78"/><rect x="872.50" y="375.67" width="28.00" height="18.43" fill="#d5fa78"/><rect x="872.50" y="393.80" width="28.00" height="18.43" fill="#a8f878"/><rect x="872.50" y="411.92" width="28.00" height="18.43" fill="#88f878"/><rect x="872.50" y="430.05" width="28.00" height="18.43" fill="#7cf888"/><rect x="872.50" y="448.18" width="28.00" height="18.43" fill="#7cf8b0"/><rect x="872.50" y="466.31" width="28.00" height="18.43" fill="#78f8d8"/><rect x="872.50" y="484.43" width="28.00" height="18.43" fill="#78fcf0"/><rect x="872.50" y="502.56" width="28.00" height="18.43" fill="#78f8ff"/><rect x="872.50" y="520.69" width="28.00" height="18.43" fill="#68e8ff"/><rect x="872.50" y="538.82" width="28.00" height="18.43" fill="#58d4ff"/><rect x="872.50" y="556.94" width="28.00" height="18.43" fill="#48c0ff"/><rect x="872.50" y="575.07" width="28.00" height="18.43" fill="#38acff"/><rect x="872.50" y="593.20" width="28.00" height="18.43" fill="#2898ff"/><rect x="872.50" y="611.33" width="28.00" height="18.43" fill="#1888ff"/><rect x="872.50" y="629.45" width="28.00" height="18.43" fill="#107cff"/><rect x="872.50" y="647.58" width="28.00" height="18.43" fill="#1070f0"/><rect x="872.50" y="665.71" width="28.00" height="18.43" fill="#1c64e0"/><rect x="872.50" y="683.84" width="28.00" height="18.43" fill="#2c54d0"/><rect x="872.50" y="701.96" width="28.00" height="18.43" fill="#3c44c0"/><rect x="872.50" y="720.09" width="28.00" height="18.43" fill="#4c34b0"/><rect x="872.50" y="738.22" width="28.00" height="18.43" fill="#5c24a4"/><rect x="872.50" y="756.35" width="28.00" height="18.43" fill="#6c1294"/><rect x="872.50" y="774.47" width="28.00" height="18.43" fill="#800080"/></g>
<g stroke="#000" stroke-width="1"><line x1="872.50" x2="900.50" y1="85.63" y2="85.63"/><line x1="872.50" x2="900.50" y1="103.75" y2="103.75"/><line x1="872.50" x2="900.50" y1="121.88" y2="121.88"/><line x1="872.50" x2="900.50" y1="140.01" y2="140.01"/><line x1="872.50" x2="900.50" y1="158.14" y2="158.14"/><line x1="872.50" x2="900.50" y1="176.27" y2="176.27"/><line x1="872.50" x2="900.50" y1="194.39" y2="194.39"/><line x1="872.50" x2="900.50" y1="212.52" y2="212.52"/><line x1="872.50" x2="900.50" y1="230.65" y2="230.65"/><line x1="872.50" x2="900.50" y1="248.78" y2="248.78"/><line x1="872.50" x2="900.50" y1="266.90" y2="266.90"/><line x1="872.50" x2="900.50" y1="285.03" y2="285.03"/><line x1="872.50" x2="900.50" y1="303.16" y2="303.16"/><line x1="872.50" x2="900.50" y1="321.29" y2="321.29"/><line x1="872.50" x2="900.50" y1="339.41" y2="339.41"/><line x1="872.50" x2="900.50" y1="357.54" y2="357.54"/><line x1="872.50" x2="900.50" y1="375.67" y2="375.67"/><line x1="872.50" x2="900.50" y1="393.80" y2="393.80"/><line x1="872.50" x2="900.50" y1="411.92" y2="411.92"/><line x1="872.50" x2="900.50" y1="430.05" y2="430.05"/><line x1="872.50" x2="900.50" y1="448.18" y2="448.18"/><line x1="872.50" x2="900.50" y1="466.31" y2="466.31"/><line x1="872.50" x2="900.50" y1="484.43" y2="484.43"/><line x1="872.50" x2="900.50" y1="502.56" y2="502.56"/><line x1="872.50" x2="900.50" y1="520.69" y2="520.69"/><line x1="872.50" x2="900.50" y1="538.82" y2="538.82"/><line x1="872.50" x2="900.50" y1="556.94" y2="556.94"/><line x1="872.50" x2="900.50" y1="575.07" y2="575.07"/><line x1="872.50" x2="900.50" y1="593.20" y2="593.20"/><line x1="872.50" x2="900.50" y1="611.33" y2="611.33"/><line x1="872.50" x2="900.50" y1="629.45" y2="629.45"/><line x1="872.50" x2="900.50" y1="647.58" y2="647.58"/><line x1="872.50" x2="900.50" y1="665.71" y2="665.71"/><line x1="872.50" x2="900.50" y1="683.84" y2="683.84"/><line x1="872.50" x2="900.50" y1="701.96" y2="701.96"/><line x1="872.50" x2="900.50" y1="720.09" y2="720.09"/><line x1="872.50" x2="900.50" y1="738.22" y2="738.22"/><line x1="872.50" x2="900.50" y1="756.35" y2="756.35"/><line x1="872.50" x2="900.50" y1="774.47" y2="774.47"/></g>
<rect x="872.5" y="67.5" width="28.0" height="725.1" fill="none" stroke="#8a9292" stroke-width="1"/>
<g class="t"><g font-size="26" fill="#000"><text x="149.0" y="857" text-anchor="middle">120E</text><text x="371.0" y="857" text-anchor="middle">130E</text><text x="593.0" y="857" text-anchor="middle">140E</text><text x="815.0" y="857" text-anchor="middle">150E</text><text x="47.5" y="134.5" text-anchor="end" dominant-baseline="central">50N</text><text x="47.5" y="356.5" text-anchor="end" dominant-baseline="central">40N</text><text x="47.5" y="578.5" text-anchor="end" dominant-baseline="central">30N</text><text x="47.5" y="800.5" text-anchor="end" dominant-baseline="central">20N</text><text x="927.5" y="176.8" text-anchor="middle" dominant-baseline="central">30</text><text x="927.5" y="358.0" text-anchor="middle" dominant-baseline="central">20</text><text x="927.5" y="539.3" text-anchor="middle" dominant-baseline="central">10</text><text x="927.5" y="720.6" text-anchor="middle" dominant-baseline="central">0</text></g>
<text x="81" y="24" font-size="32">sea surface temperature (20250917)</text>
<text x="782.3" y="14.9" font-size="21">o</text><text transform="translate(793.5 30.5) scale(0.884 1)" font-size="36">C</text></g>
</svg>
</body></html>
